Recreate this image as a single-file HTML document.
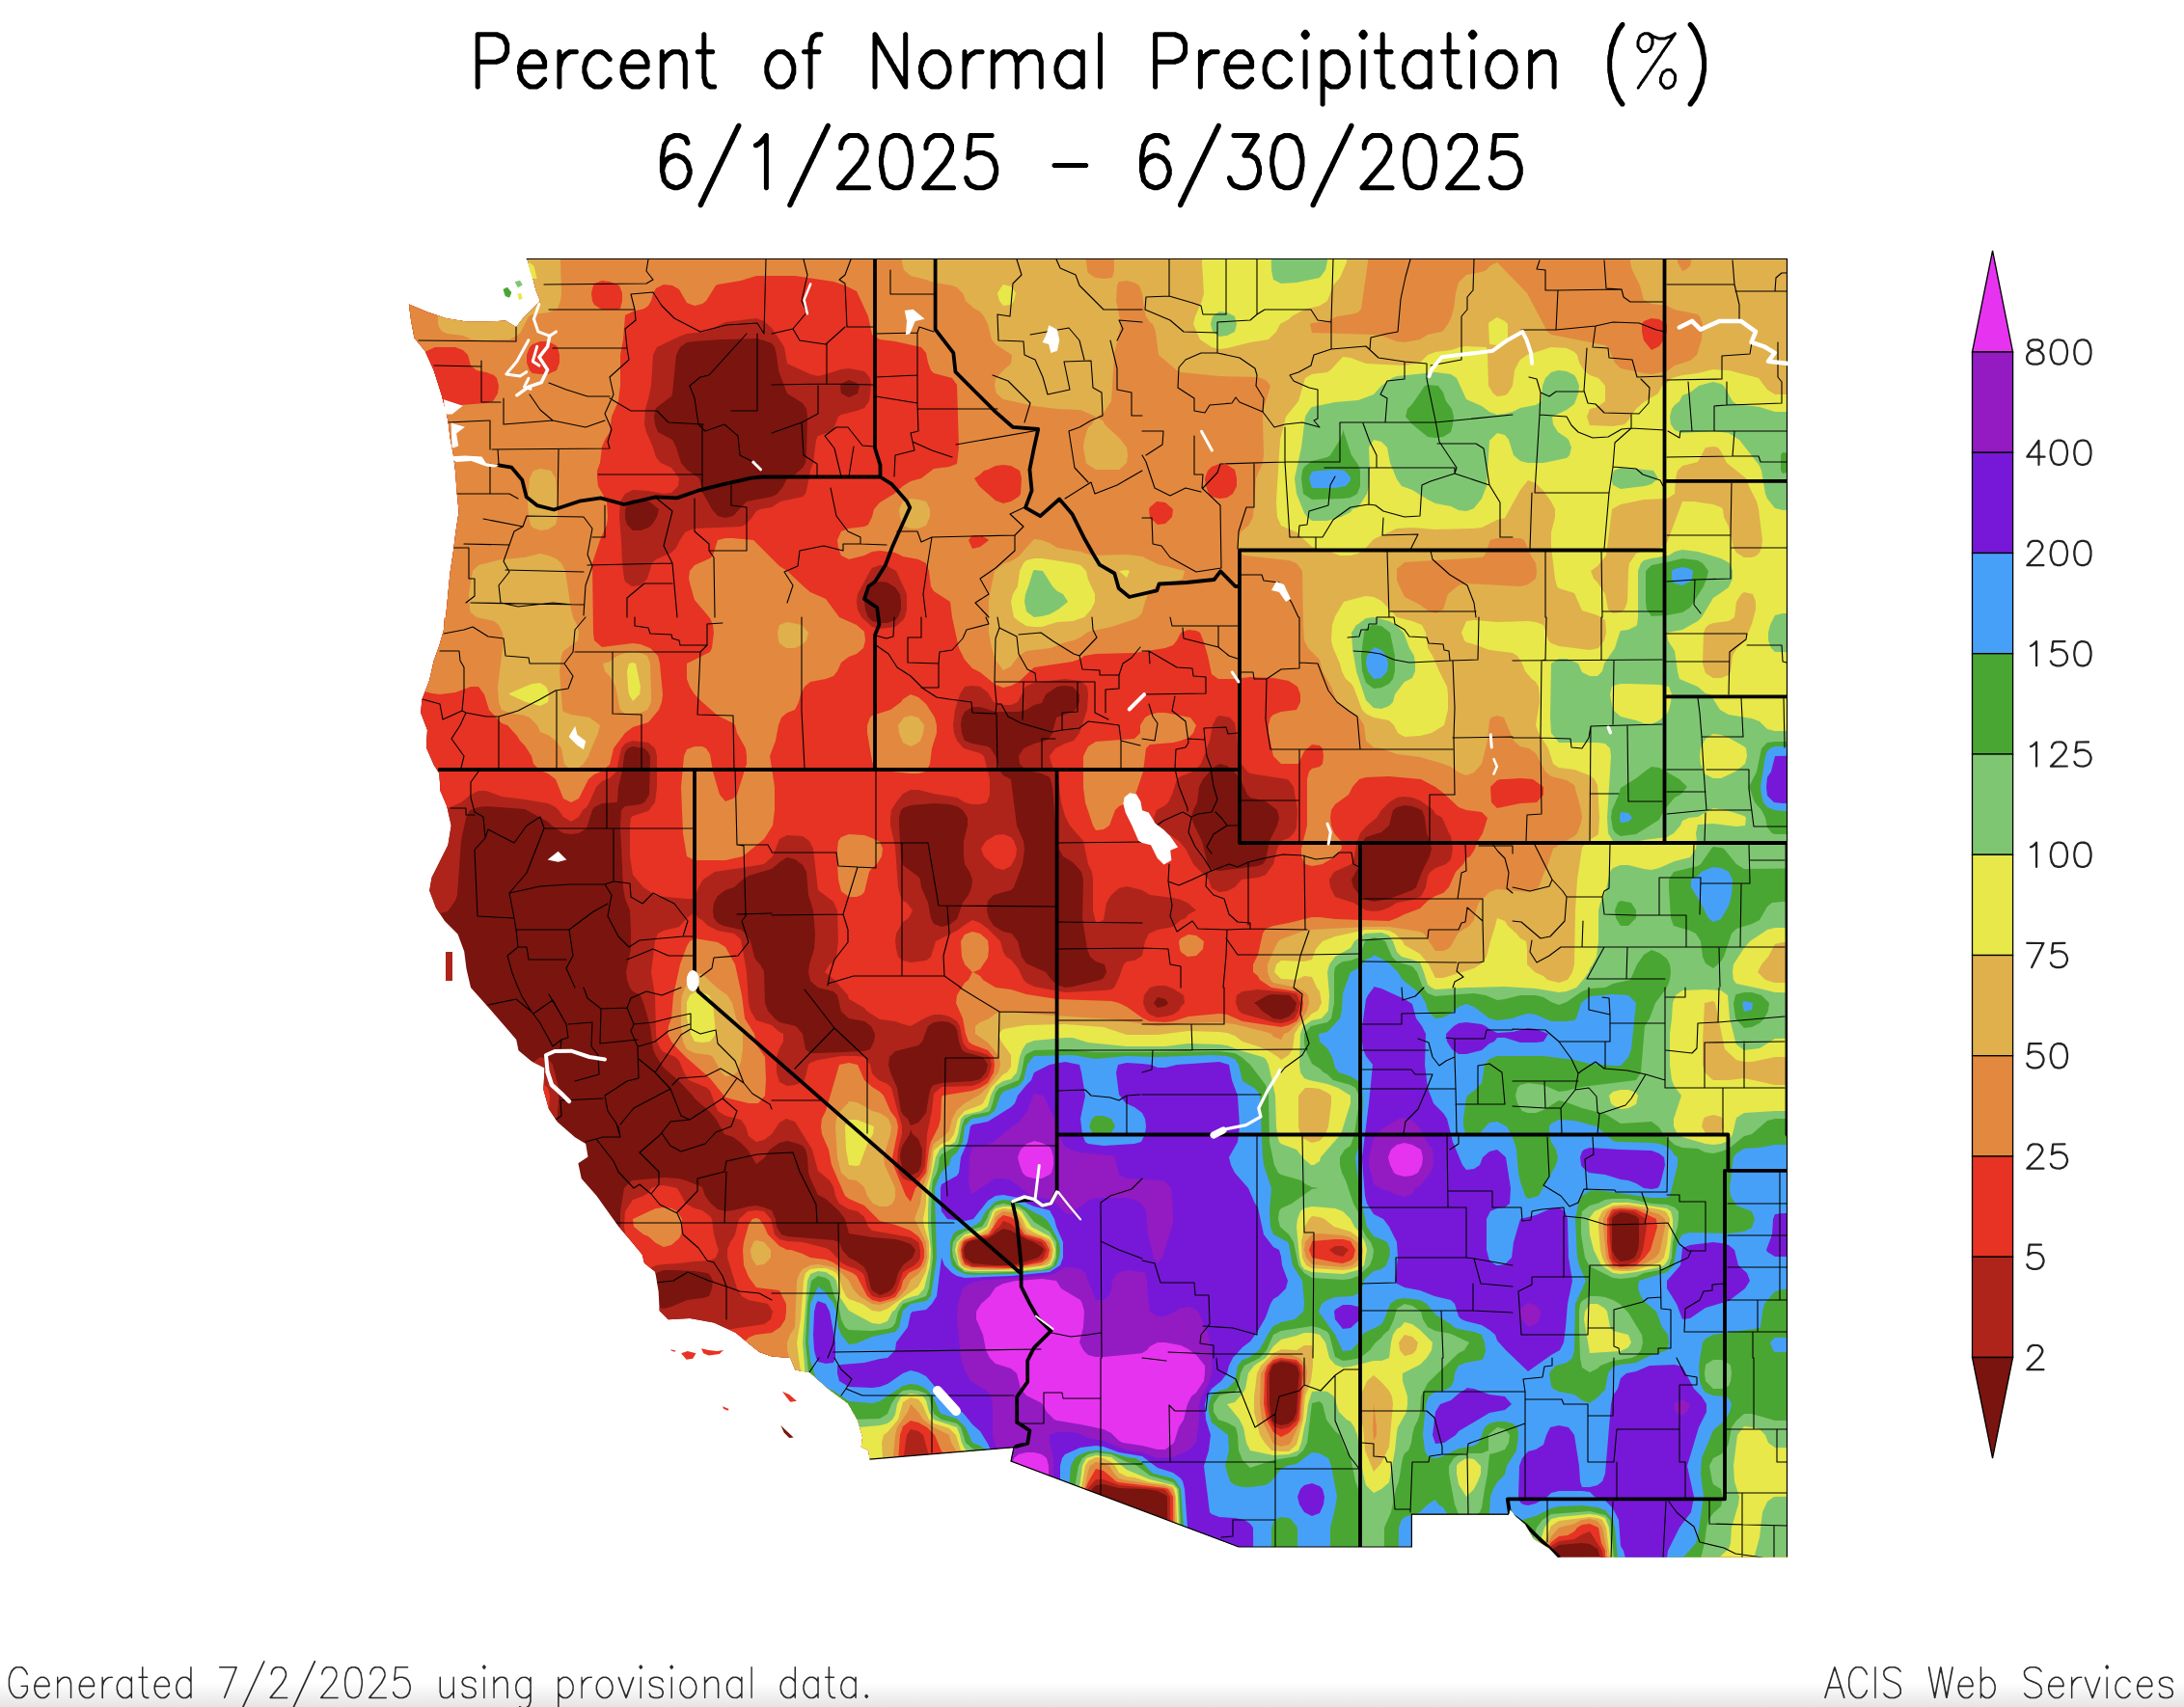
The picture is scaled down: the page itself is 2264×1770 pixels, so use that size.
<!DOCTYPE html>
<html lang="en"><head><meta charset="utf-8"><title>Percent of Normal Precipitation (%) 6/1/2025 - 6/30/2025</title>
<style>
html,body{margin:0;padding:0;background:#fff;}
body{width:2264px;height:1770px;overflow:hidden;position:relative;font-family:"Liberation Sans",sans-serif;}
svg{position:absolute;left:0;top:0;display:block}
.sr{position:absolute;color:transparent;font-size:10px;white-space:nowrap;overflow:hidden;width:1px;height:1px;left:0;top:0}
.shade{position:absolute;left:0;right:0;bottom:0;height:26px;background:linear-gradient(to bottom,rgba(0,0,0,0),rgba(0,0,0,0.10))}
</style></head><body>
<div class="shade"></div>
<svg width="2264" height="1770" viewBox="0 0 2264 1770">

<defs><clipPath id="land"><path d="M546.5,268.5 1852.5,268.5 1852.5,1614.5 1614.8,1614.8 1605.5,1604.9 1590.2,1595.7 1580.9,1580.3 1571.7,1572.6 1565.5,1564.9 1564.0,1570.2 1463.4,1570.2 1463.4,1604.0 1284.0,1604.0 1048.0,1515.1 1051.0,1500.7 901.5,1513.1 900.3,1503.9 892.8,1500.2 894.1,1490.2 889.1,1472.8 879.1,1455.3 859.2,1440.4 839.3,1422.9 824.3,1420.5 819.3,1408.0 800.0,1406.5 787.2,1402.0 776.0,1393.0 762.5,1381.7 740.0,1371.6 715.2,1367.1 692.7,1368.2 683.7,1359.2 682.6,1339.0 679.2,1318.7 668.0,1309.7 665.7,1300.7 654.5,1287.2 641.0,1271.5 629.7,1255.7 618.5,1240.0 602.7,1222.0 599.4,1206.2 609.5,1199.5 607.2,1186.0 596.0,1179.2 578.0,1163.5 569.0,1150.0 563.4,1129.7 564.5,1107.2 551.0,1100.5 537.5,1089.2 535.2,1078.0 521.7,1062.2 506.0,1044.2 488.0,1024.0 488.0,1024.0 483.5,1004.5 481.2,986.5 474.5,968.5 461.0,955.0 452.0,941.5 445.2,923.5 447.5,910.0 455.4,894.2 464.4,876.2 467.7,856.0 463.2,835.7 456.5,820.0 455.4,802.0 449.7,793.0 441.9,775.0 443.0,757.0 436.2,739.0 437.4,725.5 445.2,705.2 449.7,685.0 455.4,669.2 459.9,653.5 461.0,640.0 462.1,640.0 464.4,616.0 466.6,593.5 470.0,571.0 472.2,553.0 475.6,530.5 473.4,508.0 472.2,490.0 470.0,472.0 466.6,454.0 464.4,436.0 462.1,427.0 457.6,409.0 449.7,384.2 440.7,364.0 429.5,350.5 426.1,332.5 423.9,315.6 443.0,323.5 463.2,330.2 483.5,333.6 506.0,333.6 524.0,332.5 535.2,339.2 542.0,330.2 551.0,321.2 560.0,312.2 555.5,301.0 551.0,283.0 546.5,269.0Z"/></clipPath></defs>
<g clip-path="url(#land)">
<rect x="380" y="240" width="1500" height="1400" fill="#7a140e"/>
<path fill="#ae241a" fill-rule="evenodd" d="M376,208 1904,208 1904,1712 1659,1712 1659,1616 1656,1606 1648,1601 1640,1600 1616,1602 1607,1608 1605,1616 1605,1624 1605,1712 1211,1712 1210,1552 1208,1550 1200,1546 1187,1544 1160,1543 1144,1539 1136,1540 1132,1544 1128,1552 1126,1568 1120,1574 1104,1577 1099,1584 1096,1600 1088,1608 1072,1611 1067,1616 1067,1712 937,1712 937,1576 938,1560 936,1556 928,1558 920,1557 917,1560 917,1576 904,1589 896,1590 888,1589 885,1592 887,1616 886,1640 872,1653 864,1654 856,1653 853,1656 854,1664 855,1712 368,1712 368,1487 432,1487 448,1486 456,1480 462,1472 464,1455 480,1454 488,1448 494,1440 496,1423 544,1422 552,1416 558,1408 559,1392 576,1388 578,1384 580,1376 580,1360 583,1352 592,1348 608,1346 610,1344 612,1328 615,1320 624,1316 632,1315 640,1312 643,1304 644,1296 643,1272 643,1256 647,1232 655,1224 688,1221 704,1222 711,1224 728,1231 731,1240 737,1248 744,1254 752,1256 760,1255 776,1251 784,1250 792,1252 800,1255 804,1264 805,1272 810,1280 816,1282 864,1286 870,1288 873,1296 880,1304 888,1308 896,1314 899,1320 903,1336 904,1338 912,1343 920,1340 925,1336 928,1331 931,1320 936,1312 946,1304 949,1296 944,1290 936,1287 928,1285 904,1283 880,1279 876,1264 870,1256 856,1243 848,1239 840,1222 838,1216 837,1200 835,1192 832,1188 824,1185 816,1183 808,1185 798,1192 792,1201 784,1207 775,1192 768,1185 760,1179 751,1176 742,1160 736,1153 720,1139 718,1136 704,1121 688,1107 680,1095 677,1088 674,1064 667,1040 664,1032 656,1028 653,1024 650,1016 649,1008 654,984 654,968 653,944 648,932 646,920 643,856 644,840 648,836 664,834 668,832 673,824 674,784 672,780 668,776 656,774 651,776 648,780 647,784 645,800 641,816 640,831 639,832 624,833 616,837 614,840 608,859 600,864 592,865 584,864 572,856 568,852 544,839 504,836 496,837 487,840 483,848 478,872 474,928 472,934 464,945 456,947 368,946 368,208ZM747,352 720,354 712,355 705,360 701,368 697,408 696,411 680,423 678,432 679,440 682,448 697,456 701,464 706,480 712,487 725,496 729,512 738,528 744,535 752,537 760,535 774,520 800,515 806,512 812,504 816,496 824,492 832,485 835,480 836,472 837,432 836,424 832,418 816,408 807,384 805,368 803,360 800,356 792,353 784,351 752,352ZM871,400 872,408 880,412 889,408 891,400 888,397 880,394 872,398ZM652,520 648,528 648,537 650,544 656,550 664,550 672,547 676,544 681,536 683,528 673,520 656,518ZM903,608 897,616 896,624 897,632 900,640 904,644 912,646 920,646 928,643 931,640 934,632 934,624 933,616 928,609 920,604 912,603 904,606ZM1096,712 1084,720 1080,729 1072,731 1064,736 1056,738 1040,738 1032,738 1016,733 1008,733 1000,738 997,744 996,752 997,760 1000,768 1008,771 1024,774 1027,776 1032,784 1037,800 1040,804 1048,808 1054,856 1061,872 1062,880 1060,896 1051,920 1048,923 1030,928 1024,934 1023,944 1025,952 1030,960 1040,966 1049,968 1055,976 1059,992 1064,999 1084,1008 1090,1016 1096,1021 1104,1024 1112,1023 1141,1016 1144,1014 1147,1008 1145,1000 1136,997 1130,992 1127,984 1122,952 1123,912 1121,904 1112,894 1102,888 1096,877 1091,816 1089,808 1088,806 1080,802 1064,799 1057,792 1056,784 1061,776 1072,771 1084,768 1088,765 1091,760 1095,744 1112,738 1115,736 1119,728 1119,720 1112,712 1104,711 1096,712ZM1254,800 1247,808 1243,816 1241,832 1237,840 1235,848 1238,856 1246,872 1252,896 1256,901 1264,903 1272,902 1304,898 1309,896 1312,892 1316,872 1324,856 1326,848 1324,840 1312,831 1296,827 1293,824 1286,808 1280,801 1272,794 1264,792 1256,797ZM934,840 932,848 932,856 934,888 936,897 952,909 954,912 955,920 962,936 965,952 968,958 976,961 980,960 984,959 992,953 998,936 1004,928 1007,920 1008,912 1005,904 1000,896 999,888 999,872 1003,856 1003,848 998,840 992,836 984,834 968,833 944,835 936,838ZM1444,840 1440,856 1432,863 1416,868 1413,872 1410,896 1401,912 1403,920 1409,928 1416,933 1424,935 1440,932 1464,923 1468,920 1474,904 1482,888 1484,880 1482,872 1479,864 1477,848 1474,840 1464,836 1456,835 1448,837ZM806,896 800,901 776,908 770,912 761,920 752,923 744,929 740,936 739,944 740,952 744,957 750,960 768,964 773,968 778,976 782,992 784,996 788,1000 792,1007 793,1040 796,1048 803,1056 808,1060 825,1064 832,1072 835,1088 840,1092 848,1092 896,1090 902,1088 906,1080 907,1072 903,1064 896,1059 880,1056 872,1049 868,1032 864,1028 848,1024 840,1017 838,1008 839,1000 844,984 845,968 843,944 838,928 836,904 832,897 824,891 816,889 808,894ZM1314,1032 1300,1040 1304,1043 1308,1048 1320,1056 1328,1057 1336,1054 1342,1048 1344,1040 1337,1032 1320,1031ZM1196,1040 1200,1045 1208,1043 1211,1040 1208,1036 1200,1034ZM962,1064 956,1080 952,1084 928,1090 922,1096 921,1104 923,1112 930,1128 934,1152 936,1156 941,1160 944,1167 952,1164 960,1154 963,1136 965,1128 968,1125 976,1123 1008,1121 1016,1119 1022,1112 1024,1104 1019,1096 1000,1091 997,1088 994,1080 992,1068 990,1064 984,1060 976,1059 968,1060ZM943,1176 936,1187 934,1192 933,1200 936,1214 944,1219 952,1215 955,1208 956,1192 952,1181 946,1176 944,1171ZM1671,1264 1671,1296 1675,1304 1680,1308 1688,1307 1694,1304 1696,1301 1698,1296 1699,1288 1699,1264 1696,1261 1688,1258 1680,1257 1672,1262ZM1031,1280 1024,1284 1008,1286 1003,1288 1000,1292 999,1296 1000,1304 1008,1310 1032,1312 1050,1312 1076,1304 1080,1300 1082,1296 1080,1293 1072,1288 1064,1285 1048,1276 1040,1274 1032,1279ZM680,1320 676,1328 676,1336 676,1344 678,1352 680,1355 688,1357 696,1355 712,1348 728,1346 735,1344 738,1336 739,1328 736,1322 733,1320 720,1318 696,1317 688,1317 680,1320ZM1319,1416 1316,1424 1316,1432 1316,1456 1318,1472 1320,1475 1328,1478 1336,1476 1341,1472 1344,1464 1346,1432 1347,1424 1344,1416 1336,1413 1328,1412 1320,1415ZM560,1096 568,1098 573,1104 579,1128 579,1144 576,1177 568,1184 528,1186 520,1188 516,1192 512,1209 504,1216 464,1218 456,1220 452,1224 448,1241 440,1248 424,1250 368,1249 368,1156 472,1155 480,1152 483,1144 484,1136 488,1127 496,1124 528,1124 544,1122 546,1120 550,1112 552,1102 560,1096Z"/>
<path fill="#e63323" fill-rule="evenodd" d="M376,208 1904,208 1904,1712 1662,1712 1662,1616 1661,1608 1648,1588 1640,1591 1632,1596 1616,1598 1608,1603 1605,1608 1603,1624 1603,1712 1214,1712 1213,1552 1208,1545 1205,1544 1160,1540 1144,1534 1136,1534 1128,1543 1123,1568 1120,1571 1104,1574 1101,1576 1096,1584 1094,1600 1088,1606 1072,1608 1064,1616 1064,1712 966,1712 966,1520 957,1488 952,1484 944,1482 940,1488 933,1536 928,1541 912,1544 904,1552 902,1568 896,1574 880,1576 873,1584 872,1616 870,1632 864,1638 848,1640 841,1648 840,1712 453,1712 454,1648 456,1642 464,1638 480,1634 482,1632 486,1616 490,1608 496,1606 512,1602 514,1600 518,1584 522,1576 528,1574 544,1570 546,1568 550,1552 554,1544 560,1542 576,1538 578,1536 582,1520 586,1512 592,1510 608,1506 610,1504 614,1488 618,1480 624,1478 640,1474 642,1472 646,1456 650,1448 656,1446 672,1442 674,1440 678,1424 682,1416 688,1414 704,1410 706,1408 712,1382 720,1375 728,1375 744,1379 752,1379 792,1373 799,1368 801,1360 796,1352 776,1348 769,1344 764,1336 754,1304 754,1296 757,1288 760,1284 762,1280 766,1264 775,1256 784,1255 792,1256 799,1264 803,1280 808,1285 816,1287 832,1288 856,1294 860,1296 872,1309 877,1312 888,1316 894,1320 896,1323 899,1336 904,1344 912,1346 923,1344 928,1340 930,1336 936,1319 948,1312 952,1308 954,1304 954,1296 952,1288 944,1283 904,1276 900,1272 896,1262 889,1256 880,1254 870,1248 866,1240 864,1231 860,1224 848,1214 842,1192 824,1163 815,1160 808,1164 800,1176 792,1182 784,1184 776,1178 773,1168 768,1161 752,1157 744,1152 736,1131 733,1128 714,1120 709,1112 704,1100 700,1096 688,1091 685,1088 681,1080 680,1072 679,1032 675,1008 679,976 682,968 688,965 704,961 712,952 720,946 724,952 728,954 734,960 744,965 761,968 768,974 774,1008 776,1040 778,1048 784,1058 800,1063 808,1070 812,1072 812,1080 808,1087 805,1096 805,1112 808,1122 816,1126 824,1125 832,1122 834,1120 838,1104 840,1102 848,1099 872,1095 888,1095 896,1096 902,1104 904,1113 911,1120 920,1124 924,1128 935,1168 935,1176 931,1192 930,1208 932,1216 936,1222 944,1225 952,1221 956,1216 959,1208 961,1176 966,1152 968,1134 976,1127 1008,1126 1016,1123 1024,1117 1026,1112 1028,1104 1026,1096 1024,1094 1016,1091 1004,1088 1000,1084 998,1080 995,1064 992,1059 984,1054 976,1052 968,1052 960,1055 944,1064 936,1062 928,1059 912,1057 898,1048 896,1045 880,1036 879,1032 864,1015 855,1008 860,1000 864,998 867,992 869,976 868,944 864,935 848,923 843,880 839,872 832,867 816,866 808,870 801,888 792,896 768,900 741,904 729,912 724,920 720,932 712,932 680,929 667,920 656,907 653,888 653,856 654,848 656,846 672,841 679,832 681,816 681,784 679,776 672,770 656,768 648,771 644,776 639,800 632,807 624,810 618,816 611,832 608,837 604,840 600,847 592,852 584,847 579,840 576,837 568,833 544,829 520,826 504,820 496,820 488,824 478,832 464,838 368,839 368,208ZM748,336 731,344 712,346 704,349 681,360 677,368 675,400 672,414 669,424 668,440 670,448 677,464 680,474 685,480 696,485 704,496 703,504 696,511 688,512 672,509 656,508 648,512 643,520 642,536 644,560 645,584 647,600 648,603 655,608 664,607 671,600 676,584 680,580 696,573 701,568 705,560 710,552 712,551 720,548 768,546 773,544 780,536 784,530 788,528 800,526 809,520 832,515 835,512 837,504 840,488 843,480 846,456 848,452 860,448 864,445 869,432 872,430 888,426 896,423 901,416 903,400 902,392 896,385 880,382 872,383 856,388 848,390 840,388 816,377 813,360 800,340 792,333 784,330 752,334ZM902,592 889,616 888,624 889,632 893,640 904,650 912,652 928,650 936,643 938,640 940,632 940,616 929,592 920,587 912,586 904,589ZM1000,712 995,720 990,736 988,752 989,760 992,768 999,776 1016,781 1020,784 1026,808 1026,824 1023,832 1016,834 1008,834 1000,832 992,827 968,823 952,819 944,819 936,823 929,832 924,840 923,848 923,856 928,878 931,920 933,928 936,934 940,936 946,944 942,952 936,956 929,968 928,976 929,984 931,992 936,996 944,998 960,996 965,992 970,976 992,965 1000,959 1008,954 1016,957 1024,963 1037,976 1040,987 1043,992 1048,995 1056,1005 1061,1016 1064,1019 1072,1023 1104,1029 1144,1027 1152,1026 1155,1024 1159,1016 1165,1000 1168,997 1176,996 1184,991 1187,976 1191,968 1200,964 1216,961 1224,954 1229,952 1232,948 1240,944 1231,936 1224,933 1216,931 1192,928 1184,923 1168,919 1160,921 1152,928 1147,936 1144,954 1136,957 1133,944 1133,912 1132,904 1128,896 1123,872 1109,856 1104,846 1100,832 1097,808 1090,792 1088,784 1094,776 1104,771 1113,768 1119,760 1127,736 1128,720 1127,712 1120,706 1104,704 1072,708 1063,712 1055,728 1048,731 1040,731 1030,728 1024,718 1016,712 1008,711 1000,712ZM1261,744 1257,752 1254,768 1245,792 1237,800 1224,805 1220,808 1215,824 1211,832 1208,835 1199,840 1196,848 1198,856 1222,872 1229,880 1237,896 1253,912 1256,921 1264,925 1272,924 1280,920 1287,912 1304,910 1312,907 1320,896 1324,880 1328,872 1336,869 1341,864 1344,858 1345,840 1341,816 1336,809 1334,808 1296,802 1293,800 1287,792 1280,750 1275,744 1264,742ZM1440,832 1432,840 1427,848 1416,857 1410,864 1407,872 1404,888 1401,896 1383,904 1378,912 1379,920 1384,930 1403,936 1416,944 1424,945 1432,944 1440,941 1448,936 1464,933 1472,930 1474,928 1478,920 1480,908 1483,904 1488,900 1499,896 1504,891 1506,880 1504,867 1502,864 1495,848 1488,844 1486,840 1472,830 1464,827 1456,826 1448,827 1440,832ZM1192,1024 1186,1032 1185,1040 1188,1048 1192,1052 1200,1055 1208,1054 1216,1052 1222,1048 1224,1044 1228,1040 1227,1032 1216,1025 1208,1022 1200,1022 1192,1024ZM1282,1032 1281,1040 1284,1048 1288,1051 1320,1060 1328,1061 1336,1059 1342,1056 1346,1048 1348,1040 1344,1031 1336,1029 1304,1026 1288,1028ZM1675,1256 1672,1258 1668,1264 1669,1288 1671,1304 1672,1307 1680,1312 1688,1311 1696,1308 1700,1304 1703,1296 1707,1272 1706,1264 1694,1256 1680,1255ZM1036,1272 1032,1275 1028,1280 1024,1282 1008,1285 1000,1288 997,1296 998,1304 1000,1308 1008,1313 1048,1313 1059,1312 1080,1306 1082,1304 1085,1296 1080,1288 1064,1283 1059,1280 1048,1269 1040,1266ZM1378,1296 1384,1301 1392,1303 1398,1296 1392,1292 1384,1292ZM1317,1416 1314,1424 1313,1432 1313,1456 1316,1472 1320,1479 1328,1482 1336,1480 1344,1473 1346,1464 1349,1432 1349,1424 1347,1416 1344,1413 1336,1411 1328,1410 1320,1413ZM1024,871 1032,866 1040,865 1048,868 1051,872 1054,880 1053,888 1048,898 1040,902 1032,900 1020,888 1017,880 1022,872ZM552,1125 560,1122 568,1128 570,1136 568,1168 561,1176 528,1177 520,1178 512,1184 506,1192 504,1202 497,1208 464,1209 456,1210 448,1216 442,1224 440,1234 433,1240 424,1241 368,1241 368,1163 472,1162 480,1160 488,1152 492,1136 496,1132 536,1130 546,1128ZM680,1230 688,1229 702,1232 711,1248 720,1253 728,1255 736,1261 738,1264 740,1280 744,1294 745,1296 742,1304 736,1307 720,1308 704,1310 688,1311 680,1312 672,1316 669,1320 664,1339 656,1344 624,1344 620,1336 620,1328 624,1324 640,1320 648,1312 650,1304 651,1296 647,1272 648,1256 656,1244 667,1240 672,1237 675,1232ZM592,1356 600,1356 608,1360 606,1368 600,1374 592,1375 588,1368 588,1360Z"/>
<path fill="#e2893f" fill-rule="evenodd" d="M376,208 1904,208 1904,1712 1665,1712 1664,1608 1660,1600 1657,1584 1648,1580 1640,1581 1635,1584 1632,1588 1625,1592 1616,1593 1608,1599 1603,1608 1601,1624 1601,1712 1217,1712 1216,1552 1211,1544 1208,1543 1160,1537 1157,1536 1144,1525 1136,1523 1128,1537 1125,1544 1123,1560 1121,1568 1112,1571 1104,1572 1098,1576 1095,1584 1092,1600 1088,1604 1072,1607 1068,1608 1064,1613 1063,1616 1062,1624 1062,1712 1011,1712 1011,1528 1010,1520 992,1513 976,1505 969,1488 961,1480 952,1475 944,1473 936,1479 933,1488 930,1528 928,1534 920,1538 912,1539 904,1542 900,1552 899,1560 896,1568 888,1571 880,1572 871,1576 868,1584 867,1624 864,1632 856,1635 848,1636 839,1640 836,1648 836,1712 664,1712 664,1656 666,1640 672,1630 680,1626 688,1624 695,1616 698,1576 702,1568 712,1562 720,1560 728,1552 731,1536 738,1520 739,1488 742,1480 744,1478 765,1472 768,1469 770,1464 771,1456 771,1392 776,1387 783,1384 800,1382 809,1376 814,1368 815,1360 815,1352 808,1338 784,1335 776,1324 771,1312 770,1296 771,1288 776,1270 780,1264 784,1263 787,1264 792,1271 796,1280 808,1292 816,1296 820,1296 832,1300 840,1304 856,1306 864,1309 872,1315 884,1320 888,1323 899,1344 904,1348 912,1350 920,1348 928,1345 934,1336 936,1328 942,1320 952,1315 955,1312 958,1304 958,1296 956,1288 952,1282 944,1276 928,1270 912,1266 896,1250 880,1243 876,1240 862,1208 859,1192 852,1176 851,1168 852,1160 856,1152 870,1104 880,1102 889,1104 896,1120 904,1127 912,1132 916,1136 923,1152 929,1160 931,1168 930,1176 925,1200 926,1208 939,1240 944,1246 949,1232 952,1229 954,1224 960,1216 963,1192 965,1184 973,1168 975,1160 976,1138 977,1136 1008,1131 1016,1128 1024,1123 1030,1112 1031,1104 1030,1096 1024,1089 1008,1083 1004,1080 1001,1072 998,1056 991,1040 992,1032 1000,1019 1004,1016 1008,1008 1000,1000 997,992 996,976 1000,969 1008,966 1016,968 1024,975 1025,984 1024,993 1016,1005 1009,1008 1016,1012 1019,1016 1032,1024 1048,1026 1064,1031 1096,1036 1152,1038 1160,1040 1168,1044 1185,1056 1192,1059 1208,1060 1216,1059 1232,1054 1264,1051 1272,1052 1288,1059 1328,1065 1336,1063 1344,1059 1346,1056 1350,1048 1351,1040 1349,1032 1344,1028 1318,1024 1306,1016 1304,1012 1299,1008 1299,1000 1304,990 1309,968 1312,963 1320,960 1336,957 1360,951 1368,951 1384,953 1440,955 1448,952 1456,948 1472,942 1480,934 1488,929 1496,926 1502,920 1509,904 1517,896 1520,890 1524,888 1528,882 1532,872 1537,864 1542,848 1536,842 1520,840 1512,837 1496,822 1488,816 1473,808 1440,805 1416,806 1409,808 1402,816 1398,824 1384,834 1380,840 1379,848 1380,856 1383,864 1390,872 1391,880 1384,888 1371,896 1360,898 1353,896 1349,888 1349,880 1355,856 1355,808 1357,800 1360,797 1368,795 1371,792 1372,784 1371,776 1368,773 1360,772 1352,779 1346,792 1328,792 1320,784 1315,760 1315,752 1317,744 1320,741 1328,738 1344,736 1348,728 1348,720 1345,712 1336,706 1320,703 1296,702 1280,704 1263,704 1256,699 1252,680 1248,666 1244,656 1240,654 1232,653 1224,656 1220,664 1216,669 1208,672 1176,677 1136,678 1124,680 1120,683 1112,686 1072,692 1056,707 1048,711 1040,713 1032,710 1016,697 1008,693 1000,684 994,672 987,640 985,624 968,613 965,608 963,592 960,584 952,580 936,577 928,573 912,571 904,572 896,576 880,580 872,576 869,568 868,560 872,551 880,548 896,546 900,544 904,536 906,528 912,521 927,512 936,504 944,499 955,496 968,486 984,484 992,481 994,464 992,399 987,392 968,387 965,384 962,376 960,366 955,360 928,354 912,352 904,347 900,328 888,302 876,296 864,292 824,286 784,286 768,291 744,295 742,296 732,312 728,315 720,317 712,314 704,300 697,296 688,295 680,299 677,304 675,312 672,317 668,320 656,323 648,327 646,352 643,368 643,400 641,416 634,432 632,448 627,456 624,463 622,480 619,488 619,496 620,504 629,520 630,536 629,544 622,560 614,584 615,656 616,664 624,671 656,667 664,668 674,672 682,680 684,688 687,720 686,728 683,736 672,749 656,754 648,760 636,776 632,793 623,800 616,803 610,808 600,828 592,832 584,828 576,808 568,802 560,799 553,792 551,784 544,773 539,768 536,763 526,752 520,750 507,736 502,720 496,712 488,712 472,718 456,720 448,719 424,713 368,713 368,704 408,704 416,705 424,707 426,696 424,694 368,695 368,393 420,392 418,384 424,381 424,392 429,400 432,401 438,408 448,416 456,420 464,421 504,418 511,416 516,408 517,400 515,392 512,389 504,386 494,384 488,379 485,368 480,363 472,360 451,360 440,365 431,368 424,375 368,375 368,208ZM615,296 613,304 614,312 616,316 624,321 640,321 643,320 645,312 645,304 642,296 632,292 624,291 616,294ZM1702,336 1702,344 1704,353 1712,363 1720,359 1725,352 1728,344 1728,336 1720,331 1712,330 1704,333ZM549,360 546,368 546,376 549,384 552,387 560,388 568,388 577,384 580,376 580,368 578,360 576,358 568,354 560,354 552,357ZM1020,488 1016,492 1010,496 1015,504 1032,519 1040,522 1048,520 1056,515 1058,512 1059,496 1057,488 1048,483 1040,482 1032,483 1024,487ZM1252,488 1249,496 1250,504 1253,512 1256,515 1264,517 1272,516 1278,512 1282,504 1282,496 1280,487 1272,482 1264,481 1256,484ZM1199,520 1192,526 1191,528 1192,537 1200,544 1208,543 1215,536 1216,528 1208,521 1200,520ZM1004,560 1008,569 1016,567 1024,561 1025,560 1024,559 1016,555 1008,555ZM1556,808 1552,809 1545,816 1546,832 1552,838 1576,833 1593,832 1600,824 1600,816 1589,808 1576,807 1560,808ZM1670,1256 1666,1264 1666,1288 1668,1304 1672,1312 1680,1314 1696,1312 1705,1304 1711,1296 1718,1272 1717,1264 1696,1254 1680,1253 1672,1254ZM1035,1264 1025,1280 1008,1283 1000,1286 998,1288 996,1296 997,1304 1000,1311 1008,1314 1048,1315 1080,1309 1086,1304 1088,1296 1084,1288 1080,1285 1062,1280 1051,1264 1048,1262 1040,1260ZM1360,1288 1357,1296 1360,1304 1384,1309 1392,1310 1400,1307 1403,1304 1405,1296 1400,1287 1392,1285 1384,1285 1360,1287ZM1327,1408 1320,1410 1314,1416 1311,1424 1310,1456 1313,1472 1320,1485 1328,1490 1336,1486 1344,1478 1347,1472 1351,1424 1350,1416 1344,1410 1328,1408ZM744,560 752,558 760,558 781,560 808,587 816,592 833,608 840,614 856,621 870,640 888,648 896,655 897,664 895,672 888,678 880,681 872,687 868,696 864,701 856,704 840,707 834,712 830,720 828,728 824,736 816,739 810,744 807,752 804,768 798,784 803,816 803,840 801,856 792,870 770,888 752,892 720,892 712,888 708,864 706,816 709,784 712,777 720,774 728,774 732,776 736,782 739,800 746,824 752,831 760,828 764,824 774,792 774,784 773,776 764,760 762,752 760,750 744,742 728,728 720,720 715,712 712,704 712,688 736,676 738,672 740,656 739,648 736,641 720,622 716,608 714,600 715,592 720,586 736,579 739,576 744,560ZM936,725 944,720 952,723 960,730 969,744 971,752 971,760 966,776 964,792 960,800 952,802 944,802 924,800 912,798 905,792 904,789 899,760 899,752 902,744 904,742 923,736 934,728ZM1192,741 1200,739 1208,739 1234,744 1240,752 1237,760 1232,765 1224,768 1216,770 1192,772 1188,776 1185,800 1177,824 1176,827 1169,832 1160,836 1156,840 1150,856 1144,860 1136,861 1133,856 1125,832 1123,816 1123,784 1128,774 1136,769 1176,766 1182,760 1182,752 1187,744ZM872,868 880,865 896,866 904,869 912,873 915,880 914,888 909,896 904,900 901,904 896,925 893,928 888,930 880,930 872,924 869,912 868,896 868,880 869,872ZM720,973 744,977 752,982 762,1000 769,1032 772,1056 782,1072 784,1083 793,1096 794,1120 793,1136 786,1144 776,1144 752,1138 736,1118 712,1097 703,1088 696,1080 692,1072 693,1064 696,1056 698,1032 705,1000 712,981 715,976ZM1224,973 1232,969 1240,970 1248,976 1247,984 1240,991 1231,992 1224,987 1223,984 1222,976ZM680,1253 688,1252 696,1253 702,1256 707,1264 706,1280 704,1284 696,1291 688,1293 680,1289 672,1282 667,1280 657,1272 656,1264 673,1256Z"/>
<path fill="#e0b04d" fill-rule="evenodd" d="M456,208 581,208 581,272 582,304 581,312 578,320 568,324 552,326 548,328 540,344 536,348 528,352 504,353 489,352 480,348 464,346 459,344 456,341 454,336 453,208ZM936,208 1125,208 1125,264 1127,280 1128,283 1135,288 1144,289 1153,288 1155,280 1155,208 1419,208 1418,272 1411,320 1408,324 1400,326 1386,328 1376,333 1360,335 1358,336 1360,345 1424,347 1432,348 1448,354 1456,355 1472,352 1480,347 1494,344 1496,343 1501,336 1504,330 1507,320 1509,304 1512,293 1520,285 1536,282 1541,280 1544,276 1552,272 1583,304 1604,344 1608,347 1664,358 1667,360 1674,376 1680,382 1704,387 1712,388 1728,385 1736,379 1752,374 1759,368 1764,352 1765,336 1762,328 1760,326 1736,321 1728,317 1712,315 1704,311 1700,296 1692,280 1690,272 1690,208 1738,208 1738,264 1739,272 1744,281 1747,280 1752,276 1753,272 1754,208 1904,208 1904,1712 1667,1712 1666,1608 1661,1584 1656,1577 1648,1575 1639,1576 1632,1580 1616,1584 1608,1593 1601,1608 1599,1624 1599,1712 1218,1712 1218,1576 1218,1552 1216,1546 1215,1544 1208,1541 1168,1535 1160,1533 1155,1528 1150,1520 1144,1517 1136,1516 1130,1520 1128,1525 1120,1564 1116,1568 1104,1570 1096,1575 1093,1584 1092,1592 1090,1600 1088,1602 1072,1605 1064,1609 1061,1616 1061,1624 1061,1712 1017,1712 1018,1520 1016,1517 1008,1512 1000,1511 991,1504 986,1496 984,1488 968,1480 957,1472 952,1464 944,1456 941,1464 930,1480 928,1488 925,1520 923,1528 920,1531 904,1537 897,1544 893,1560 888,1565 872,1570 866,1576 864,1584 863,1616 861,1624 856,1629 840,1634 834,1640 831,1656 831,1712 673,1712 673,1648 675,1640 680,1635 696,1631 703,1624 705,1584 707,1576 712,1571 728,1567 735,1560 738,1544 744,1535 756,1528 760,1524 763,1512 768,1506 776,1499 788,1496 792,1492 795,1480 800,1474 808,1467 820,1464 824,1460 825,1456 824,1435 823,1424 816,1400 816,1392 819,1384 824,1376 826,1328 829,1320 832,1316 840,1312 848,1311 864,1314 872,1320 880,1328 884,1336 891,1344 904,1352 912,1353 928,1348 933,1344 940,1336 944,1327 952,1321 959,1312 961,1304 960,1288 948,1264 954,1248 956,1232 962,1216 966,1192 968,1186 981,1176 984,1172 987,1160 992,1151 1000,1144 1016,1135 1024,1127 1035,1112 1037,1104 1036,1096 1030,1088 1024,1081 1011,1072 1011,1064 1016,1060 1024,1057 1032,1051 1040,1049 1048,1049 1064,1051 1152,1057 1200,1064 1232,1061 1264,1060 1280,1062 1312,1070 1318,1072 1320,1075 1328,1078 1331,1072 1336,1070 1350,1056 1355,1048 1357,1040 1356,1032 1352,1028 1344,1024 1320,1019 1317,1016 1314,1008 1314,1000 1320,986 1325,976 1328,974 1352,965 1360,964 1416,961 1440,961 1472,966 1476,968 1488,986 1496,986 1501,984 1504,981 1512,967 1523,960 1528,954 1530,944 1533,936 1544,925 1552,922 1584,925 1592,923 1595,920 1601,904 1605,896 1610,880 1632,867 1635,864 1638,856 1640,848 1639,840 1632,814 1624,809 1608,805 1602,800 1592,781 1585,776 1576,774 1569,768 1559,744 1552,742 1546,744 1544,747 1542,768 1536,792 1528,801 1520,804 1512,801 1504,795 1496,792 1472,785 1448,782 1432,776 1424,775 1416,768 1414,752 1409,744 1386,728 1380,712 1371,696 1368,684 1356,672 1352,664 1351,648 1350,592 1344,584 1336,581 1290,576 1288,575 1284,568 1283,560 1286,552 1295,544 1299,536 1302,496 1309,480 1310,472 1309,432 1310,424 1317,400 1312,394 1304,391 1264,390 1224,386 1220,384 1201,368 1198,344 1195,336 1192,334 1188,328 1186,320 1184,304 1181,296 1176,293 1168,291 1160,292 1158,296 1157,312 1162,336 1155,368 1152,416 1144,428 1137,432 1144,437 1145,440 1162,456 1168,464 1169,472 1168,480 1160,487 1136,487 1128,482 1126,480 1123,464 1124,456 1128,443 1132,440 1136,432 1120,425 1096,424 1072,421 1040,414 1033,408 1031,400 1032,393 1040,384 1048,377 1049,368 1032,357 1028,352 1024,336 1020,328 1016,323 1010,320 1001,312 998,304 992,298 987,296 968,293 960,290 944,286 937,280 935,272 935,264 935,208ZM1545,560 1539,576 1536,578 1456,583 1448,590 1448,602 1456,619 1472,627 1480,633 1488,636 1496,632 1501,616 1512,607 1520,605 1576,608 1584,606 1592,600 1593,592 1592,584 1587,576 1580,560 1576,558 1552,558ZM1039,1256 1032,1262 1029,1272 1024,1278 1020,1280 1000,1284 996,1288 994,1296 995,1304 998,1312 1008,1315 1040,1316 1080,1312 1088,1306 1089,1304 1090,1296 1088,1288 1080,1283 1068,1280 1064,1278 1060,1272 1056,1263 1048,1257 1040,1256ZM1666,1256 1662,1264 1662,1272 1665,1304 1669,1312 1672,1315 1680,1316 1688,1316 1702,1312 1716,1304 1720,1299 1721,1296 1726,1272 1726,1264 1720,1259 1696,1252 1680,1251 1672,1252ZM1360,1280 1353,1288 1352,1296 1354,1304 1360,1311 1392,1314 1402,1312 1408,1306 1410,1296 1408,1289 1400,1283 1392,1281 1368,1279 1360,1280ZM1320,1408 1312,1416 1307,1424 1306,1456 1308,1472 1320,1497 1328,1500 1336,1498 1338,1496 1349,1472 1351,1448 1354,1432 1355,1424 1354,1416 1347,1408 1336,1404 1328,1404 1320,1408ZM1424,1456 1423,1480 1424,1494 1427,1488 1427,1480 1424,1455ZM560,486 571,488 576,496 578,520 578,536 576,544 568,549 560,550 552,547 550,544 548,536 547,520 549,496 553,488ZM936,520 944,517 952,518 960,520 964,528 964,536 960,545 952,548 944,548 936,545 933,536 932,528 936,520ZM1072,559 1080,560 1088,563 1096,568 1120,572 1132,576 1168,575 1184,577 1200,585 1228,592 1226,600 1216,604 1200,606 1190,616 1187,624 1184,635 1180,640 1176,642 1152,650 1128,655 1120,661 1113,664 1104,666 1089,672 1064,675 1056,680 1048,691 1040,695 1032,684 1028,672 1025,656 1025,624 1026,616 1031,592 1041,584 1048,582 1056,577 1071,560ZM552,576 560,574 568,576 576,579 582,584 586,592 592,632 594,640 598,648 600,656 599,664 584,675 582,680 580,696 583,736 584,738 592,741 611,744 622,752 620,760 613,776 610,784 605,792 600,796 592,799 585,792 582,776 576,768 568,762 560,759 557,752 549,744 544,742 528,739 520,736 517,728 516,712 522,664 521,656 517,648 512,644 494,640 488,635 487,632 486,616 488,603 490,592 496,586 520,580 544,578 552,576ZM808,648 816,645 831,648 838,656 836,664 832,668 824,672 815,672 808,667 807,664 806,656 808,648ZM648,677 656,676 664,677 671,680 674,688 675,720 675,728 671,736 664,739 648,740 643,736 638,712 632,701 627,696 625,688 632,686 640,680ZM944,742 952,744 958,752 957,760 954,768 952,770 944,774 936,770 932,760 931,752 937,744ZM720,1009 728,1010 743,1024 754,1032 759,1040 763,1056 768,1064 770,1072 770,1088 768,1101 764,1112 760,1115 752,1116 748,1112 739,1096 736,1094 720,1092 712,1088 708,1080 706,1064 706,1040 707,1032 712,1020 716,1016ZM880,1142 888,1143 896,1147 904,1152 912,1154 921,1160 924,1168 923,1176 916,1200 917,1208 928,1232 928,1242 925,1248 920,1251 912,1251 905,1248 899,1240 896,1231 888,1224 880,1223 872,1216 868,1200 866,1168 867,1160 872,1151 879,1144ZM784,1286 792,1288 799,1296 799,1304 792,1311 784,1312 779,1304 778,1296 781,1288Z"/>
<path fill="#e8e84a" fill-rule="evenodd" d="M1248,208 1397,208 1396,272 1389,288 1382,296 1376,312 1368,317 1352,321 1339,328 1336,331 1327,336 1323,344 1315,352 1296,355 1272,361 1264,362 1256,360 1244,352 1237,336 1239,328 1246,312 1248,304 1246,272 1246,208ZM1040,295 1048,297 1053,304 1051,312 1048,316 1040,317 1036,312 1034,304 1039,296ZM1544,334 1552,329 1560,333 1563,336 1563,352 1560,356 1552,358 1544,357 1543,336ZM1520,359 1541,360 1542,368 1543,400 1548,408 1552,411 1560,410 1563,408 1568,400 1570,384 1574,376 1576,373 1583,368 1608,360 1624,361 1632,365 1635,368 1637,376 1642,384 1648,389 1657,392 1664,400 1664,416 1656,422 1648,424 1645,432 1648,441 1672,442 1684,440 1688,436 1690,432 1696,424 1704,417 1719,408 1723,400 1728,397 1733,392 1744,389 1760,387 1776,383 1792,384 1823,392 1832,404 1840,409 1904,409 1904,978 1848,977 1840,979 1833,992 1826,1000 1822,1008 1830,1016 1840,1019 1904,1019 1904,1096 1840,1096 1816,1101 1808,1101 1800,1099 1788,1088 1778,1040 1776,1038 1767,1040 1765,1080 1765,1104 1767,1112 1776,1120 1792,1120 1808,1118 1840,1125 1904,1125 1904,1712 1669,1712 1669,1616 1665,1584 1661,1576 1656,1574 1648,1573 1616,1577 1608,1582 1598,1608 1596,1624 1596,1712 1220,1712 1220,1576 1219,1552 1217,1544 1216,1542 1208,1539 1192,1537 1176,1532 1168,1531 1160,1527 1156,1520 1152,1516 1144,1512 1136,1511 1128,1515 1125,1520 1118,1560 1112,1566 1104,1568 1096,1572 1094,1576 1091,1592 1088,1600 1080,1603 1072,1604 1063,1608 1060,1616 1060,1624 1060,1712 1021,1712 1021,1552 1022,1520 1016,1511 1000,1507 996,1504 991,1488 984,1481 968,1476 963,1472 956,1456 952,1451 944,1449 936,1454 931,1472 920,1485 916,1488 914,1496 915,1512 913,1520 896,1531 892,1536 886,1552 880,1558 864,1565 861,1568 857,1576 855,1592 856,1608 854,1616 848,1622 832,1629 829,1632 825,1640 823,1656 824,1712 677,1712 677,1648 681,1640 688,1637 704,1635 707,1632 709,1624 709,1584 712,1577 720,1573 736,1570 738,1568 740,1560 743,1544 752,1539 765,1536 768,1533 774,1512 776,1510 797,1504 800,1501 806,1480 808,1478 824,1474 829,1472 832,1469 834,1464 835,1456 828,1408 826,1392 830,1368 833,1328 835,1320 840,1316 848,1315 856,1315 864,1318 867,1320 871,1328 873,1336 877,1344 880,1347 894,1352 904,1359 912,1360 920,1357 952,1334 960,1318 963,1304 963,1288 958,1272 957,1264 960,1248 960,1232 965,1216 968,1193 976,1186 984,1183 989,1176 993,1160 1000,1152 1016,1146 1019,1144 1027,1128 1040,1114 1044,1112 1048,1106 1048,1094 1038,1080 1035,1072 1040,1067 1064,1063 1104,1062 1144,1065 1168,1073 1200,1073 1232,1069 1264,1070 1272,1071 1280,1074 1288,1080 1304,1085 1312,1088 1325,1096 1328,1099 1336,1094 1340,1088 1342,1072 1347,1064 1360,1051 1366,1048 1370,1040 1368,1028 1365,1024 1360,1013 1352,1012 1344,1016 1328,1015 1321,1008 1323,1000 1328,996 1352,997 1360,995 1364,984 1371,976 1384,971 1416,964 1432,964 1440,965 1446,968 1454,976 1456,980 1472,989 1481,1000 1488,1014 1496,1014 1528,1004 1536,999 1541,992 1545,976 1550,960 1552,952 1560,955 1563,960 1572,968 1576,973 1582,976 1583,984 1583,1000 1591,1008 1600,1012 1604,1016 1616,1019 1625,1016 1630,1008 1632,1000 1633,944 1635,912 1640,879 1646,872 1656,866 1657,864 1658,848 1656,814 1653,808 1648,804 1632,798 1616,796 1610,792 1605,776 1595,760 1592,752 1596,728 1596,720 1595,712 1592,707 1588,704 1581,696 1578,688 1573,680 1568,677 1560,676 1544,674 1528,668 1520,666 1518,664 1515,656 1520,644 1528,643 1552,645 1584,644 1592,645 1600,648 1605,664 1608,667 1616,670 1648,674 1657,672 1663,664 1665,656 1664,643 1656,638 1640,633 1632,615 1616,610 1614,608 1612,600 1608,567 1608,552 1612,536 1612,528 1608,520 1600,509 1592,501 1584,498 1576,508 1560,537 1552,539 1536,547 1528,548 1488,549 1464,547 1448,548 1424,559 1416,568 1408,574 1400,576 1389,576 1376,571 1360,567 1344,552 1328,545 1324,536 1323,520 1327,456 1333,432 1346,416 1353,392 1360,388 1376,386 1379,384 1392,370 1400,371 1416,377 1456,379 1472,376 1480,368 1488,365 1504,363 1513,360ZM1768,464 1760,479 1744,483 1739,488 1737,496 1736,512 1728,517 1704,518 1680,523 1671,528 1665,576 1656,587 1649,592 1652,600 1656,604 1664,616 1667,632 1672,636 1680,635 1684,632 1687,624 1688,592 1689,584 1696,574 1704,571 1721,568 1728,563 1744,520 1756,520 1776,523 1784,526 1786,528 1787,536 1792,546 1797,568 1800,573 1808,578 1816,578 1821,576 1824,573 1826,568 1827,560 1823,528 1821,520 1813,504 1810,496 1790,480 1784,468 1781,464 1776,463ZM1805,616 1800,624 1798,640 1792,644 1776,646 1771,648 1768,651 1766,656 1765,688 1768,698 1776,703 1784,703 1792,700 1794,696 1796,680 1800,673 1809,664 1816,647 1820,632 1820,624 1817,616 1808,614ZM1353,1128 1346,1136 1346,1168 1348,1176 1352,1181 1360,1185 1368,1183 1374,1176 1377,1168 1380,1144 1380,1136 1376,1133 1368,1129 1360,1128ZM1766,1160 1764,1168 1768,1175 1776,1178 1784,1174 1787,1168 1786,1160 1784,1158 1776,1156 1768,1158ZM1032,1256 1024,1274 1016,1279 1000,1282 994,1288 992,1296 993,1304 996,1312 1000,1315 1008,1317 1032,1317 1056,1316 1085,1312 1088,1310 1091,1304 1092,1296 1090,1288 1088,1285 1072,1278 1064,1273 1060,1264 1054,1256 1048,1254 1040,1253ZM1661,1256 1657,1264 1657,1272 1659,1296 1661,1304 1665,1312 1672,1317 1680,1318 1688,1318 1696,1317 1720,1309 1725,1304 1728,1290 1731,1264 1728,1258 1726,1256 1720,1254 1688,1249 1672,1250 1664,1254ZM1357,1264 1352,1273 1349,1288 1350,1304 1354,1312 1360,1315 1392,1317 1400,1316 1408,1313 1412,1304 1413,1296 1411,1288 1408,1283 1400,1277 1383,1272 1373,1264 1368,1262 1360,1261ZM1456,1384 1450,1392 1451,1400 1456,1406 1464,1404 1468,1400 1470,1392 1464,1386 1456,1384ZM1327,1400 1320,1403 1307,1416 1303,1424 1300,1448 1300,1464 1306,1488 1311,1496 1318,1504 1328,1505 1336,1505 1344,1498 1351,1472 1353,1448 1359,1432 1361,1416 1361,1400 1360,1395 1352,1395 1344,1400 1328,1399ZM1417,1432 1410,1448 1409,1464 1413,1480 1415,1504 1424,1526 1432,1517 1440,1500 1444,1456 1443,1448 1440,1442 1432,1433 1424,1426ZM1064,581 1072,579 1080,579 1112,584 1120,586 1126,592 1128,601 1135,616 1135,624 1131,632 1124,640 1112,644 1096,645 1080,650 1072,650 1064,649 1056,644 1051,640 1048,624 1050,616 1055,608 1057,592 1061,584ZM1168,591 1171,592 1168,599 1160,592ZM1400,622 1416,618 1424,619 1432,623 1448,640 1464,644 1474,648 1478,656 1480,672 1485,680 1492,696 1500,712 1501,720 1501,736 1497,752 1484,760 1472,763 1456,764 1449,760 1445,752 1440,747 1424,744 1416,740 1412,736 1403,712 1400,708 1395,704 1391,696 1389,688 1382,672 1380,664 1381,648 1384,639 1393,624ZM656,687 659,688 664,712 663,720 656,727 652,720 651,712 650,696 652,688ZM552,709 560,708 566,712 568,716 569,720 568,728 560,732 545,728 528,720 528,719 544,712ZM720,1029 728,1029 735,1032 739,1040 742,1072 736,1080 728,1081 720,1080 716,1072 712,1056 712,1048 712,1039 715,1032ZM880,1161 888,1161 906,1168 905,1176 900,1184 891,1208 888,1209 880,1208 877,1192 876,1168Z"/>
<path fill="#7fc673" fill-rule="evenodd" d="M1320,208 1376,208 1376,271 1374,280 1368,288 1344,293 1328,294 1320,290 1318,280 1317,208ZM1264,323 1272,324 1280,328 1282,336 1280,344 1272,348 1264,349 1257,344 1255,336 1257,328ZM1616,384 1624,385 1632,389 1634,392 1637,400 1636,408 1632,419 1624,425 1609,432 1610,440 1615,448 1624,454 1626,456 1629,464 1627,472 1624,475 1600,480 1584,480 1576,478 1569,472 1564,456 1560,451 1552,449 1544,457 1541,504 1536,517 1528,527 1526,528 1520,530 1512,529 1504,525 1488,522 1480,518 1464,508 1453,504 1448,497 1441,480 1438,464 1432,458 1424,456 1419,464 1420,488 1419,504 1417,512 1408,526 1402,528 1400,531 1390,536 1376,540 1360,540 1355,536 1352,532 1344,512 1342,496 1349,464 1353,432 1358,424 1360,422 1384,417 1408,415 1424,409 1432,400 1443,392 1448,390 1488,386 1504,388 1510,392 1520,414 1536,421 1544,427 1552,430 1560,429 1568,427 1576,423 1592,420 1598,416 1599,400 1602,392 1608,386 1615,384ZM1768,398 1776,396 1784,398 1787,400 1796,416 1800,419 1824,422 1840,427 1904,427 1904,529 1848,529 1840,527 1832,517 1830,512 1826,488 1824,483 1803,456 1792,449 1784,448 1776,447 1744,449 1736,446 1732,440 1731,432 1733,424 1736,420 1741,416 1744,410 1752,407 1761,400ZM1680,485 1696,486 1714,488 1719,496 1712,502 1705,504 1680,507 1672,503 1670,496 1673,488ZM1736,572 1744,570 1752,571 1760,572 1784,579 1793,584 1796,592 1796,600 1792,609 1776,620 1764,640 1760,644 1744,653 1728,656 1729,664 1736,675 1739,696 1741,704 1760,712 1768,719 1773,720 1783,736 1792,741 1816,745 1824,748 1832,756 1840,758 1904,758 1904,962 1840,962 1832,964 1814,976 1808,983 1797,1000 1796,1008 1797,1016 1800,1020 1824,1025 1840,1029 1904,1030 1904,1076 1840,1077 1824,1087 1808,1089 1800,1083 1799,1080 1793,1056 1791,1032 1784,1027 1768,1026 1744,1027 1737,1032 1734,1040 1733,1056 1731,1072 1731,1104 1733,1120 1736,1127 1743,1136 1735,1160 1735,1168 1739,1176 1744,1179 1768,1186 1776,1187 1784,1186 1792,1183 1796,1176 1800,1159 1808,1154 1840,1152 1904,1152 1904,1502 1840,1501 1833,1496 1830,1488 1824,1482 1816,1480 1808,1479 1801,1488 1797,1520 1798,1536 1803,1552 1802,1560 1795,1584 1794,1600 1792,1606 1781,1616 1780,1624 1780,1712 1671,1712 1671,1616 1668,1584 1664,1574 1656,1571 1648,1570 1616,1573 1608,1575 1601,1584 1594,1608 1593,1616 1593,1712 1222,1712 1222,1584 1221,1552 1220,1544 1216,1540 1192,1534 1168,1524 1152,1511 1136,1509 1126,1512 1122,1520 1120,1536 1114,1560 1112,1562 1104,1565 1096,1570 1092,1576 1088,1595 1083,1600 1064,1605 1061,1608 1058,1616 1058,1624 1058,1712 1024,1712 1024,1552 1025,1520 1024,1515 1023,1512 1016,1508 1002,1504 1000,1502 997,1496 995,1488 992,1480 968,1472 963,1464 960,1452 957,1448 952,1446 944,1445 934,1448 930,1456 928,1467 925,1472 920,1476 912,1478 880,1481 872,1483 867,1488 864,1501 861,1504 840,1510 838,1512 832,1533 829,1536 808,1542 806,1544 800,1565 797,1568 792,1570 776,1574 774,1576 768,1597 765,1600 744,1606 742,1608 738,1624 736,1629 733,1632 728,1634 720,1634 718,1632 716,1624 716,1584 720,1580 737,1576 745,1568 748,1552 752,1547 768,1543 775,1536 779,1520 784,1515 800,1511 807,1504 811,1488 816,1483 832,1479 839,1472 842,1456 836,1440 832,1392 837,1328 840,1321 848,1318 856,1319 864,1324 867,1328 870,1344 880,1359 904,1372 912,1373 920,1370 925,1360 928,1358 932,1352 936,1348 944,1345 952,1343 958,1336 964,1312 965,1296 962,1272 962,1256 963,1232 970,1200 974,1192 976,1190 984,1188 990,1184 993,1176 996,1160 1000,1156 1017,1152 1024,1147 1027,1136 1032,1126 1040,1121 1048,1119 1054,1112 1057,1096 1060,1088 1064,1082 1072,1079 1104,1076 1112,1076 1128,1081 1168,1085 1208,1085 1232,1082 1264,1083 1272,1084 1288,1090 1309,1096 1312,1098 1315,1104 1322,1136 1323,1168 1324,1176 1326,1184 1328,1186 1344,1192 1352,1202 1359,1208 1362,1208 1368,1204 1369,1200 1390,1176 1400,1144 1400,1136 1387,1128 1376,1124 1357,1120 1352,1118 1348,1112 1347,1104 1348,1072 1351,1064 1360,1058 1370,1056 1377,1048 1378,1032 1376,1008 1378,1000 1384,992 1400,983 1404,976 1415,968 1432,967 1440,970 1444,976 1448,987 1453,992 1464,995 1472,998 1476,1008 1480,1021 1484,1024 1488,1026 1520,1024 1560,1023 1592,1025 1616,1029 1624,1028 1634,1024 1641,1016 1647,1008 1648,1004 1651,1000 1655,992 1657,976 1657,944 1659,936 1664,926 1669,904 1672,900 1680,897 1688,897 1704,901 1712,902 1720,900 1736,893 1752,889 1758,880 1759,872 1758,864 1760,855 1776,854 1800,857 1809,856 1810,848 1808,846 1789,840 1776,838 1760,847 1751,848 1744,851 1742,856 1735,864 1728,868 1704,871 1688,875 1680,876 1672,872 1667,864 1666,848 1670,784 1669,776 1664,771 1656,770 1616,770 1608,760 1607,744 1608,688 1616,683 1624,683 1636,688 1640,697 1648,701 1656,701 1661,696 1663,688 1674,672 1679,656 1680,654 1688,653 1696,649 1697,648 1698,640 1698,592 1701,584 1704,581 1712,579 1730,576ZM1671,712 1669,720 1672,736 1680,743 1696,747 1704,750 1712,751 1720,747 1728,740 1730,736 1732,728 1733,720 1730,712 1720,710 1688,709 1680,709 1672,711ZM1767,768 1763,776 1762,784 1763,792 1766,800 1768,803 1776,807 1784,807 1799,800 1809,792 1811,784 1810,776 1808,774 1792,765 1784,762 1776,761 1768,766ZM1668,1136 1670,1144 1672,1146 1680,1150 1688,1149 1696,1145 1698,1136 1696,1133 1688,1130 1680,1130 1672,1132ZM1670,1248 1653,1256 1647,1264 1648,1280 1652,1296 1660,1312 1672,1320 1680,1321 1696,1319 1720,1314 1725,1312 1728,1308 1730,1304 1734,1272 1734,1264 1732,1256 1728,1253 1688,1247 1672,1247ZM1029,1256 1023,1272 1016,1276 1000,1280 992,1288 990,1296 994,1312 1000,1317 1008,1318 1032,1318 1056,1318 1080,1315 1089,1312 1093,1304 1094,1296 1092,1288 1088,1282 1069,1272 1059,1256 1056,1254 1048,1251 1040,1251 1032,1253ZM1348,1256 1345,1264 1344,1272 1347,1304 1349,1312 1352,1316 1360,1319 1392,1321 1408,1317 1414,1312 1417,1296 1415,1288 1408,1276 1404,1272 1400,1264 1392,1256 1384,1253 1360,1251 1352,1253ZM1648,1352 1643,1360 1642,1368 1648,1403 1680,1401 1688,1397 1691,1392 1688,1384 1672,1380 1669,1376 1666,1360 1664,1357 1656,1352 1648,1352ZM1452,1376 1448,1378 1444,1384 1442,1392 1440,1408 1432,1411 1424,1411 1400,1417 1392,1418 1384,1415 1378,1408 1374,1392 1368,1384 1360,1382 1352,1382 1344,1385 1328,1389 1320,1396 1312,1408 1300,1416 1294,1424 1291,1440 1288,1445 1280,1454 1272,1456 1285,1472 1289,1480 1292,1496 1296,1504 1320,1509 1336,1508 1346,1504 1349,1496 1352,1480 1354,1472 1356,1456 1360,1443 1368,1442 1376,1443 1383,1448 1388,1464 1396,1472 1400,1474 1404,1480 1407,1488 1413,1528 1416,1540 1424,1548 1432,1544 1440,1537 1446,1504 1448,1485 1449,1480 1458,1464 1459,1456 1459,1448 1454,1432 1454,1424 1472,1415 1479,1408 1484,1400 1485,1392 1472,1379 1464,1373 1456,1371ZM1510,1520 1510,1528 1512,1539 1520,1552 1528,1544 1532,1536 1535,1528 1535,1520 1528,1513 1520,1512 1512,1517ZM1072,591 1081,592 1091,608 1096,613 1102,616 1107,624 1097,632 1088,637 1080,639 1072,640 1064,634 1062,624 1063,616 1066,608 1071,592ZM1840,638 1848,636 1904,637 1904,677 1840,676 1836,672 1833,664 1833,656 1835,648 1839,640ZM1408,647 1416,641 1424,640 1440,644 1447,648 1455,656 1461,672 1466,680 1467,688 1467,696 1464,703 1456,707 1452,712 1446,720 1444,728 1440,732 1432,735 1424,734 1416,726 1406,696 1402,672 1401,656 1406,648ZM1840,1552 1904,1551 1904,1712 1818,1712 1818,1616 1824,1594 1827,1568 1832,1557 1839,1552ZM688,1644 696,1644 704,1646 707,1648 707,1712 684,1712 684,1648Z"/>
<path fill="#4aa632" fill-rule="evenodd" d="M1480,399 1491,400 1496,407 1499,416 1505,424 1507,432 1506,440 1504,448 1496,453 1488,454 1480,453 1464,440 1457,432 1459,424 1464,419 1477,400ZM1392,445 1401,472 1408,482 1410,488 1410,504 1407,512 1400,516 1392,517 1360,518 1351,512 1349,496 1350,488 1352,484 1360,478 1376,474 1379,472 1389,456 1392,448ZM1848,469 1864,471 1904,471 1904,489 1856,489 1848,491 1846,488 1846,472ZM1728,583 1744,579 1760,581 1765,584 1771,592 1769,600 1766,608 1752,630 1744,635 1728,638 1712,639 1707,632 1706,624 1706,592 1712,586 1722,584ZM1424,648 1432,649 1441,656 1446,680 1446,696 1444,704 1440,709 1432,713 1424,714 1416,708 1412,696 1411,680 1414,656 1416,652 1422,648ZM1832,770 1840,769 1904,769 1904,865 1840,865 1837,864 1832,858 1830,848 1826,840 1819,832 1813,816 1821,800 1826,776ZM1712,795 1720,796 1741,808 1749,816 1742,824 1736,827 1725,840 1720,850 1696,865 1680,867 1675,864 1672,860 1670,848 1671,840 1678,824 1680,817 1696,807 1705,800ZM1776,878 1784,879 1787,880 1800,896 1808,901 1904,900 1904,935 1848,935 1837,936 1832,940 1824,954 1816,958 1800,963 1795,968 1787,992 1784,997 1776,1004 1768,999 1765,992 1763,976 1758,968 1752,965 1735,960 1732,952 1730,920 1730,912 1735,904 1760,898 1763,896 1774,880ZM1680,934 1691,936 1696,944 1696,952 1688,960 1680,960 1675,952 1674,944 1677,936ZM1416,975 1424,972 1432,974 1436,976 1443,992 1448,997 1464,1002 1469,1008 1475,1024 1480,1030 1488,1033 1512,1031 1528,1030 1540,1032 1552,1037 1560,1036 1576,1032 1592,1032 1600,1034 1608,1039 1616,1042 1624,1039 1640,1028 1648,1025 1664,1024 1672,1020 1690,1016 1697,1000 1704,990 1712,985 1720,988 1728,994 1731,1000 1732,1008 1731,1016 1728,1024 1716,1040 1710,1056 1705,1064 1701,1112 1696,1120 1640,1127 1624,1131 1616,1132 1600,1125 1584,1123 1576,1125 1573,1128 1571,1136 1573,1144 1578,1152 1584,1154 1592,1154 1600,1151 1616,1141 1624,1143 1640,1149 1664,1155 1680,1165 1712,1163 1720,1169 1724,1176 1736,1187 1744,1190 1760,1191 1768,1195 1776,1196 1784,1194 1792,1191 1808,1178 1816,1176 1832,1162 1840,1160 1904,1160 1904,1473 1840,1473 1816,1466 1808,1466 1800,1473 1795,1480 1792,1496 1789,1504 1784,1508 1776,1512 1772,1520 1775,1536 1776,1539 1784,1544 1786,1552 1784,1562 1776,1569 1771,1576 1769,1584 1767,1600 1763,1616 1763,1712 1673,1712 1673,1616 1670,1584 1669,1576 1664,1571 1648,1567 1608,1570 1599,1576 1593,1584 1588,1600 1586,1616 1586,1712 1434,1712 1435,1584 1442,1568 1447,1544 1450,1536 1454,1512 1456,1507 1460,1504 1463,1496 1464,1488 1466,1480 1470,1472 1472,1465 1473,1448 1480,1434 1512,1403 1518,1400 1523,1392 1504,1383 1488,1380 1480,1376 1475,1368 1473,1360 1464,1354 1456,1352 1448,1357 1445,1368 1440,1379 1434,1384 1432,1387 1426,1392 1420,1400 1410,1408 1400,1410 1392,1411 1384,1407 1378,1384 1376,1381 1368,1377 1360,1375 1328,1380 1320,1384 1313,1400 1306,1408 1290,1416 1286,1424 1283,1440 1280,1443 1264,1447 1258,1456 1258,1464 1263,1472 1272,1475 1281,1480 1283,1488 1284,1504 1288,1514 1296,1522 1320,1514 1344,1510 1351,1504 1355,1496 1356,1488 1360,1455 1368,1453 1371,1456 1375,1472 1384,1484 1389,1488 1395,1504 1400,1510 1405,1536 1408,1544 1410,1552 1411,1592 1411,1712 1224,1712 1224,1584 1222,1544 1216,1537 1192,1530 1176,1518 1168,1516 1152,1508 1136,1506 1128,1508 1122,1512 1118,1520 1112,1555 1107,1560 1096,1567 1090,1576 1087,1592 1080,1599 1064,1603 1059,1608 1057,1616 1057,1624 1057,1712 1026,1712 1026,1552 1027,1520 1026,1512 1024,1509 1008,1502 1001,1496 996,1480 992,1476 976,1472 968,1466 963,1448 960,1445 952,1442 944,1441 936,1442 929,1448 924,1456 920,1466 912,1471 880,1472 872,1471 866,1464 864,1456 856,1450 848,1447 841,1440 839,1432 835,1392 837,1352 841,1328 848,1323 856,1325 860,1328 865,1344 869,1352 872,1368 876,1376 880,1379 904,1380 920,1378 925,1376 928,1372 931,1360 936,1352 960,1344 963,1336 967,1304 965,1264 966,1232 967,1224 971,1216 973,1208 974,1200 976,1197 992,1188 994,1184 997,1168 1000,1160 1008,1156 1024,1153 1026,1152 1029,1144 1032,1133 1036,1128 1056,1120 1059,1112 1062,1096 1064,1093 1072,1089 1104,1088 1136,1091 1200,1091 1264,1090 1280,1092 1287,1096 1296,1104 1312,1125 1313,1128 1315,1136 1316,1184 1321,1208 1325,1216 1328,1218 1349,1224 1352,1227 1360,1231 1367,1232 1360,1233 1339,1248 1328,1253 1326,1256 1325,1264 1327,1272 1336,1280 1341,1288 1346,1312 1352,1320 1360,1325 1392,1327 1400,1326 1408,1323 1420,1312 1423,1304 1424,1296 1421,1288 1416,1282 1411,1272 1408,1257 1403,1248 1395,1224 1391,1216 1389,1208 1389,1200 1394,1192 1400,1188 1404,1176 1408,1149 1408,1134 1405,1128 1400,1125 1382,1120 1376,1114 1372,1112 1368,1108 1360,1103 1353,1088 1352,1080 1352,1072 1359,1064 1376,1060 1380,1056 1383,1040 1383,1008 1384,1003 1387,1000 1392,997 1400,996 1408,993 1412,984 1415,976ZM1655,1248 1648,1250 1640,1256 1639,1264 1639,1280 1643,1304 1648,1313 1672,1325 1680,1326 1696,1324 1704,1320 1720,1317 1728,1315 1730,1312 1733,1304 1734,1288 1739,1272 1740,1264 1740,1256 1736,1252 1728,1249 1712,1248 1688,1243 1672,1243 1664,1244 1656,1248ZM1026,1256 1023,1264 1018,1272 1000,1277 992,1282 988,1288 987,1296 988,1304 992,1312 1000,1319 1016,1320 1048,1319 1080,1317 1088,1315 1092,1312 1095,1304 1095,1288 1088,1277 1072,1267 1063,1256 1056,1251 1040,1248 1032,1250ZM1638,1352 1637,1360 1637,1376 1638,1408 1640,1418 1648,1423 1656,1419 1659,1416 1672,1411 1691,1408 1696,1406 1701,1400 1703,1392 1702,1384 1688,1361 1679,1352 1672,1348 1664,1345 1656,1344 1648,1344 1640,1349ZM1768,1416 1767,1424 1768,1432 1776,1440 1785,1440 1792,1437 1794,1432 1795,1424 1794,1416 1792,1414 1784,1410 1776,1410 1768,1415ZM1543,1488 1543,1504 1536,1507 1520,1507 1512,1509 1507,1512 1502,1520 1502,1528 1508,1560 1512,1570 1520,1574 1528,1572 1534,1568 1536,1563 1539,1544 1542,1528 1544,1508 1552,1506 1560,1503 1564,1496 1565,1488 1560,1482 1552,1480 1544,1487ZM1800,1031 1808,1029 1816,1029 1826,1032 1834,1040 1833,1048 1829,1056 1824,1061 1816,1065 1808,1066 1799,1056 1797,1040 1799,1032ZM1848,1616 1850,1616 1856,1621 1864,1622 1904,1623 1904,1664 1888,1664 1888,1712 1847,1712 1846,1624 1848,1616Z"/>
<path fill="#47a0f8" fill-rule="evenodd" d="M1368,488 1384,487 1394,488 1400,495 1400,498 1395,504 1384,506 1360,506 1357,496 1360,489 1367,488ZM1736,590 1744,588 1752,590 1755,592 1754,600 1752,603 1744,607 1736,605 1733,600 1733,592ZM1424,671 1432,674 1437,680 1439,688 1438,696 1432,703 1424,704 1418,696 1416,688 1417,680 1424,672ZM1840,774 1904,774 1904,841 1848,841 1840,840 1832,837 1828,832 1826,824 1825,816 1830,784 1832,779 1835,776ZM1680,842 1688,843 1692,848 1688,852 1680,853 1679,848ZM1768,902 1776,899 1784,900 1792,904 1796,912 1795,928 1792,939 1784,953 1776,956 1771,952 1763,936 1753,920 1753,912 1760,908 1764,904ZM1424,990 1432,994 1440,999 1449,1008 1454,1016 1472,1030 1478,1040 1480,1048 1488,1056 1496,1055 1504,1051 1512,1044 1520,1041 1528,1044 1544,1056 1552,1058 1568,1056 1576,1053 1584,1051 1592,1052 1608,1059 1624,1059 1632,1058 1634,1056 1639,1040 1648,1033 1672,1031 1688,1032 1696,1040 1691,1088 1688,1096 1680,1105 1672,1105 1648,1103 1632,1099 1600,1095 1552,1095 1544,1098 1539,1104 1536,1123 1528,1131 1521,1136 1520,1139 1517,1160 1517,1168 1520,1178 1528,1178 1533,1176 1544,1164 1552,1163 1562,1168 1568,1179 1572,1192 1574,1216 1576,1225 1581,1240 1584,1243 1592,1241 1595,1240 1613,1208 1615,1200 1613,1192 1608,1184 1606,1176 1606,1168 1608,1165 1616,1161 1632,1162 1655,1168 1672,1183 1677,1184 1712,1185 1720,1186 1728,1189 1732,1192 1736,1198 1739,1200 1739,1208 1733,1232 1731,1240 1728,1242 1712,1242 1656,1234 1648,1235 1640,1240 1636,1248 1633,1264 1635,1304 1637,1312 1644,1328 1633,1352 1632,1400 1630,1408 1624,1413 1613,1416 1608,1421 1606,1424 1608,1437 1610,1440 1616,1443 1632,1446 1640,1452 1648,1455 1656,1449 1664,1441 1667,1424 1672,1417 1680,1415 1696,1413 1712,1405 1720,1403 1728,1400 1730,1392 1729,1384 1723,1376 1717,1360 1704,1349 1701,1344 1698,1336 1699,1328 1728,1319 1735,1312 1739,1288 1744,1280 1752,1278 1792,1279 1808,1277 1816,1273 1819,1264 1816,1256 1800,1250 1794,1240 1793,1232 1794,1224 1797,1200 1800,1196 1808,1191 1824,1190 1840,1187 1904,1187 1904,1338 1848,1337 1840,1339 1829,1352 1827,1360 1825,1376 1824,1377 1776,1384 1768,1388 1765,1392 1761,1416 1762,1432 1765,1440 1768,1444 1776,1447 1789,1448 1792,1450 1795,1456 1793,1464 1789,1472 1776,1483 1764,1512 1763,1528 1766,1552 1760,1594 1758,1600 1744,1616 1744,1712 1677,1712 1677,1616 1674,1584 1672,1576 1664,1566 1656,1563 1640,1561 1616,1562 1608,1564 1592,1572 1578,1576 1571,1584 1571,1712 1539,1712 1539,1584 1544,1568 1545,1552 1548,1544 1552,1537 1560,1529 1562,1520 1572,1504 1574,1488 1573,1480 1568,1476 1560,1474 1552,1474 1544,1476 1539,1480 1533,1496 1528,1499 1512,1502 1496,1510 1488,1512 1480,1510 1477,1504 1475,1488 1478,1456 1481,1448 1488,1443 1496,1442 1504,1438 1507,1432 1508,1424 1512,1416 1520,1413 1536,1410 1538,1408 1540,1400 1539,1392 1536,1384 1528,1381 1512,1378 1507,1376 1504,1373 1488,1363 1479,1352 1472,1348 1456,1346 1448,1347 1441,1352 1435,1368 1432,1373 1427,1376 1416,1381 1412,1384 1408,1392 1401,1400 1392,1401 1384,1384 1367,1360 1370,1352 1376,1348 1384,1345 1402,1344 1408,1341 1412,1336 1414,1328 1416,1325 1424,1318 1432,1316 1437,1312 1440,1304 1441,1296 1438,1288 1432,1285 1424,1282 1417,1272 1410,1240 1405,1200 1410,1184 1411,1176 1413,1144 1412,1128 1408,1121 1400,1116 1388,1112 1384,1107 1381,1096 1376,1087 1368,1080 1367,1072 1376,1070 1389,1056 1391,1048 1392,1030 1400,1008 1408,1004 1416,995 1423,992ZM1808,1038 1817,1040 1816,1047 1808,1049 1806,1040ZM1072,1095 1112,1094 1136,1098 1168,1095 1200,1096 1256,1094 1272,1095 1280,1098 1284,1104 1288,1121 1300,1128 1304,1132 1306,1136 1309,1200 1310,1208 1318,1232 1316,1256 1317,1272 1320,1280 1335,1288 1336,1290 1340,1312 1350,1328 1352,1352 1351,1360 1342,1368 1328,1371 1320,1375 1314,1384 1310,1392 1305,1400 1296,1407 1288,1410 1283,1416 1280,1432 1272,1440 1264,1442 1256,1447 1253,1456 1253,1464 1256,1475 1273,1488 1274,1504 1270,1520 1275,1536 1280,1540 1288,1542 1296,1542 1312,1540 1318,1536 1328,1523 1334,1520 1344,1518 1360,1506 1368,1507 1377,1512 1380,1520 1386,1552 1383,1568 1379,1584 1379,1712 1345,1712 1345,1584 1339,1576 1336,1574 1328,1573 1321,1576 1318,1584 1318,1712 1227,1712 1227,1584 1224,1544 1219,1536 1216,1533 1196,1528 1192,1525 1184,1516 1177,1512 1168,1511 1152,1506 1136,1504 1128,1505 1120,1508 1114,1512 1110,1520 1108,1544 1106,1552 1099,1560 1096,1562 1092,1568 1089,1576 1084,1592 1080,1596 1064,1601 1057,1608 1055,1624 1055,1712 1028,1712 1028,1552 1030,1520 1029,1512 1024,1505 1016,1499 1008,1496 1001,1480 992,1471 976,1466 974,1464 967,1448 960,1440 952,1436 944,1435 936,1437 912,1453 904,1455 880,1453 864,1442 848,1436 840,1411 838,1392 840,1352 848,1334 856,1340 858,1344 864,1351 867,1360 869,1376 872,1384 880,1394 888,1393 904,1386 928,1381 932,1376 936,1359 944,1352 960,1349 965,1344 971,1304 969,1240 969,1232 972,1224 976,1215 984,1208 986,1200 992,1195 998,1184 1000,1168 1007,1160 1024,1157 1031,1152 1037,1136 1040,1132 1056,1126 1061,1120 1065,1104 1071,1096ZM1132,1160 1129,1168 1133,1176 1136,1178 1144,1178 1151,1176 1156,1168 1152,1160 1144,1157 1136,1157ZM1030,1248 1022,1256 1016,1267 1008,1272 992,1276 988,1280 985,1288 985,1304 987,1312 992,1317 1000,1321 1008,1322 1048,1321 1088,1317 1095,1312 1098,1304 1099,1296 1098,1288 1088,1269 1084,1264 1080,1261 1072,1257 1056,1248 1048,1245 1040,1244 1032,1246ZM1840,1387 1904,1386 1904,1402 1840,1402 1838,1400 1835,1392ZM1480,1560 1488,1555 1491,1560 1496,1563 1499,1568 1504,1573 1510,1584 1510,1712 1449,1712 1450,1584 1453,1576 1456,1573 1472,1568 1480,1560Z"/>
<path fill="#7718d8" fill-rule="evenodd" d="M1840,784 1904,783 1904,833 1848,833 1839,832 1832,825 1831,816 1832,806 1836,800 1840,784ZM1424,1023 1432,1025 1456,1036 1464,1041 1468,1056 1474,1064 1478,1072 1477,1104 1480,1128 1486,1144 1496,1154 1500,1160 1506,1184 1516,1208 1520,1213 1528,1212 1534,1208 1537,1200 1544,1194 1552,1192 1561,1200 1566,1232 1565,1248 1560,1252 1552,1253 1545,1256 1541,1264 1541,1296 1544,1307 1551,1312 1554,1312 1560,1311 1567,1304 1569,1288 1576,1264 1592,1260 1608,1253 1616,1252 1622,1256 1625,1264 1626,1304 1630,1328 1625,1352 1623,1376 1621,1392 1617,1400 1608,1405 1584,1422 1561,1400 1552,1390 1550,1384 1544,1379 1536,1374 1520,1370 1515,1368 1512,1365 1508,1352 1504,1348 1487,1344 1472,1338 1456,1335 1448,1331 1446,1328 1449,1304 1448,1288 1440,1272 1434,1264 1424,1259 1417,1248 1415,1240 1413,1216 1412,1200 1419,1144 1423,1104 1416,1095 1413,1088 1411,1072 1416,1036 1418,1032 1424,1024ZM1512,1061 1520,1060 1536,1062 1540,1064 1544,1067 1552,1071 1568,1070 1584,1066 1592,1067 1605,1072 1600,1080 1592,1081 1576,1081 1560,1076 1552,1076 1549,1080 1544,1082 1536,1089 1520,1093 1512,1093 1505,1088 1500,1080 1499,1072 1507,1064ZM1088,1104 1104,1101 1119,1104 1121,1112 1125,1136 1120,1160 1122,1176 1125,1184 1128,1186 1144,1188 1176,1186 1183,1184 1187,1176 1188,1168 1187,1160 1184,1154 1176,1148 1167,1144 1160,1135 1157,1112 1159,1104 1168,1102 1184,1103 1193,1104 1200,1107 1208,1107 1220,1104 1264,1101 1274,1104 1277,1120 1283,1136 1285,1168 1283,1184 1274,1200 1276,1208 1280,1216 1294,1232 1301,1248 1304,1252 1310,1280 1320,1293 1326,1296 1328,1303 1329,1312 1335,1328 1333,1336 1325,1344 1320,1347 1317,1352 1312,1366 1304,1380 1296,1391 1288,1397 1278,1408 1274,1416 1272,1424 1266,1432 1256,1440 1251,1448 1249,1456 1250,1472 1255,1488 1253,1504 1248,1520 1254,1568 1256,1570 1264,1573 1280,1574 1290,1576 1296,1580 1299,1584 1300,1712 1231,1712 1231,1584 1228,1544 1226,1536 1224,1533 1216,1527 1200,1522 1184,1510 1160,1506 1144,1500 1136,1499 1120,1501 1104,1508 1101,1512 1099,1520 1099,1544 1097,1552 1086,1576 1081,1592 1062,1600 1055,1608 1053,1616 1052,1712 1030,1712 1030,1552 1032,1520 1031,1512 1024,1497 1016,1484 1008,1477 1000,1467 992,1459 985,1456 976,1450 971,1440 960,1427 952,1423 944,1421 936,1424 920,1435 912,1438 904,1439 880,1438 870,1432 868,1424 868,1416 872,1415 896,1413 912,1409 920,1408 928,1400 929,1392 941,1376 944,1362 946,1360 960,1358 966,1352 971,1344 976,1304 979,1312 987,1320 992,1323 1000,1325 1048,1323 1088,1319 1099,1312 1102,1304 1102,1288 1095,1272 1093,1264 1088,1255 1072,1251 1065,1248 1056,1242 1040,1239 1032,1240 1024,1245 1009,1264 1000,1266 982,1264 976,1256 975,1248 975,1232 976,1228 992,1219 994,1216 996,1200 1003,1184 1006,1168 1008,1166 1024,1163 1048,1148 1052,1144 1055,1136 1064,1125 1069,1120 1072,1112 1088,1104ZM1648,1190 1680,1192 1712,1193 1720,1196 1725,1200 1726,1208 1722,1224 1720,1230 1718,1232 1712,1233 1704,1232 1696,1227 1688,1224 1680,1223 1664,1218 1647,1216 1640,1210 1639,1208 1638,1200 1640,1194 1642,1192ZM1840,1259 1848,1258 1904,1258 1904,1303 1840,1303 1832,1298 1831,1296 1837,1280 1838,1264ZM1776,1288 1784,1289 1792,1291 1798,1296 1802,1312 1811,1320 1814,1328 1809,1336 1792,1349 1768,1356 1752,1367 1744,1368 1738,1352 1728,1336 1728,1328 1742,1312 1744,1294 1752,1291 1776,1288ZM848,1349 856,1352 860,1360 866,1392 866,1408 864,1413 856,1414 848,1412 846,1408 844,1400 843,1384 844,1360 846,1352ZM1384,1358 1392,1353 1400,1353 1408,1355 1412,1360 1410,1368 1400,1377 1392,1378 1384,1368 1383,1360ZM1712,1416 1736,1415 1744,1417 1756,1440 1764,1448 1769,1456 1769,1464 1761,1480 1749,1520 1756,1552 1753,1568 1741,1584 1729,1608 1727,1624 1728,1712 1685,1712 1685,1616 1683,1608 1680,1603 1678,1576 1672,1564 1664,1556 1653,1552 1648,1547 1640,1546 1616,1546 1608,1548 1604,1552 1592,1559 1584,1561 1579,1560 1576,1558 1574,1552 1575,1520 1578,1512 1584,1505 1592,1503 1600,1498 1603,1488 1607,1480 1616,1478 1626,1480 1632,1488 1637,1520 1638,1536 1640,1542 1648,1542 1656,1540 1661,1536 1664,1528 1670,1456 1672,1447 1677,1440 1680,1429 1686,1424 1696,1422 1710,1416ZM1520,1439 1528,1440 1544,1446 1560,1448 1567,1456 1560,1462 1544,1465 1512,1484 1509,1488 1497,1496 1488,1497 1485,1488 1488,1464 1493,1456 1504,1452 1512,1445 1520,1440ZM1352,1540 1360,1538 1368,1541 1371,1544 1373,1552 1372,1560 1368,1569 1360,1572 1352,1568 1347,1560 1345,1552 1348,1544Z"/>
<path fill="#931bc1" fill-rule="evenodd" d="M1072,1134 1082,1136 1093,1160 1097,1176 1104,1189 1112,1193 1120,1195 1152,1198 1156,1200 1160,1218 1168,1222 1205,1224 1208,1225 1214,1232 1216,1256 1216,1268 1205,1304 1200,1310 1196,1304 1190,1280 1188,1256 1184,1249 1176,1244 1168,1242 1136,1242 1128,1245 1114,1256 1112,1259 1104,1258 1103,1256 1095,1248 1088,1244 1069,1240 1048,1224 1040,1222 1032,1222 1028,1224 1008,1238 1005,1232 1004,1224 1005,1200 1008,1190 1024,1187 1030,1184 1049,1168 1056,1164 1065,1152 1071,1136ZM1456,1159 1464,1162 1472,1170 1479,1184 1485,1192 1486,1200 1486,1208 1483,1216 1472,1230 1467,1232 1464,1238 1456,1241 1448,1239 1440,1235 1432,1233 1424,1228 1419,1208 1419,1200 1424,1180 1432,1171 1450,1160ZM1096,1319 1104,1314 1112,1314 1120,1316 1125,1320 1136,1348 1144,1348 1149,1344 1152,1337 1153,1328 1158,1320 1168,1317 1184,1319 1187,1320 1189,1328 1190,1344 1192,1360 1200,1365 1208,1365 1216,1361 1224,1356 1232,1355 1240,1358 1242,1360 1253,1384 1257,1416 1256,1424 1254,1432 1246,1448 1243,1456 1243,1472 1240,1496 1232,1504 1216,1511 1200,1512 1184,1506 1168,1504 1144,1494 1128,1491 1120,1487 1112,1485 1096,1485 1088,1488 1088,1496 1092,1512 1092,1552 1083,1576 1080,1588 1076,1592 1064,1595 1058,1600 1052,1608 1050,1616 1050,1712 1032,1712 1032,1552 1037,1520 1036,1512 1031,1496 1029,1488 1029,1456 1027,1448 1024,1443 1006,1432 1000,1420 996,1408 995,1400 992,1368 993,1352 998,1336 1000,1334 1008,1330 1016,1328 1088,1322 1094,1320ZM1584,1351 1592,1353 1597,1360 1596,1368 1592,1373 1585,1376 1577,1368 1575,1360 1576,1358 1582,1352ZM1736,1455 1744,1451 1752,1456 1749,1464 1744,1468 1737,1464 1735,1456Z"/>
<path fill="#e633f0" fill-rule="evenodd" d="M1072,1183 1080,1185 1088,1189 1090,1192 1092,1200 1092,1208 1090,1216 1088,1218 1080,1222 1072,1222 1064,1220 1060,1216 1057,1208 1055,1200 1058,1192 1064,1186 1070,1184ZM1448,1187 1456,1185 1464,1187 1473,1192 1475,1200 1474,1208 1470,1216 1464,1219 1456,1220 1448,1218 1445,1216 1441,1208 1439,1200 1442,1192ZM1056,1328 1080,1326 1095,1328 1100,1336 1120,1348 1122,1352 1124,1360 1123,1376 1119,1392 1123,1400 1128,1405 1136,1407 1144,1407 1176,1404 1184,1403 1189,1400 1192,1396 1200,1392 1208,1392 1224,1395 1232,1399 1240,1405 1249,1416 1249,1424 1248,1432 1240,1444 1235,1448 1231,1456 1227,1472 1222,1480 1217,1496 1208,1503 1200,1503 1184,1499 1164,1496 1160,1494 1152,1486 1144,1482 1120,1477 1096,1473 1093,1472 1085,1464 1080,1455 1064,1447 1058,1440 1054,1424 1048,1419 1032,1414 1026,1408 1022,1400 1019,1384 1012,1368 1012,1360 1017,1352 1026,1344 1032,1335 1040,1331 1053,1328ZM1056,1508 1064,1506 1072,1506 1080,1508 1085,1512 1087,1520 1087,1544 1086,1552 1077,1584 1072,1589 1056,1595 1051,1600 1046,1616 1046,1712 1036,1712 1036,1552 1040,1532 1045,1528 1051,1512Z"/>
</g>
<path fill="#ae241a" d="M462.0,987.0 469.0,987.0 469.0,1017.0 462.0,1017.0Z"/>
<path fill="#e63323" d="M706.1,1403.2 712.7,1401.0 721.5,1403.2 718.2,1408.7 711.6,1409.8Z"/>
<path fill="#e63323" d="M727.0,1398.2 734.7,1399.9 743.5,1401.0 750.1,1399.9 745.7,1403.9 734.7,1405.4 729.2,1403.2Z"/>
<path fill="#e63323" d="M695.1,1399.3 700.6,1400.4 699.5,1401.7 696.2,1400.8Z"/>
<path fill="#e63323" d="M810.9,1442.8 818.2,1446.1 825.9,1452.7 819.3,1453.8 814.9,1448.3Z"/>
<path fill="#e63323" d="M749.0,1458.2 755.6,1461.0 754.5,1462.8 750.1,1460.8Z"/>
<path fill="#7a140e" d="M809.4,1477.9 813.8,1482.3 822.6,1490.5 818.2,1491.1 812.7,1485.6Z"/>
<path fill="#4aa632" d="M521.5,300.0 525.9,297.8 530.3,303.3 528.1,308.7 523.7,307.0Z"/>
<path fill="#7fc673" d="M533.6,292.3 539.1,290.7 541.7,295.6 536.9,298.2Z"/>
<path fill="#e8e84a" d="M536.4,304.8 540.2,303.9 541.7,309.8 538.0,310.9Z"/>
<path fill="#e8e84a" d="M547.9,271.4 553.4,275.8 556.7,289.0 552.3,289.0 549.0,280.2Z"/>
<g clip-path="url(#land)" fill="none" stroke="#000" stroke-linejoin="round" stroke-linecap="round">
<path stroke-width="1.1" d="M564,295 670,294 677,290 670,281 672,269M569,321 658,321M658,321 654,305 677,303 686,317 699,330 726,344 753,337 785,335 792,346M573,361 650,361M650,361 648,341 659,332 658,321M650,361 652,373 632,391 636,409 627,429 634,445 630,458 632,465M569,397 587,404 609,411 632,411M549,409 560,425 573,436 607,443 627,436M510,466 632,465M508,436 508,466M464,438 507,436M522,413 522,440 573,436M499,374 499,417 519,417M434,353 535,354 535,339M450,379 499,380M792,346 794,269M715,400 726,391 735,389 774,346M715,400 720,413 724,440 731,447 751,440 765,452 767,472 785,481M632,413 654,426 681,426 693,438 729,440M620,492 728,492 728,440M758,426 785,426 785,346M728,492 728,510M579,466 578,528M516,466 517,481M472,512 528,512 537,517M508,481 508,512M501,538 542,546 546,535 605,536M481,564 528,565 533,551 542,546M605,536 614,548 609,575 614,587 607,607 605,638M627,524 627,557 614,557M609,586 697,584 688,566 697,530 681,517M697,584 702,640M720,517 720,551 735,564 735,571 774,571 774,526 758,524 758,503M735,571 740,578 741,640M524,591 605,593M488,625 605,627M469,568 486,568 486,600 492,600 492,618 483,625M528,565 522,582 528,593 517,607 519,625 537,629 573,625 594,627M650,640 650,620 668,605 697,605M833,269 837,285 831,312 836,323M882,269 876,285 870,290 876,294 878,339 906,339M800,346 822,341 829,353 856,357 876,339M822,341 837,323M857,357 857,398 800,399M857,398 906,399M848,400 848,429 831,438 800,449M831,438 833,472 847,481 847,494M855,452 867,443 879,443 894,462 906,463M855,452 865,465 872,494M885,463 880,494M908,346 951,345 953,339 968,344M923,280 923,305 968,305M908,391 951,389 951,345M908,411 951,418 951,389M951,418 952,447 944,449 946,458 966,467 987,474M952,424 1034,424M991,461 1077,446M927,494 928,472 948,467 946,458M1034,326 1047,328 1050,294 1059,285 1054,269M1034,326 1035,353 1061,354 1062,368 1073,373 1081,391 1086,409 1109,404 1103,375 1131,374 1133,402 1142,407 1143,431 1131,436 1119,443 1108,447 1114,485 1128,500M1068,347 1108,340 1119,353 1124,373M1095,269 1099,278 1115,285 1119,296 1137,314 1144,321 1184,321M1151,353 1158,382 1158,404 1173,407 1173,431 1184,431M1158,353 1164,341 1160,332 1184,334M1029,389 1045,395 1068,418 1062,438M861,506 867,535 879,551 892,557 892,564 874,564 874,571 854,566 829,571 827,587 813,593 822,607 816,625M892,564 919,565M930,551 951,551 955,562 966,557 1052,555M966,557 962,582 957,616 960,640M1052,555 1061,546 1047,533 1062,526M1052,555 1052,571 1032,589 1016,600 1025,616 1011,625 1025,640M1104,517 1131,500 1135,512 1158,503 1184,488M1212,269 1212,307 1188,308 1187,321 1213,332 1227,344 1262,345M1271,269 1271,326 1247,326 1245,317 1236,314 1212,307M1262,334 1262,366 1245,366 1229,373 1222,381 1221,402 1238,413 1238,426 1249,428M1303,269 1303,326 1296,332 1262,334M1303,326 1311,321 1359,321 1366,332 1380,334 1382,269M1380,334 1380,362 1362,368 1359,379 1346,386 1337,389 1341,395 1357,402 1366,404 1366,434 1362,436 1368,443M1262,366 1285,371 1301,382 1303,389M1303,389 1302,400 1310,413 1309,427 1321,443 1332,440 1350,438 1368,443M1249,428 1254,420 1277,418 1281,412 1285,417 1309,427M1380,362 1416,359 1429,371 1456,375 1479,377M1462,269 1457,287 1452,310 1449,344 1438,346 1421,350 1420,362M1528,269 1527,301 1521,308 1521,321 1515,328 1515,373 1483,379M1479,377 1479,393 1488,436 1492,458 1510,485 1508,491M1456,375 1456,393 1438,395 1431,409 1438,413 1436,438M1332,443 1332,479 1265,481 1262,490 1247,506M1389,438 1488,438 1568,430M1389,438 1389,479 1332,479M1413,439 1420,458 1427,472 1427,485M1373,485 1508,485 1508,491 1483,499 1474,503 1472,535 1456,536 1434,530 1426,524 1419,523 1419,485M1490,460 1530,460 1538,465 1544,503 1517,494 1508,491M1544,503 1555,521 1555,557 1568,557M1332,479 1337,557 1346,557 1347,545 1355,544 1357,530 1377,524 1379,503 1384,494M1419,523 1400,526 1382,539 1371,557 1346,557M1364,557 1364,570M1434,537 1433,555 1470,554 1462,570M1238,452 1238,492 1247,492 1246,506 1265,524 1266,589 1240,593 1213,578 1204,566 1195,564 1194,537 1184,537M1300,481 1300,526 1292,526 1284,551 1283,569M1184,472 1188,479 1193,494 1197,506 1213,514 1229,506 1245,510M1184,447 1206,447 1205,461 1188,472M1285,596 1308,596 1310,602 1326,604 1339,625 1346,640M1438,571 1440,640M1483,571 1485,580 1503,596 1521,607 1528,625 1530,640M1440,634 1530,634M1596,270 1593,279 1602,280 1602,301 1615,301 1613,342M1663,270 1665,299 1681,300 1683,308 1690,313 1726,313M1615,301 1681,300M1577,342 1613,342 1654,338 1672,334 1699,335 1717,342 1726,344M1654,338 1651,360 1667,361 1668,371 1692,373 1697,391 1726,390M1645,361 1642,405 1646,418 1654,419 1663,428 1699,429 1709,418 1710,402 1701,393M1585,391 1593,393 1597,407 1606,411 1613,406 1642,406M1597,407 1596,430 1624,432 1629,441 1636,448 1651,454 1667,453 1681,445 1691,444 1691,430M1596,430 1591,511 1668,511 1672,484 1674,459 1691,444M1691,444 1726,446M1672,484 1696,486 1703,492 1721,498 1724,504M1668,511 1663,569M1588,511 1586,569M1602,571 1602,640M1660,571 1661,640M1661,634 1726,634M1728,295 1798,295 1796,270M1799,302 1852,302M1798,295 1803,316 1803,333M1840,302 1841,288 1847,283 1852,283M1785,369 1785,393 1728,394M1785,369 1814,367 1816,355M1750,396 1754,447M1790,396 1790,420 1777,421 1777,447M1843,355 1843,391 1847,396 1847,418 1822,419 1790,420M1729,447 1741,454 1742,447 1852,447M1798,447 1796,473 1728,474M1796,473 1823,473 1825,479 1852,479M1795,501 1794,555 1728,555M1794,555 1794,600 1757,601 1756,627 1763,636M1795,568 1852,568M1728,603 1757,601M460,657 481,653 490,650 506,660 522,662 524,680 548,682 549,688 585,688 594,676 596,653 607,640M585,688 594,701 589,714 576,716 560,725 537,737 517,743 504,743 483,739 479,737 459,746 456,730 438,725M456,675 476,675 477,685 481,692 481,716 479,737M596,676 635,676 726,676 733,669 733,647 749,646M635,676 635,740 665,741 665,796M577,716 577,796M726,676 723,741 760,742 761,797M517,743 517,796M483,739 477,752 468,766 481,784 478,796M658,640 658,649 672,651 674,657 696,658 697,662 704,664 705,669 733,669M496,800 488,811 488,827 492,842 501,847 503,869 492,881 495,950 533,952M467,838 483,838 483,845 492,845M629,799 629,859 564,859 560,847 546,856 533,874 506,860 503,869M564,859 546,905 528,926 533,952 535,964 590,964M629,859 719,859M636,860 636,914 653,916 654,930 666,937 677,926 699,937 713,955 708,971M528,926 560,919 591,917 627,917 636,914M627,917 634,928 630,950 641,971 652,982 663,975M590,964 594,991 587,1004 596,1024M590,964 614,946 630,937M535,964 537,982 526,991 531,1009 537,1024M537,982 546,982 548,995 587,995M663,975 708,971 719,971M650,995 677,984 693,991 719,991M762,797 764,876 771,877 773,950 769,955 776,977 765,991 740,993 738,1004 726,1013M764,876 796,876 800,883M764,948 800,947M831,640 831,737 834,796M908,659 919,662 926,660 927,640M941,661 955,661 955,640M941,661 941,687 973,688 974,676 987,674 998,662 1002,653 1025,647 1022,640M908,669 921,678 930,692 944,701 957,714 971,723 984,725 1007,728 1008,739 1032,740 1033,730 1038,730 1045,743 1059,750 1090,759 1101,757 1119,755 1128,748 1146,750 1160,752 1162,768 1182,773M955,713 973,713 973,688M1033,730 1031,707 1032,662 1036,651 1034,640M1031,707 1061,707 1117,707 1117,738 1101,739 1101,757M1061,707 1060,746M1036,651 1054,660 1056,678 1065,694 1073,698 1074,706M1056,658 1079,656 1092,665 1113,678 1119,680 1137,661 1133,653 1132,640M1119,680 1122,694 1140,695 1140,700 1160,700 1164,688 1173,682 1182,671M1117,707 1135,707 1135,739 1149,746M1160,700 1160,714 1146,715 1146,739M1033,740 1034,796M1080,796 1080,766 1094,766M1162,768 1162,796M908,799 908,900M867,884 869,898 889,899 908,900M800,884 867,884M889,899 874,948 800,949M874,948 879,964 879,977 865,995 860,1011 858,1022M908,874 962,874 973,939 1095,940M935,874 935,1012M982,940 984,968 978,991 979,1012M858,1020 885,1012 979,1012 996,1024M1097,874 1184,873M1097,956 1184,957M1097,984 1184,983M1213,640 1215,649 1283,649M1226,651 1227,662 1263,671 1274,680 1283,683M1263,649 1263,671M1191,675 1220,692 1236,693 1237,701 1250,702 1250,719 1184,720M1184,675 1191,675 1192,688M1218,722 1215,737 1229,748 1232,770 1229,775 1219,777 1218,797M1184,766 1197,768 1200,750 1195,743 1191,730M1232,766 1249,767 1251,784 1256,797M1249,767 1248,755 1271,754 1273,761 1283,760M1285,697 1299,697 1300,704 1313,704 1328,694 1347,693 1347,640M1347,687 1366,688 1371,701 1377,716 1386,728 1398,737 1407,743 1410,777M1313,704 1312,746 1317,777 1410,777 1506,777M1347,777 1347,873M1506,685 1508,734 1507,765 1508,824 1482,824 1482,873M1397,661 1409,660 1411,653 1418,653 1419,647 1427,647 1427,640 1445,640 1446,647 1456,653 1461,660 1479,661 1481,667 1496,668 1497,674 1502,675 1503,685 1532,684 1533,640M1403,675 1418,676 1431,678 1445,684 1461,687 1503,685M1506,765 1568,764M1286,830 1347,830M1218,797 1222,815 1231,838 1231,841M1255,797 1258,815 1262,829 1256,842 1242,844 1235,847 1226,842 1206,851 1184,867M1235,847 1232,863 1239,878 1248,890 1256,903 1274,896 1283,899 1294,894 1310,890 1330,886 1350,887 1364,891 1382,889 1388,884 1401,884 1403,896 1409,899M1260,842 1267,849 1272,856 1258,865 1251,878 1256,885M1272,856 1283,856M1212,896 1211,914 1222,918 1236,912 1251,905 1256,903M1251,905 1250,919 1258,928 1269,932 1274,948 1283,956 1296,957 1296,963M1211,914 1215,939 1213,950 1220,966 1236,955 1242,963 1272,964 1296,963 1355,964M1294,894 1294,959M1352,887 1353,964M1353,990 1409,989M1357,965 1348,991 1341,1024M1272,964 1271,991 1268,1024M1184,983 1211,984 1213,1000 1224,1002 1224,1024M1271,973 1283,990 1353,990M1411,932 1537,932 1537,955 1521,941 1519,956 1515,957 1512,964 1481,964 1480,973 1443,973 1411,975M1519,875 1520,903 1515,905 1511,932M1547,875 1553,883 1560,890 1564,905 1562,921 1568,926M1537,955 1538,997 1533,998 1512,998 1510,1007 1517,1013 1508,1018 1506,1024M1412,997 1510,998M1533,877 1568,877 1568,885M1603,640 1602,684 1598,685 1597,765 1568,765M1568,685 1723,684M1660,640 1660,684M1673,685 1672,751M1597,765 1628,766 1629,775 1640,776 1647,765 1649,753 1723,751M1649,753 1648,872M1687,753 1688,831 1723,831M1648,823 1678,823M1597,765 1598,844 1583,845 1582,872M1727,657 1811,657 1810,663 1798,672 1793,676 1792,720M1727,686 1792,686M1811,669 1847,669 1848,686 1852,687M1760,724 1762,739 1764,764 1807,764 1805,724M1764,764 1766,798 1728,798M1766,798 1769,840 1728,844M1769,798 1813,798 1813,818 1818,857 1852,857M1728,821 1768,821M1768,840 1816,840M1768,843 1767,872M1849,724 1850,775M1669,875 1668,921 1663,924 1661,930M1568,920 1586,924 1606,919 1609,912 1591,876M1609,912 1620,924 1624,930 1661,930 1663,948 1694,949 1748,949M1624,930 1622,955 1607,971 1597,973 1577,956 1568,955M1720,910 1763,910 1762,948M1720,910 1720,948M1756,875 1755,909M1813,875 1814,916 1763,916M1814,892 1850,892M1805,917 1804,982 1748,982 1748,949M1641,955 1640,982 1618,982 1606,991 1593,998 1586,987 1588,975M1640,982 1687,982 1686,1015 1645,1015 1663,982M1687,982 1748,982M1782,983 1783,1023M1804,982 1850,982M1726,1015 1686,1015M506,1042 535,1036 551,1049 560,1061 573,1085 582,1078 581,1087M537,1024 541,1033 551,1049M569,1031 587,1062 589,1076 582,1078M553,1051 573,1037 587,1062M589,1062 614,1060 613,1085 620,1094M605,1024 609,1035 623,1046 650,1045 657,1062 654,1069 661,1085 662,1118 650,1121 627,1136 630,1152 639,1165 643,1179M623,1046 622,1082 661,1078M650,1045 654,1035 670,1028 686,1032 706,1024M657,1062 677,1060 697,1055 716,1051 716,1067 726,1072 742,1068M662,1085 679,1080 693,1069 715,1062M662,1098 679,1112 695,1129 706,1157 715,1161 749,1139 764,1118M679,1112 706,1073 716,1067M695,1129 657,1149 643,1166M697,1125 704,1118 731,1116 747,1108 764,1118 771,1123 780,1134 798,1145 800,1150M742,1068 744,1082 751,1089 762,1100 771,1123M573,1163 582,1157 581,1141 625,1139M596,1121 621,1114 620,1094M607,1184 618,1181 625,1179 643,1179 641,1168M618,1181 636,1204 641,1215 657,1232 663,1228 675,1238 683,1228 683,1215 663,1195 684,1177 695,1163 715,1161M686,1175 695,1188 706,1194 731,1186 742,1174 758,1168 764,1152 749,1139M675,1238 684,1249 702,1258 706,1267 708,1280 724,1294 733,1307 740,1309 749,1323 753,1334 753,1368M702,1257 723,1235 723,1222 751,1215 753,1204 785,1197 800,1196M638,1268 800,1268M680,1330 698,1328 713,1319 735,1328 753,1334 767,1339 787,1341 800,1348M753,1215 751,1268M834,1026 865,1066 824,1108M865,1066 899,1098 899,1175M995,1024 1036,1049 1095,1050M1036,1049 1035,1097 980,1097 979,1188M979,1188 1095,1188M979,1188 982,1240M800,1141 854,1141M800,1196 822,1195 829,1215 838,1233 846,1249 847,1268M800,1268 989,1268M869,1268 870,1341 800,1341M870,1341 864,1393 858,1408M864,1402 1079,1399M1097,1058 1184,1058M1097,1089 1184,1089M1097,1131 1125,1130 1131,1136 1151,1138 1160,1141 1168,1136 1182,1135M1168,1136 1168,1175M1141,1247 1142,1408M1141,1287 1160,1296 1184,1305M1184,1222 1173,1233 1151,1240 1141,1247M1090,1382 1110,1386 1128,1384 1141,1382M1269,1024 1269,1062 1184,1062M1235,1062 1236,1089 1195,1089 1194,1109 1184,1112M1184,1089 1355,1088M1184,1135 1307,1135M1341,1024 1350,1031 1348,1051 1357,1082 1350,1094 1332,1107 1328,1112M1303,1178 1303,1384M1350,1178 1352,1278 1362,1278 1361,1408M1184,1307 1197,1310 1203,1330 1238,1330 1239,1343 1253,1343 1254,1373 1245,1384 1244,1393 1258,1395 1258,1408M1247,1375 1278,1377 1303,1384M1211,1402 1258,1404 1350,1404M1453,1024 1454,1037 1467,1033 1476,1024M1453,1051 1508,1050 1508,1024M1453,1051 1453,1062 1411,1062M1470,1077 1481,1081 1485,1096 1492,1105 1499,1100 1508,1096 1508,1077 1499,1076M1411,1089 1481,1089M1412,1109 1463,1109 1467,1114 1485,1114 1479,1129 1470,1150 1457,1163 1455,1175M1412,1129 1509,1129 1508,1096M1509,1129 1510,1175M1508,1077 1539,1077 1541,1068 1568,1068M1532,1145 1532,1105 1544,1103 1557,1112 1560,1145 1509,1145M1411,1252 1520,1252 1520,1304 1528,1305 1535,1331 1568,1334M1500,1177 1501,1252M1501,1235 1547,1235 1547,1252 1568,1252M1447,1304 1520,1304M1447,1304 1447,1330 1411,1331M1528,1305 1568,1312M1527,1331 1527,1359 1411,1359M1494,1359 1496,1408M1527,1359 1568,1361M1512,1175 1512,1186 1503,1192M1647,1024 1647,1047 1669,1052 1669,1061 1726,1061M1661,1034 1668,1035 1669,1052M1568,1067 1602,1068 1616,1080 1629,1098 1636,1113 1640,1110 1654,1101 1663,1108 1687,1110 1706,1114 1726,1120M1664,1080 1664,1108M1616,1080 1669,1080 1669,1061M1636,1113 1633,1130 1618,1149 1619,1175M1568,1121 1636,1121M1601,1121 1602,1149 1568,1147M1602,1149 1618,1149M1633,1130 1647,1128 1655,1137 1656,1153 1658,1155 1656,1175M1658,1155 1685,1146 1691,1139 1706,1114M1726,1024 1726,1128 1850,1128M1747,1024 1747,1034 1727,1034M1782,1024 1781,1060 1850,1054M1760,1061 1759,1087 1754,1092 1727,1089M1760,1061 1781,1060M1767,1081 1767,1128M1767,1081 1850,1080M1808,1080 1808,1128M1786,1128 1786,1175M1604,1179 1606,1220 1600,1229 1618,1240 1627,1251 1636,1247 1642,1233 1674,1234 1675,1236 1728,1236 1729,1179M1651,1179 1652,1197 1643,1202 1645,1233M1568,1252 1577,1252 1578,1266 1587,1265 1588,1256 1598,1254 1621,1252 1622,1261 1642,1263 1665,1270 1705,1269 1729,1268 1741,1290 1750,1297 1768,1297 1768,1246 1741,1246 1741,1239 1728,1239M1702,1237 1708,1254 1705,1269M1621,1261 1621,1324 1647,1324M1588,1324 1621,1324M1588,1324 1588,1332 1574,1339 1577,1384 1646,1384 1648,1312M1648,1312 1721,1312 1722,1357 1732,1358 1732,1398 1719,1398 1719,1404 1679,1404 1678,1398 1673,1396 1673,1358 1703,1350 1708,1346 1722,1345M1722,1317 1750,1304 1753,1297M1747,1357 1762,1348 1766,1339 1775,1338 1775,1332 1787,1331M1747,1357 1746,1381 1787,1381M1646,1377 1673,1377M1791,1248 1852,1248M1791,1281 1852,1281M1791,1314 1852,1314M1791,1348 1852,1348M1791,1381 1852,1381M1845,1215 1845,1348M1822,1348 1822,1381M1817,1381 1817,1408M849,1408 839,1423M865,1408 872,1420 883,1430 877,1440 894,1447 1051,1447M872,1447 877,1440M966,1447 966,1506M1141,1408 1141,1550M1082,1444 1082,1476 1053,1476M1082,1444 1101,1444 1102,1450 1141,1450M1141,1518 1184,1518M1184,1408 1209,1411M1212,1457 1213,1516 1184,1516M1212,1457 1218,1463 1250,1463 1252,1445 1286,1443 1281,1430 1262,1420 1261,1408M1281,1430 1301,1480 1322,1466 1326,1448 1347,1442 1352,1436 1352,1408M1322,1466 1322,1605M1213,1516 1322,1516M1322,1523 1409,1523M1352,1436 1369,1442 1384,1426 1393,1420 1410,1420M1384,1426 1384,1473 1399,1510 1409,1523M1278,1576 1322,1576M1278,1576 1278,1593 1266,1594M1412,1463 1479,1463 1487,1470 1495,1500 1495,1508 1482,1510 1481,1516 1464,1516 1462,1568M1412,1496 1424,1497 1424,1510 1436,1511 1438,1516 1442,1516 1446,1565 1462,1565M1495,1408 1495,1443 1476,1443 1475,1463M1495,1443 1581,1443 1579,1430 1599,1428 1601,1417 1609,1416 1609,1408M1581,1443 1581,1554M1581,1451 1619,1451 1621,1456 1646,1456 1646,1468 1672,1468 1673,1408M1495,1508 1521,1508 1522,1497 1581,1476M1521,1508 1522,1570M1646,1468 1646,1516 1673,1516 1676,1482 1741,1482 1741,1436 1759,1436 1759,1428 1747,1426 1738,1408M1676,1516 1676,1554M1741,1482 1741,1516 1747,1516 1747,1554M1604,1556 1604,1599M1672,1557 1670,1615M1727,1557 1724,1615M1730,1557 1738,1568 1747,1576 1756,1583 1762,1599 1787,1605 1799,1611 1827,1615M1787,1439 1789,1408M1789,1482 1853,1482M1818,1408 1818,1482M1842,1482 1842,1516 1853,1516M1789,1548 1853,1548M1806,1548 1806,1615M1772,1556 1772,1580 1853,1582M1839,1582 1839,1615"/>
<path stroke-width="3.8" d="M517.0,482.4 530.3,484.6 541.3,497.8 545.7,515.3 556.7,524.1 574.2,528.5 600.6,519.7 622.6,516.4 646.8,523.0 679.7,515.3 701.7,516.4 723.7,508.7 750.0,502.2 778.6,495.6 790.0,494.5 912.5,494.5M907.0,268.5 907.0,464.8 912.5,482.4 912.5,494.5 924.6,502.2 940.0,519.7 943.3,526.3 933.4,548.3 924.6,568.1 918.0,585.7 907.0,603.3 900.4,608.0 896.0,621.2 909.2,630.0 911.4,647.6 907.0,658.5 907.0,798.0M969.6,268.5 969.6,341.7 988.3,365.9 990.5,385.7 1010.3,405.5 1032.3,427.4 1049.8,442.8 1076.2,445.0 1071.8,464.8 1067.4,486.8 1069.6,508.7 1063.0,526.3 1078.4,535.1 1098.2,517.5 1111.4,532.9 1124.6,559.3 1133.4,574.7 1140.0,585.7 1155.3,594.5 1159.7,610.0 1170.7,619.0 1199.3,612.4 1201.5,605.5 1230.0,604.0 1258.6,601.0 1265.2,592.3 1280.6,608.0 1285.0,608.0M455.6,798.0 1285.0,798.0M720.0,798.0 720.0,1015.0 723.7,1028.0 1058.6,1320.8M1095.6,798.0 1095.6,1234.7 1089.4,1247.9 1080.6,1250.0 1071.8,1243.5 1049.8,1245.7 1049.8,1247.9 1054.2,1267.7 1056.4,1289.7 1058.6,1312.0 1058.6,1334.0 1067.4,1351.6 1076.2,1366.9 1089.4,1380.1 1071.8,1397.7 1065.2,1410.9 1065.2,1432.9 1054.2,1448.3 1054.2,1474.6 1067.4,1483.4 1065.2,1496.6 1053.1,1499.9M1285.0,570.5 1285.0,874.0M1285.0,570.5 1725.5,570.5M1725.5,268.5 1725.5,874.0M1725.5,498.9 1852.5,498.9M1725.5,722.3 1852.5,722.3M1285.0,874.0 1852.5,874.0M1410.0,874.0 1410.0,1604.3M1095.6,1176.5 1791.4,1176.5 1791.4,1213.8 1852.5,1213.8M1788.0,1213.8 1788.0,1554.4 1562.8,1554.4 1565.0,1569.1 1582.6,1582.3 1595.8,1595.5 1615.6,1614.2M1852.5,874.0 1852.5,1176.5"/>
</g>
<path fill="none" stroke="#000" stroke-width="1.2" d="M545.7,268.5 1852.5,268.5 1852.5,1614.5M901.5,1513.1 1051.0,1500.7 1048.0,1515.1 1284.0,1604.0 1463.4,1604.0 1463.4,1570.2 1564.0,1570.2"/>
<path fill="#fff" d="M1165.6,826.7 1171.2,822.2 1178.0,823.4 1182.5,831.2 1184.0,840.2 1190.7,842.5 1197.5,853.7 1206.5,860.5 1213.2,867.2 1221.1,878.5 1213.2,881.8 1214.4,892.0 1206.5,896.5 1199.7,889.7 1193.0,876.2 1184.0,874.0 1180.2,871.7 1173.4,856.0 1166.7,842.5 1164.4,833.5ZM1087.2,337.3 1096.0,341.7 1098.2,352.7 1096.0,363.7 1089.4,365.9 1087.2,357.1 1080.6,354.9 1085.0,346.1ZM937.8,321.9 946.5,320.8 958.6,330.7 948.7,332.9 943.3,346.1 938.9,347.2 940.0,332.9ZM596.2,753.1 598.4,761.8 607.2,768.4 605.0,777.2 598.4,772.8 589.6,764.0ZM567.6,891.5 578.6,882.7 587.4,891.5 578.6,893.7ZM1318.0,612.0 1323.0,603.0 1331.0,606.0 1338.0,621.0 1333.0,624.0 1326.0,614.0ZM464.4,473.6 481.9,472.5 499.5,473.6 503.9,480.2 517.1,482.4 512.7,484.6 503.9,483.5 488.5,478.0 473.1,479.1ZM460.0,414.2 479.7,420.8 468.7,429.6 461.0,429.6ZM467.6,438.4 481.9,442.8 473.1,449.4 475.3,462.6 468.7,464.8Z"/>
<ellipse cx="718.2" cy="1017" rx="6.5" ry="11" fill="#fff"/>
<path fill="none" stroke="#fff" stroke-width="4" stroke-linecap="round" stroke-linejoin="round" d="M1481.5,390.1 1483.7,383.5 1494.7,370.3 1512.3,368.1 1529.8,365.9 1547.4,363.7 1562.8,352.7 1578.2,343.9 1582.6,352.7 1587.0,365.9 1588.1,376.9"/>
<path fill="none" stroke="#fff" stroke-width="4.5" stroke-linecap="round" stroke-linejoin="round" d="M1740.8,339.5 1754.0,332.9 1762.8,341.7 1782.6,332.9 1804.6,332.9 1820.0,343.9 1815.6,354.9 1828.7,359.3 1839.7,365.9 1833.1,374.7 1854.0,376.9"/>
<path fill="none" stroke="#fff" stroke-width="10" stroke-linecap="round" stroke-linejoin="round" d="M972.0,1442.0 991.0,1463.0"/>
<path fill="none" stroke="#fff" stroke-width="3.2" stroke-linecap="round" stroke-linejoin="round" d="M1256.4,1177.6 1269.6,1171.0 1291.6,1166.6 1307.0,1157.8 1304.8,1149.0 1313.6,1131.4 1324.6,1113.8 1326.8,1109.5"/>
<path fill="none" stroke="#fff" stroke-width="7" stroke-linecap="round" stroke-linejoin="round" d="M1258.0,1177.0 1268.0,1172.0"/>
<path fill="none" stroke="#fff" stroke-width="3.5" stroke-linecap="round" stroke-linejoin="round" d="M1095.6,1236.0 1089.4,1247.9 1080.6,1250.0 1071.8,1243.5 1062.0,1241.0 1049.8,1245.7"/>
<path fill="none" stroke="#fff" stroke-width="3" stroke-linecap="round" stroke-linejoin="round" d="M1077.3,1208.4 1073.0,1243.5"/>
<path fill="none" stroke="#fff" stroke-width="2.2" stroke-linecap="round" stroke-linejoin="round" d="M1097.0,1236.0 1108.0,1250.0 1120.0,1264.4"/>
<path fill="none" stroke="#fff" stroke-width="4" stroke-linecap="round" stroke-linejoin="round" d="M567.6,1111.6 566.0,1094.0 575.0,1090.0 592.0,1089.7 611.0,1096.0 627.0,1098.5"/>
<path fill="none" stroke="#fff" stroke-width="4.5" stroke-linecap="round" stroke-linejoin="round" d="M567.6,1111.6 572.0,1125.0 583.0,1135.0 590.0,1142.0"/>
<path fill="none" stroke="#fff" stroke-width="3" stroke-linecap="round" stroke-linejoin="round" d="M1245.5,447.2 1256.4,467.0"/>
<path fill="none" stroke="#fff" stroke-width="4" stroke-linecap="round" stroke-linejoin="round" d="M1170.7,735.5 1186.1,720.1"/>
<path fill="none" stroke="#fff" stroke-width="3" stroke-linecap="round" stroke-linejoin="round" d="M1277.3,697.0 1283.9,706.9"/>
<path fill="none" stroke="#fff" stroke-width="2" stroke-linecap="round" stroke-linejoin="round" d="M1074.0,1364.7 1091.6,1378.0"/>
<path fill="none" stroke="#fff" stroke-width="3" stroke-linecap="round" stroke-linejoin="round" d="M558.9,315.3 553.4,330.7 557.8,343.9 569.8,348.3 576.4,343.9"/>
<path fill="none" stroke="#fff" stroke-width="3.5" stroke-linecap="round" stroke-linejoin="round" d="M569.8,348.3 567.6,359.3 558.9,370.3 567.6,383.5 561.1,396.7 547.9,401.1 535.8,409.8"/>
<path fill="none" stroke="#fff" stroke-width="3" stroke-linecap="round" stroke-linejoin="round" d="M547.9,352.7 535.8,374.7 524.8,387.9 539.1,390.1 545.7,385.7"/>
<path fill="none" stroke="#fff" stroke-width="3" stroke-linecap="round" stroke-linejoin="round" d="M556.7,359.3 552.3,374.7 558.9,379.1"/>
<path fill="none" stroke="#fff" stroke-width="3" stroke-linecap="round" stroke-linejoin="round" d="M547.9,392.3 543.5,401.1 550.1,403.3"/>
<path fill="none" stroke="#fff" stroke-width="2.5" stroke-linecap="round" stroke-linejoin="round" d="M840.2,294.5 833.6,310.9 836.9,325.2"/>
<path fill="none" stroke="#fff" stroke-width="3" stroke-linecap="round" stroke-linejoin="round" d="M780.8,479.1 788.5,486.8"/>
<path fill="none" stroke="#fff" stroke-width="3" stroke-linecap="round" stroke-linejoin="round" d="M1545.2,761.8 1546.3,775.0"/>
<path fill="none" stroke="#fff" stroke-width="2.5" stroke-linecap="round" stroke-linejoin="round" d="M1548.5,787.1 1551.8,794.8 1548.5,802.5"/>
<path fill="none" stroke="#fff" stroke-width="3.5" stroke-linecap="round" stroke-linejoin="round" d="M1667.2,754.2 1669.4,759.6"/>
<path fill="none" stroke="#fff" stroke-width="3" stroke-linecap="round" stroke-linejoin="round" d="M1376.0,854.2 1379.3,862.9 1377.1,875.0"/>
<g stroke="#000" stroke-width="1.3" stroke-linejoin="miter">
<polygon points="2044.5,365.0 2065.55,260 2086.6,365.0" fill="#e633f0"/>
<rect x="2044.5" y="365.00" width="42.1" height="104.25" fill="#931bc1"/>
<rect x="2044.5" y="469.25" width="42.1" height="104.25" fill="#7718d8"/>
<rect x="2044.5" y="573.50" width="42.1" height="104.25" fill="#47a0f8"/>
<rect x="2044.5" y="677.75" width="42.1" height="104.25" fill="#4aa632"/>
<rect x="2044.5" y="782.00" width="42.1" height="104.25" fill="#7fc673"/>
<rect x="2044.5" y="886.25" width="42.1" height="104.25" fill="#e8e84a"/>
<rect x="2044.5" y="990.50" width="42.1" height="104.25" fill="#e0b04d"/>
<rect x="2044.5" y="1094.75" width="42.1" height="104.25" fill="#e2893f"/>
<rect x="2044.5" y="1199.00" width="42.1" height="104.25" fill="#e63323"/>
<rect x="2044.5" y="1303.25" width="42.1" height="104.25" fill="#ae241a"/>
<polygon points="2044.5,1407.5 2065.55,1512 2086.6,1407.5" fill="#7a140e"/>
</g>
<g id="labels" stroke="none">
<path fill="#000" d="M685.3,51.2l-1.5,1.6 0,38.2 1.5,1.5 2,0 1.5,-1.5 0,-25.5 4.5,-5.5 1.8,-1.8 1.5,-1 0.5,0 1.2,-1 4.5,0 2.3,1.6 1,1 0.7,3.7 0.5,0.7 0,0.8 0.5,1 0,26 1.5,1.5 2,0 1.5,-1.5 0,-28 -0.2,-0.2 -0.3,-1.8 -0.7,-1.5 -0.8,-3.7 -1.2,-1.6 -4.8,-3 -8.5,0 -5,3 -1.7,2 -0.5,0 -0.3,-0.2 0,-3.2 -0.5,-0.8 -1,-0.8zM654.8,51.2l-2,1.6 -3.2,1.7 -1,1.5 -2.8,3 -1.5,2.5 -1.2,5.5 -0.5,0.8 0,8.4 0.7,1.6 1,4.7 0.5,1 5,6 5,3 8.8,0 5,-3 5,-6 0,-2.3 -0.5,-0.7 -1,-0.7 -2,0 -1.8,1.4 -1,1.6 -2.5,2.7 -3.2,2 -4.5,0 -3.5,-2 -3.8,-4.3 -0.7,-1.7 -1,-4.7 -0.5,-0.8 0,-1.8 0.5,-0.4 24,0 1.5,-1.6 0,-7.4 -0.8,-1 -0.2,-1.3 -1.5,-3.3 -2.8,-3 -2.2,-1.4 -1.3,-0.6 -1.2,-1zM648.8,65.5l0.3,-0.3 0.2,-1.7 0.8,-1.3 3.7,-4 3.3,-2 4.5,0 3,2 1.7,1.8 0.5,0.8 1,3 0.5,0.4 0.3,2 -0.5,0.6 -18.8,0 -0.5,-0.6zM615.8,51.2l-1.2,1 -0.5,0 -2,1.6 -1.5,0.7 -5,6 0,0.7 -0.8,1.6 -0.7,3.7 -0.7,1.7 0,7.6 1,2.4 0,0.8 1.2,4.2 5,6.3 0.8,0.5 0.4,0 1.3,1 2.7,1.5 8.5,0 4.5,-2.5 2,-2 3.8,-4.8 0,-2 -1.5,-1.4 -2,0 -2.5,2.2 -1.3,1.8 -2.2,2.2 -2.8,1.5 -4.5,0 -1.7,-1.3 -1.7,-0.7 -3.8,-4.5 0,-0.5 -0.5,-0.5 -1,-4.8 -0.7,-1.7 0,-3.3 1.2,-3.4 0.5,-2.8 0.5,-0.8 0,-0.4 4,-4.6 1.2,-0.4 2,-1.6 4.5,0 1.3,1 0.5,0 1.5,1 2.7,3 0.8,1.3 1.7,1.5 2.3,0 0.7,-0.5 0.8,-1 0,-2 -5.3,-6.3 -5,-3zM598.4,51.2l-8.6,0 -5,3 -1.7,2 -0.7,-0.2 0,-3.2 -1.6,-1.6 -2,0 -1.4,1.6 0,38.2 1.4,1.5 2,0 1.6,-1.5 0,-20.8 1,-3 0.2,-1.7 0.5,-0.7 0.3,-1.8 4.2,-4.8 1.5,-1 0.5,0 1.2,-1 6.6,0 0.7,-0.4 0.7,-1 0,-2zM548.4,51.2l-2,1.6 -3.3,1.7 -1,1.5 -2.7,3 -1.6,2.5 -1.2,5.5 -0.5,0.8 0,8.4 0.7,1.6 1,4.7 0.6,1 5,6 5,3 8.7,0 5,-3 5,-6 0,-2.3 -0.5,-0.7 -1,-0.7 -2,0 -1.8,1.4 -1,1.6 -2.4,2.7 -3.3,2 -4.5,0 -3.5,-2 -3.7,-4.3 -0.8,-1.7 -1,-4.7 -0.5,-0.8 0,-1.8 0.5,-0.4 24,0 1.5,-1.6 0,-7.4 -0.7,-1 -0.3,-1.3 -1.5,-3.3 -2.8,-3 -2.2,-1.4 -1.2,-0.6 -1.3,-1zM542.4,65.5l0.2,-0.3 0.2,-1.7 0.8,-1.3 3.8,-4 3.2,-2 4.5,0 3,2 1.7,1.8 0.6,0.8 1,3 0.4,0.4 0.3,2 -0.5,0.6 -18.8,0 -0.4,-0.6zM728.8,33.2l-1.5,1.6 0,16 -0.5,0.4 -4.5,0 -1.5,1.6 0,2 1.5,1.4 4.5,0 0.5,0.6 0,24.4 0.5,0.8 1,4.8 0.8,1.7 0.7,1 5,3 6.3,0 1.5,-1.5 0,-2 -0.5,-0.8 -1,-0.7 -4.3,0 -2.5,-1.5 -1,-1.5 -1,-4.5 -0.5,-0.8 0,-22.4 0.5,-0.6 6.8,0 1.5,-1.4 0,-2 -1.5,-1.6 -6.8,0 -0.5,-0.4 0,-16 -1.5,-1.6zM515.9,33.2l-21.7,0 -1.5,1.6 0,56.2 1.5,1.5 2,0 1.5,-1.5 0,-23.8 0.5,-0.4 17.7,0 0.6,-0.6 1.4,-0.2 0.8,-0.5 0.5,0 0.5,-0.5 0.8,0 0.4,-0.5 0.8,0 2.5,-2 2,-2.7 0.7,-2.3 1.3,-2.5 0,-10 -0.5,-0.8 0,-0.4 -0.5,-0.6 -1,-3 -3,-3.7 -1.5,-1 -0.8,0 -0.4,-0.5 -0.8,0 -0.5,-0.5 -0.5,0zM497.6,38.8l0.5,-0.6 15.5,0 5.2,2.3 0.6,0 1.7,2 0.7,2.3 1.3,2.4 0,5.8 -0.5,0.8 0,0.4 -0.5,0.6 -0.7,2.4 -2,2.3 -5,1.7 -0.8,0.6 -15.5,0 -0.5,-0.6z"><title>Percent</title></path>
<path fill="#000" d="M804.6,51.2l-2,1.6 -0.5,0 -2.8,1.7 -4.7,6 -0.3,1.3 -0.7,1.4 0,0.8 -1.3,4.2 0,7.6 2.3,7.7 5,6 5,3 8.7,0 3,-2 0.5,0 0.8,-0.5 2,-2 0.7,-1.2 3,-3.6 1,-4.4 0.5,-0.8 0.5,-1.8 0,-8.4 -0.3,-0.3 -0.2,-1.7 -0.5,-0.8 -1,-4.5 -5.2,-6.3 -1.5,-1 -0.5,0 -2.8,-2zM806.8,56.2l4.3,0 1.2,1 0.5,0 1.5,1 4,4.8 1,4.2 0.5,0.6 0,0.7 0.5,1.3 0,4.2 -0.3,0.2 -0.2,1.8 -0.5,0.8 -1,4.2 -4.5,5 -2.7,1.5 -4.3,0 -0.7,-0.3 -2.8,-1.7 -1.7,-1.7 -2.3,-3 -2,-7.3 0,-3.3 1,-3 0.5,-2.7 0.5,-0.7 0,-0.8 1.8,-2.2 2.5,-2.6zM851.8,33.2l-6.2,0 -4.6,2.8 -1.4,1.8 -0.3,1.7 -0.5,1 0,0.7 -0.5,0.8 0,0.8 -0.7,2.2 0,5.8 -0.6,0.4 -4.4,0 -1.6,1.6 0,2 1.6,1.4 4.4,0 0.6,0.6 0,34.2 1.4,1.5 2,0 1.6,-1.5 0,-34.2 0.4,-0.6 6.8,0 1.5,-1.4 0,-2 -1.5,-1.6 -6.8,0 -0.4,-0.4 0,-3.8 0.7,-2.8 0.5,-0.7 0.5,-2.7 1.3,-1.3 2.2,-1.3 4,0 1,-0.7 0.5,-0.7 0,-2z"><title>of</title></path>
<path fill="#000" d="M1105.5,51.2l-5.5,3.3 -5.2,6 -0.3,1.7 -0.7,1.6 -0.6,2.7 -0.7,1.7 0,7.6 1,2.4 0,0.8 0.7,1.8 0.6,2.4 1.4,2 4,4.3 2.3,1.5 0.5,0 2.5,1.5 8.7,0 0.8,-0.3 1.2,-1 1,-0.2 1.8,-1.2 0.8,0.2 0,1 1.4,1.5 2,0 1.6,-1.5 0,-38.2 -1.6,-1.6 -2,0 -1.4,1.6 0,1 -0.3,0.2 -0.7,0 -4.6,-2.8zM1107.5,56.2l4.7,0 1.3,1 0.5,0 1.2,1 0.6,0 4,4.6 0,18.2 -4,4.5 -3.6,2 -4.7,0 -3.3,-2 -0.4,0 -4,-4.5 -0.6,-2.2 -0.4,-0.8 -0.6,-2.8 -0.7,-1.7 0,-3.3 0.7,-1.7 0,-0.7 0.6,-1 0,-0.8 0.4,-0.8 0.6,-2.2 4.2,-4.8 0.5,0zM1027.2,52.0l-0.4,0.8 0,38.2 0.7,1 0.7,0.5 2,0 1.6,-1.5 0,-25.5 6.2,-7 0.8,-0.3 1.2,-1 0.5,0 1.3,-1 4.7,0 2.5,1.6 1,1 1.2,5.2 0.6,0.8 0,26.2 1.4,1.5 2,0 1.6,-1.5 0,-25.5 6.4,-7.3 0.6,0 3,-2 4.7,0 1.3,1 0.4,0 1.8,1.6 0.8,3.7 0.4,0.7 0,0.8 0.6,1 0,26 1.4,1.5 2,0 1,-0.7 0.6,-0.8 0,-28 -0.3,-0.2 -0.3,-1.8 -0.7,-1.5 -0.5,-2.7 -0.5,-0.8 0,-0.5 -1,-1.3 -5,-3 -9,0 -2,1.6 -0.5,0 -1.2,1 -0.6,0 -0.7,0.4 -4,4 -0.5,-0.7 -0.2,-1.7 -0.8,-1.3 -2.8,-1.7 -0.4,0 -2,-1.6 -9,0 -5.6,3.3 -1.7,2 -0.7,-0.3 0,-3.4 -0.8,-1 -0.8,-0.6 -2,0zM1019.0,51.2l-8.8,0 -3,2 -0.4,0 -2,1.3 -1.6,1.7 -0.7,-0.2 0,-3.2 -1.5,-1.6 -2,0 -1.5,1.6 0,38.2 1.5,1.5 2,0 1.5,-1.5 0,-21.2 0.3,-0.3 0.2,-1.7 0.5,-0.6 1,-4.2 3.7,-4.2 2.8,-1.6 1.2,-1 6.8,0 0.8,-0.4 0.7,-1 0,-2zM965.0,51.2l-5.5,3.3 -5.3,6 -0.2,1.7 -0.8,1.6 -0.4,2.7 -0.8,1.7 0,7.6 1,2.4 0,0.8 0.8,1.8 0.4,2.4 1.6,2 4,4.3 2.2,1.5 0.5,0 2.5,1.5 8.8,0 0.7,-0.3 1.3,-1 1,-0.2 2.2,-1.5 5.2,-6 0.6,-2.3 0.4,-0.7 0.6,-2.7 0.7,-1.6 0,-8.4 -0.5,-0.8 -0.8,-3.8 -0.4,-0.7 -0.6,-2 -5,-6 -5.4,-3.3zM967.0,56.2l4.8,0 3,2 0.4,0 4,4.6 0.6,1.2 0,0.8 0.4,0.7 0.8,3.5 0.5,0.8 0,4.2 -0.5,0.8 0,0.7 -1.5,5.3 -4.3,4.7 -3.4,2 -4.8,0 -3.2,-2 -0.6,0 -4,-4.5 -0.4,-2.2 -0.6,-0.8 -0.4,-2.8 -0.8,-1.7 0,-3.3 0.8,-1.7 0,-0.7 0.4,-1 0,-0.8 0.6,-0.8 0.4,-2.2 4,-4.5 0.8,-0.3 1.2,-1 0.6,0zM1139.5,33.2l-1.5,1.6 0,56.2 1.5,1.5 2,0 1.5,-1.5 0,-56.2 -1.5,-1.6zM906.0,33.2l-1.5,1.6 0,56.2 1.5,1.5 2,0 1.5,-1.5 0,-44.2 0.5,-0.3 1.2,1.7 1.6,3 1.4,2 2.8,5.3 1.5,2 2.7,5.3 1.6,2 2.7,5.2 1.5,2 0.8,1.8 3.7,6 4.5,8 1.8,1.7 2,0 1.4,-1.5 0,-56.2 -1.4,-1.6 -2,0 -1.6,1.6 0,44.2 -0.4,0.2 -1.6,-2 -0.7,-1.7 -3.5,-5.5 -1,-2.2 -1.8,-2.6 -2.4,-4.7 -1.8,-2.5 -2.5,-4.8 -1.7,-2.4 -0.6,-1.3 -3.7,-6 -4.7,-8.5 -1.8,-1.8z"><title>Normal</title></path>
<path fill="#000" d="M1585.6,51.2l-1.5,1.6 0,38.2 1.5,1.5 2,0 1.5,-1.5 0,-25.5 6,-7 0.7,-0.3 1.3,-1 0.5,0 1.2,-1 4.6,0 2.4,1.6 1,1 0.3,1.7 0.5,0.7 0.5,2.8 0.5,1 0,26 1.5,1.5 2,0 1.5,-1.5 0,-28 -1,-3 0,-0.8 -0.5,-0.7 -0.7,-3.3 -0.8,-1 -2,-1 -1.2,-1 -0.6,0 -1.2,-1 -8.8,0 -3,2 -0.4,0 -2,1.3 -2,2 -0.3,-0.3 0,-3.4 -0.5,-0.8 -1,-0.8zM1552.3,51.2l-3,2 -0.6,0 -2,1.3 -5,6 -0.2,1.7 -0.5,0.6 -0.7,3.7 -0.8,1.7 0,7.6 1,2.4 0,0.8 0.2,0.2 0.3,1.8 0.5,0.8 0.2,1.4 1,1.6 4.3,4.7 5.3,3 8.7,0 4.7,-2.7 1.8,-1.8 4,-5 0.8,-3.8 0.4,-0.7 0,-0.7 0.8,-2 0,-7.6 -2.2,-7.7 -5.6,-6.5 -1.7,-0.8 -1.3,-1 -0.4,0 -1.3,-1zM1554.3,56.2l4.7,0 2,1.6 0.5,0 0.8,0.4 4,4.6 0.4,1.2 0.6,2.8 0.4,0.7 0.8,2.7 0,3.3 -0.2,0.3 -0.6,2.7 -0.4,0.7 -0.8,3.6 -4.8,5.2 -1,0.2 -1.7,1.3 -4.7,0 -1.8,-1.3 -0.5,0 -1.3,-0.7 -4,-4.5 -0.2,-1.2 -0.5,-0.8 -0.7,-3.8 -0.8,-1.7 0,-3.3 0.8,-1.7 0,-0.7 1.4,-4.8 3.8,-4.5 2.5,-1.3zM1525.6,51.2l-1.5,1.6 0,38.2 1.5,1.5 2,0 1.5,-1.5 0,-38.2 -1.5,-1.6zM1465.6,51.2l-1.2,1 -0.6,0 -1.2,1 -1.8,0.8 -5.7,6.5 -0.3,1.7 -0.4,1 0,0.8 -0.6,0.8 0,0.7 -0.7,2.3 0,8.4 0.7,2 0,0.8 0.6,0.8 0.7,3.4 5.3,6.3 5.2,3 8.8,0 4.2,-2.5 0.8,0 0.7,1.8 1,0.7 2,0 1.5,-1.5 0,-38.2 -1.5,-1.6 -2,0 -1,0.8 -0.5,0.8 0,0.7 -0.8,0.5 -4.4,-2.8zM1467.6,56.2l4.8,0 1.2,1 2,1 4,4.6 0,18.2 -3.8,4.5 -1.2,0.7 -0.5,0 -1.7,1.3 -4.8,0 -1.8,-1.3 -1.7,-0.7 -4,-4.5 -2,-7 0,-4.2 0.7,-2.8 0.6,-0.8 0.7,-3.2 4.3,-4.8 0.7,-0.4 0.5,0zM1412.3,51.2l-1.6,1.6 0,38.2 1.6,1.5 2,0 1.4,-1.5 0,-38.2 -1.4,-1.6zM1387.6,51.2l-8.8,0 -4.2,2.8 -0.8,0 -0.2,-0.2 0,-1 -1.5,-1.6 -2,0 -1.5,1.6 0,56.2 1.5,1.5 2,0 1.5,-1.5 0,-18.8 0.5,-0.4 0.7,0.2 1.3,1 1,0.2 1.7,1.3 8.8,0 0.8,-0.3 1.2,-1 1,-0.2 2.2,-1.5 3.8,-4.3 1.8,-2.7 0.7,-3.7 0.5,-0.8 0.5,-1.8 0,-8.4 -0.3,-0.3 -0.2,-1.7 -0.5,-0.8 -0.7,-3.5 -1.6,-2.5 -4.4,-5zM1381.1,56.2l4.5,0 1.2,1 0.6,0 1.4,1 4.3,4.8 1,4.2 0.5,0.6 0,0.7 0.5,1.3 0,4.2 -0.3,0.2 -0.2,1.8 -0.5,0.8 -0.5,2.7 -0.8,1.7 -3.7,4.3 -3.5,2 -4.5,0 -0.7,-0.3 -1.3,-1 -1.7,-0.7 -3.8,-4.3 0,-18.4 4,-4.6 0.5,0zM1352.1,51.2l-1.5,1.6 0,38.2 1.5,1.5 2,0 1.5,-1.5 0,-38.2 -1.5,-1.6zM1321.1,51.2l-1.3,1 -0.4,0 -1.3,1 -1.7,0.8 -5.8,6.5 -0.2,1.7 -0.5,1 0,0.8 -0.5,0.8 0,0.7 -0.8,2.3 0,8.4 0.8,2 0,0.8 0.5,0.8 0.7,3.4 5.3,6.3 5.2,3 8.7,0 4.6,-2.5 2.4,-2.5 3.3,-4 0,-2.3 -1.5,-1.4 -2,0 -1.8,1.4 -3.4,4.3 -1.3,0.7 -0.5,0 -1.8,1.3 -4.7,0 -1.7,-1.3 -1.8,-0.7 -4,-4.5 -2,-7 0,-4.2 0.8,-2.8 0.5,-0.8 0.5,-2.7 0.7,-1.3 3.7,-4 0.8,-0.4 0.5,0 2,-1.6 4.7,0 1.3,1 2,1 3.3,3.8 2.2,2 2,0 0.8,-0.5 0.7,-1 0,-2 -5.5,-6.5 -1.2,-0.8 -0.6,0 -3,-2zM1281.1,51.2l-3,2 -1.7,0.8 -5.8,6.5 0,0.7 -0.5,1.8 -0.5,0.8 -0.7,3.7 -0.5,0.7 0,7.6 0.5,0.7 0,0.7 0.5,1 0.2,1.8 0.5,0.8 0.5,2.4 5.3,6.3 5.2,3 8.8,0 4.5,-2.5 5.7,-6.5 0,-2.3 -0.5,-0.7 -1,-0.7 -2,0 -1.7,1.4 -1.5,2 -2.8,2.8 -1,0.2 -1.7,1.3 -4.8,0 -1.7,-1.3 -0.5,0 -1.3,-0.7 -4,-4.5 -0.5,-2.2 -0.5,-0.8 -0.7,-3.8 -0.5,-0.7 0,-1.3 0.5,-0.4 24.7,0 1.5,-1.6 0,-7.4 -0.7,-1 -0.3,-1.3 -0.7,-1 -0.3,-1.3 -0.7,-1.2 -3.5,-3.5 -1,-0.3 -3,-2zM1274.6,66.0l0.5,-0.8 0.5,-2.2 3.3,-4 4.2,-2.8 4.8,0 2,1.6 0.5,0 0.7,0.4 2,2.3 0.3,1 0.5,0.5 0,0.5 0.5,0.7 0.2,1.3 0.5,0.5 0,1.2 -0.5,0.6 -19.5,0zM1263.1,51.2l-8.7,0 -1.3,1 -4,2.3 -1.5,1.7 -0.7,-0.2 0,-3.2 -1.5,-1.6 -2,0 -1.5,1.6 0,38.2 1.5,1.5 2,0 1.5,-1.5 0,-21.2 1,-2.6 1,-4.2 4.2,-4.8 0.5,0 3,-2 6.5,0 0.8,-0.4 0.7,-1 0,-2zM1501.1,33.2l-1.5,1.6 0,16 -0.5,0.4 -4.5,0 -1.5,1.6 0,2 1.5,1.4 4.5,0 0.5,0.6 0,24 0.2,0.2 0.3,1.8 0.5,0.7 0.8,3.7 0.4,0.6 0,0.7 0.8,1 5.2,3 6.6,0 1.4,-1.5 0,-2 -0.4,-0.8 -1,-0.7 -4.6,0 -1.7,-1.3 -1,-0.2 -0.7,-1 -0.3,-1.8 -1.5,-4.4 0,-22 0.5,-0.6 7,0 1.5,-1.4 0,-2 -1.5,-1.6 -7,0 -0.5,-0.4 0,-16 -1.5,-1.6zM1432.3,33.2l-1.6,1.6 0,16 -0.4,0.4 -4.8,0 -1.5,1.6 0,2 1.5,1.4 4.8,0 0.4,0.6 0,24.4 0.3,0.3 0.5,2.7 0.5,0.8 0.7,3.5 0.8,1 0.8,0.5 0.4,0 1.3,1 1,0.2 1.7,1.3 6.6,0 1.4,-1.5 0,-2 -0.4,-0.8 -1,-0.7 -4.3,0 -2.7,-1.5 -0.8,-0.8 -0.5,-2.4 -0.5,-0.6 0,-0.7 -0.8,-2.3 0,-22.4 0.6,-0.6 6.7,0 1.5,-1.4 0,-2 -1.5,-1.6 -6.7,0 -0.6,-0.4 0,-16 -1.4,-1.6zM1224.6,35.5l-0.5,0 -5.2,-2.3 -22.3,0 -1.5,1.6 0,56.2 1.5,1.5 2,0 1.5,-1.5 0,-23.8 0.5,-0.4 18.3,0 0.5,-0.6 1.5,-0.2 5,-2.2 2.7,-3 1,-1.8 0.3,-1.2 0.5,-0.6 0.7,-2 0,-10.4 -2.5,-5.6 -2.7,-3zM1200.1,38.8l0.5,-0.6 16,0 5.3,2.3 0.5,0 1.7,1.7 0.8,2.3 0.5,0.5 0.7,2 0,6.2 -2,4.6 -1.7,1.7 -5,1.7 -0.8,0.6 -16,0 -0.5,-0.6zM1525.6,30.8l-2,1.7 -1.8,2.3 0,2 3,3.7 0.8,0.5 2,0 1.5,-1.2 2.3,-3 0,-2 -1.3,-1.8 -1.7,-1.8 -0.8,-0.4zM1412.3,30.8l-1.3,0.7 -2.5,3.3 0,2.2 3,3.5 0.8,0.5 2,0 1,-0.8 2.4,-3.2 0,-2.2 -0.7,-1.3 -2,-2.3 -0.7,-0.4zM1352.1,30.8l-1.5,1.2 -2,2.8 0,2.2 2.8,3.5 0.7,0.5 2,0 2,-1.8 1.7,-2.2 0,-2.2 -2.4,-3.3 -1.3,-0.7z"><title>Precipitation</title></path>
<path fill="#000" d="M1681.0,23.0l-2,1.8 -1,1.7 -1,1 -1.6,2.3 -1,2 0,0.4 -2.4,4.8 -0.8,2.5 -1,2 -0.2,1.5 -1.8,4 -0.5,4.2 -0.5,1.8 0,1.5 -0.2,0.3 0,1.2 -0.6,1.8 0,1.4 -0.2,0.3 0,14.5 0.2,0.2 0,1.6 0.6,1.7 0,1.5 0.4,1.8 0,1.4 0.3,0.3 0.5,4.3 1.5,3.2 0.5,2.2 0.5,0.8 1,3 2.7,5.2 0,0.6 1,2 4.3,6 1,0.7 2.3,0 1.4,-1.5 0,-2 -4.2,-5.8 -0.8,-2 -2.7,-5.2 -0.3,-1.2 -1,-2 -0.2,-1.6 -2,-4.7 -0.5,-4.3 -0.5,-1.7 0,-1.5 -0.5,-1.8 0,-1.4 -0.5,-1.8 0,-10.5 0.5,-1.7 0,-1.6 0.3,-0.2 1.2,-8.8 2,-4.7 0,-0.7 1.5,-4 2.3,-4.8 0.4,-0.5 0,-0.7 0.8,-1.6 4.2,-5.7 0,-2 -0.4,-0.7 -1,-0.8z"><title>(</title></path>
<path fill="#000" d="M1727.8,71.0l-0.8,0.2 -2,1.5 -0.5,0 -2,1.5 -2.5,6.2 0,5.3 0.5,1.3 4.3,5.2 1.2,0.5 4.2,0 1.3,-0.5 0.5,-0.5 0.5,0 2.3,-1.5 1,-1 2.2,-5.5 0,-6.3 -1,-1.7 -3.8,-4.5 -0.7,-0.2zM1728.2,74.0l3.3,0 3.5,4 0,5.4 -0.8,1.6 -0.2,1.2 -0.5,0.5 0,0.5 -1,1 -0.5,0 -2,1.5 -3.2,0 -3.8,-4.5 0,-4.5 1,-2 0.2,-1.3 1.3,-1.7zM1737.2,33.5l-0.7,-0.2 -1,0.2 -2.7,2 -0.6,0 -1.4,1 -4.3,1.6 -0.5,0.4 -6.5,0 -0.7,-0.4 -4.3,-1.6 -3.7,-2.4 -1.8,-0.8 -4.8,0 -1.2,0.8 -0.5,0 -3.5,2.4 -1,2 -0.5,2 -1,2.3 0,5.5 0.3,0.8 3.4,4.4 1.3,1.3 0.7,0.3 4.6,0 0.7,-0.3 2.5,-1.7 0.5,0 1.7,-1.6 1.6,-4.2 0.7,-1.2 0,-5.8 0.5,-0.5 4.2,1.7 6.8,0 4.2,-1.7 0.6,0 0.2,0.7 -1,1 -0.8,1.6 -1.4,1.7 -0.3,0.7 -5,7 -2.7,4.6 -1,1 -0.8,1.4 -3,4 -0.2,0.8 -1.6,1.8 -0.2,0.7 -1.8,2.3 -2.7,4.4 -1,1 -0.7,1.6 -3,4 -0.3,0.7 -1.5,1.7 -0.8,1.6 -1,1 -1,2 -2.4,3.4 0,1.6 0.4,0.4 1.6,0 1,-1 0.7,-1.4 1.5,-1.8 0,-0.5 3.2,-4.3 0.8,-1.4 1,-1 3,-5 1,-1 2.2,-3.8 1,-1 0.8,-1.5 1.5,-1.7 0.3,-0.8 2.2,-3 0.2,-0.8 2.6,-3.2 2.7,-4.5 1,-1 0.7,-1.5 3,-4 0.3,-0.8 1.5,-1.7 0.2,-0.7 1.8,-2.3 2.8,-4.5 1.4,-1.8 0.6,-1 0,-1.4zM1704.8,36.2l3.2,0 3.5,4.2 0,5 -0.5,0.8 -1,3.2 -3.5,2.6 -3.5,0 -3.5,-4.3 0,-4.7 1.3,-3.6 1,-1.4 0.7,-0.6 0.5,0z"><title>%</title></path>
<path fill="#000" d="M1751.1,23.0l-1.5,1.5 0,2 4.5,5.7 4,7.8 0.3,1.2 0.7,1 0.3,1.3 0.4,0.7 2.3,6 0.7,6.3 0.6,1 0,1.5 0.2,0.2 0.2,3 0.3,0.3 0,8.7 -0.5,1.8 -0.2,3 -0.6,1 0,1.5 -0.2,0.3 -0.8,5.4 -1.7,4 -1.3,3.8 -0.4,0.5 0,0.5 -3.6,7 -5.2,7 0,2 0.8,1 0.7,0.5 2.3,0 1,-0.7 5,-6.8 2.4,-5.2 1.3,-2 0,-0.6 1,-1.7 0.7,-2.5 2,-4.8 1,-7 0.6,-1.2 0.2,-3 0.5,-1.8 0,-13 -0.5,-1.7 -0.2,-3 -0.6,-1 -0.7,-6.3 -3,-8 -1,-1.7 0,-0.5 -3.7,-7.5 -4.3,-5.7 -2,-1.8z"><title>)</title></path>
<path fill="#000" d="M1005.2,138.0l-1,0.7 -0.8,1.5 0,2.8 -0.2,0.2 0,2.8 -0.3,0.2 0,2.5 -0.3,0.3 0,2.7 -0.4,1.8 -0.8,11.2 1.5,1.5 2,0 3.7,-3.2 0.8,0 0.5,-0.5 0.7,0 0.6,-0.5 0.7,0 0.5,-0.5 0.8,0 0.4,-0.5 4.8,0 0.8,0.5 4.2,1.5 1.8,1.2 3,3.8 0.7,3.5 0.7,1.5 0,0.7 0.6,1.3 0,3.2 -0.3,0.3 -0.3,1.7 -0.4,0.8 -1,4.5 -1.3,1.2 -0.7,1.3 -2,2 -5.8,2.2 -4.8,0 -5.7,-2.2 -2,-2.3 -1.5,-4 -1.8,-1.7 -2,0 -0.7,0.5 -0.7,1 0,2 0.7,1.2 0.7,2.5 1,1.8 2,2.5 1.6,1.2 6.4,2.5 8.8,0 0.2,-0.2 0.8,0 0.5,-0.5 0.7,0 0.6,-0.5 1.4,-0.3 3,-1.5 5.6,-6.5 1,-4.7 0.4,-0.8 0.6,-1.7 0,-7.5 -0.3,-0.3 -0.3,-1.7 -0.4,-0.8 0,-0.7 -1.3,-4.3 -4.3,-5.2 -1.4,-1.3 -6,-2.2 -0.8,-0.5 -8.8,0 -3.2,1.5 -1,0 -0.2,-0.3 0,-1.7 0.4,-1.8 0,-2.5 0.3,-0.2 0,-2.8 0.3,-0.2 0.2,-4.5 0.5,-0.5 20.3,0 1.4,-1.5 0,-2 -1.4,-1.5zM967.7,138.0l-5,3 -1.7,1.7 -1.7,2.5 -0.8,2.5 -0.5,0.5 0,0.5 -0.5,0.8 0,5 0.5,0.7 1,0.8 2,0 1,-0.8 0.5,-0.7 0,-2.8 0.5,-1.5 0.7,-1 0.8,-2.2 2.2,-2.3 0.6,0 2.4,-1.7 6.8,0 0.8,0.2 2,1.5 0.4,0 2,2.3 1.6,3.2 0.2,1.3 0.5,0.5 0,3 -0.7,1.2 -1.3,3.5 -2.5,4 -1.8,3.5 -4.4,5 -0.8,1.3 -2,2 -10,12 -2,2 -0.8,1.2 -2,2 -0.4,0.8 0,2.2 1.4,1.5 32.8,0 1.5,-1.5 0,-2 -1.5,-1.5 -25.2,0 -0.3,-0.2 0,-0.5 1.5,-1.5 0.8,-1.3 2,-2 13.7,-16.2 4.3,-7.3 0.7,-2 0.5,-0.5 1,-3 0.5,-0.5 0,-7.5 -0.7,-1 -0.3,-1.2 -0.5,-0.8 0,-0.5 -0.5,-0.5 -0.3,-1 -2.4,-3.2 -5.6,-3.5zM925.7,138.0l-5.2,2.2 -0.5,0 -1.7,1 -5,8.5 -0.6,4.5 -0.4,1 -0.3,3 -0.5,1.8 0,1.5 -0.5,1 0,10.2 0.5,1.3 0.2,3 0.3,0.2 0.3,2.8 0.4,1.2 0.6,4.3 4.7,8.2 2.3,1.5 0.7,0 0.5,0.5 1.5,0.3 2.7,1.2 6.8,0 7.2,-3 3,-5 0.8,-1.7 1.2,-1.8 0.6,-3.7 0.2,-0.3 0,-1.5 0.5,-1 0,-1.2 0.3,-0.3 0.4,-4.7 0.3,-0.3 0,-10.2 -0.3,-0.3 -0.7,-6.2 -0.5,-1 -0.5,-4.8 -4.7,-8.5 -2,-1.5 -0.8,0 -0.5,-0.5 -0.7,0 -0.6,-0.5 -3.2,-1.2zM927.7,143.0l2.6,0 4,1.7 0.4,0 1.6,1 3.7,6.8 0.3,3 0.2,0.2 0,1.3 0.5,1 0,1.5 0.3,0.2 0.2,3 0.5,1.8 0,6.2 -0.3,0.3 -0.7,6.2 -0.5,1 0,1.5 -0.2,0.3 -0.6,3.5 -3.7,6.5 -5.7,2.2 -2.6,0 -2.7,-1.2 -1.3,-0.3 -0.7,-0.5 -0.5,0 -1.2,-1.5 -3,-5.5 -0.6,-4.2 -0.4,-1 -0.3,-3 -0.5,-1.8 0,-1.5 -0.5,-1 0,-6.2 0.5,-1 0.2,-3 0.6,-1.8 0,-1.5 0.4,-1 0.6,-4.2 2.7,-5 1.3,-1.8zM879.4,138.0l-5.2,3.2 -2.8,3.3 -1.8,4 0,0.5 -0.4,0.5 0,5 0.4,0.7 1,0.8 2,0 1,-0.8 0.6,-0.7 0,-2.8 0.7,-1.2 0.5,-1.8 0.5,-0.5 0.3,-1.2 2,-2 3.4,-2 6.8,0 1.8,1.2 1.2,0.5 1.8,1.8 2.4,5.5 0,3 -0.4,1.5 -0.8,1 -0.2,1.2 -3.6,6 -1,2.3 -21.7,25.2 -1,1.5 0,2 1.5,1.5 33,0 1.5,-1.5 0,-2 -1.5,-1.5 -25.2,0 -0.6,-0.5 5.8,-7 2,-2 0.8,-1.2 2,-2 7,-8.3 5.7,-9.7 0.7,-2.5 0.6,-0.5 0,-0.5 0.4,-0.8 0,-7.5 -0.4,-0.7 0,-0.5 -0.6,-0.5 -1.2,-3.3 -3,-3.7 -5,-3zM793.4,138.0l-1.7,1.5 -1.3,1.7 -4.7,5.3 -4.3,2.5 -0.5,0.7 0,2 1.5,1.5 2.5,0 4.5,-2.7 1.8,-2 0.7,0.2 0,47 1.5,1.5 2,0 1.5,-1.5 0,-56.2 -1.5,-1.5zM698.4,138.0l-4,1.7 -0.5,0 -0.5,0.5 -0.7,0 -1.5,1 -1,1.3 -2,4 -2,3 -0.5,3.7 -0.3,0.3 0,1.5 -0.5,1 0,1.2 -0.2,0.3 -0.5,4.7 -0.3,0.3 0,15.5 0.8,2.7 0.2,2.5 0.5,0.8 0.5,3.7 0.8,1.3 4.2,5 1,0.7 6.5,2.5 4.5,0 0.3,-0.2 0.7,0 0.5,-0.5 0.8,0 0.5,-0.5 1.5,-0.3 0.5,-0.5 0.7,0 0.5,-0.5 0.5,0 0.8,-0.5 4.2,-4.7 1,-1.5 0.3,-1.5 0.5,-0.8 0.5,-2.7 1,-2.5 0,-5 -0.8,-1.8 -0.7,-3.5 -0.5,-0.7 0,-0.8 -0.5,-1.2 -3.5,-4.3 -2.5,-2.2 -1.5,-0.3 -0.5,-0.5 -0.5,0 -3.3,-1.5 -5.2,0 -4.5,2 -1.3,0.3 -1.2,0.7 -1.3,1.5 -0.5,-0.2 0,-1.8 0.5,-1.7 0,-1.5 0.5,-1 0.5,-4.5 2.8,-5.3 1.5,-2 5.5,-2.2 2.5,0 5,2 0.7,0.7 0,0.5 1,1.8 0.3,1.2 1.5,1.5 2.2,0 1.5,-1.5 0,-2 -0.5,-0.7 -0.2,-1.3 -0.8,-1 -0.2,-1.2 -0.8,-1.3 -1.5,-1.2 -6.2,-2.5zM700.2,163.7l1,0 0.7,0.5 4.3,1.5 2,1.8 2.5,3.2 1.2,5.3 0.8,1.5 -0.3,1.7 -0.5,0.8 -0.7,3.7 -0.5,0.8 -0.3,1.2 -3.7,4.3 -5.8,2.2 -3,-1.2 -1.5,-0.3 -0.5,-0.5 -0.7,0 -3.8,-4 -0.5,-0.7 -0.5,-3.5 -0.5,-1 0,-1 -0.7,-2.8 0.7,-3.5 0.5,-0.7 0.3,-1.8 0.7,-1.5 3.3,-3.7 1.2,-0.3 0.5,-0.5 0.8,0 0.5,-0.5 0.7,0 0.5,-0.5 0.8,0zM859.4,127.7l-2,0 -1.8,1.8 -0.2,1 -1.2,2 -0.6,1.7 -0.4,0.5 -0.8,2 -0.8,1 -0.7,2 -0.5,0.5 -0.5,1.8 -1.3,2 0,0.5 -1.7,3.2 0,0.5 -0.7,1 -0.6,1.5 -0.7,1 0,0.5 -1.7,3.3 0,0.5 -1.3,2 -0.5,1.7 -0.5,0.5 -0.7,2 -0.6,0.5 -0.2,1 -1.2,2 0,0.5 -3.6,7 0,0.5 -0.4,0.5 -0.8,2 -0.8,1 -0.7,2.3 -0.5,0.5 -0.5,1.5 -0.7,1 -0.8,2 -0.5,0.5 -0.7,2.2 -2.3,4 -0.7,2.3 -0.6,0.5 -0.2,1 -1,1.5 -0.8,2 -0.4,0.5 -0.8,2.2 -0.8,1 0,0.5 -1.7,3.3 0,0.4 -0.7,1 -0.5,1.6 -1.5,2.7 0,2 1.5,1.5 2.2,0 1.5,-1.5 0,-0.5 0.8,-1 1,-2.8 0.4,-0.4 0.3,-1 1,-1.6 0.3,-1 1.7,-3.2 0,-0.5 0.7,-1 0.8,-2 0.5,-0.5 0.7,-2.2 0.6,-0.5 0.4,-1.5 1.3,-2 0.3,-1.3 0.7,-1 2.3,-5 0.4,-0.5 0.3,-1.2 1,-1.5 0.3,-1 1.7,-3.3 0,-0.5 0.7,-1 0.8,-2 0.5,-0.5 1,-2.7 0.5,-0.5 0.2,-1 1.3,-2 0.5,-1.8 0.8,-1 2,-4.5 0.4,-0.5 0.6,-1.7 1,-1.5 0.2,-1 1.8,-3.3 0,-0.5 0.4,-0.5 0.3,-1 0.5,-0.5 0,-0.5 0.8,-1 0,-0.5 1.7,-3.2 0,-0.5 1.3,-2 0.4,-1.8 0.6,-0.5 0.7,-2 0.5,-0.5 0.2,-1 1.3,-2 0,-0.5 1,-2 0,-2zM766.9,127.7l-2,0 -2,2 -0.5,1.5 -0.7,1 0,0.5 -1,1.8 0,0.5 -0.5,0.5 -0.3,1 -1,1.5 -0.2,1 -1.8,3.2 0,0.5 -0.7,1 -0.8,2 -0.5,0.5 -0.7,2.3 -0.5,0.5 -0.5,1.5 -1.3,2 -0.2,1.2 -0.8,1 -0.5,1.5 -1,1.5 -0.7,2 -0.5,0.5 -0.3,1.3 -1,1.5 -0.2,1 -1.8,3.2 0,0.5 -0.7,1 -0.8,2 -0.5,0.5 -1,2.8 -0.5,0.5 -0.2,1 -1.3,2 -0.5,1.7 -0.7,1 -2,4.5 -0.5,0.5 -0.5,1.8 -0.5,0.5 0,0.5 -0.8,1 0,0.5 -1.7,3.2 0,0.5 -0.5,0.5 -0.3,1 -0.5,0.5 0,0.5 -0.7,1 0,0.5 -1.8,3.3 0,0.5 -1.2,2 -0.5,1.7 -0.5,0.5 -0.8,2 -0.5,0.5 -0.2,1 -1.3,2 -0.2,0.7 0,2.3 1.5,1.5 2,0 1,-0.8 1.2,-2 0.8,-2.2 0.7,-1 2,-4.5 0.5,-0.5 0.5,-1.7 0.5,-0.5 0,-0.5 0.8,-1 0,-0.5 1.7,-3.3 0,-0.5 0.8,-1 0,-0.5 1.2,-2 0,-0.5 1.8,-3.2 0,-0.5 1.2,-2 0.5,-1.8 0.5,-0.5 0.8,-2 0.5,-0.5 0.2,-1 1.3,-2 0,-0.5 1.7,-3.2 0,-0.5 1.8,-3.3 0,-0.5 0.5,-0.5 0.7,-2 0.8,-1 0.7,-2.2 0.5,-0.5 0.5,-1.5 0.8,-1 0.7,-2 0.5,-0.5 0.8,-2.3 2.2,-4 0.3,-1.2 0.5,-0.5 0,-0.5 0.5,-0.5 0.2,-1 1,-1.5 0.8,-2 0.5,-0.5 0.7,-2.3 0.8,-1 0,-0.5 1.7,-3.2 0,-0.5 1.3,-2 0,-0.5 1.7,-3.3 0,-0.5 0.5,-0.5 0,-2z"><title>6/1/2025</title></path>
<path fill="#000" d="M1090.6,170.5l0,2 1.5,1.5 34.5,0 1.5,-1.5 0,-2 -1.5,-1.5 -34.5,0z"><title>-</title></path>
<path fill="#000" d="M1548.5,138.0l-1.5,1.5 -0.5,7.7 -0.5,1.8 0,2.7 -0.2,0.3 0,2.5 -0.3,0.2 -0.3,5.8 -0.4,1.7 0,2.5 1.4,1.5 2,0 1.3,-0.7 1.7,-2 6,-2.5 4.8,0 0.5,0.5 0.7,0 0.6,0.5 0.7,0 0.5,0.5 0.8,0 0.4,0.5 0.8,0 0.5,0.5 0.5,0 3.5,4 0,0.5 0.5,0.7 0.5,2.8 0.7,1.5 0,0.7 0.6,1.3 0,3.2 -0.3,0.3 -0.3,1.7 -0.4,0.8 -0.8,3.7 -0.5,0.5 0,0.5 -2.3,2.8 -1.4,1.5 -5.8,2.2 -4.8,0 -0.2,-0.2 -0.8,0 -0.4,-0.5 -0.8,0 -0.5,-0.5 -1.5,-0.3 -0.5,-0.5 -0.7,0 -2.3,-2.2 0,-0.5 -0.5,-0.8 0,-0.5 -0.5,-0.5 -0.7,-2.2 -1.6,-1.5 -2,0 -1,0.7 -0.4,0.8 0,2.5 2,4.5 2.7,3.5 1,0.7 6.5,2.5 9,0 2.8,-1.2 1.4,-0.3 0.6,-0.5 0.7,0 0.5,-0.5 0.5,0 0.7,-0.5 4.3,-4.7 1,-1.5 0,-0.5 0.5,-0.8 0.8,-3.7 0.4,-0.8 0.6,-1.7 0,-7.5 -0.3,-0.3 -0.3,-1.7 -0.4,-0.8 -0.6,-2.7 -0.7,-1.5 0,-0.8 -4.7,-5.7 -1,-0.8 -6,-2.2 -0.8,-0.5 -9,0 -0.5,0.5 -0.7,0 -0.6,0.5 -0.7,0 -0.5,0.5 -1.2,0 -0.3,-0.3 0.3,-0.5 0.2,-5.5 0.5,-1.7 0.3,-5.5 0.7,-1 20.3,0 1.4,-1.5 0,-2 -1.4,-1.5zM1510.8,138.0l-5.3,3.2 -2.7,3.3 -1.8,4 0,0.5 -0.5,0.5 0,5 0.5,0.7 1,0.8 2,0 1,-0.8 0.5,-0.7 0,-2.8 2,-4.5 1.7,-2 2.3,-1.5 0.5,0 1,-0.7 6.8,0 3,1.7 2.2,2.3 0.8,2.2 0.4,0.5 0.8,2 0,3.8 -1.5,3 -0.3,1.2 -2,3 -0.7,1.8 -2,3.2 -21.3,24.5 -1,1.5 0,2 1.6,1.5 33,0 1.4,-1.5 0,-2 -1.4,-1.5 -25.3,0 -0.5,-0.5 18,-21 5,-8.5 0.8,-2.2 0.4,-0.5 0.8,-2 0,-8 -0.5,-0.8 -0.3,-1.2 -0.7,-1 -0.5,-1.8 -1.5,-2 -2,-2 -4.7,-2.7zM1468.5,138.0l-5.3,2.2 -0.4,0 -1.3,0.8 -1.7,2.2 -0.8,1.8 -3,4.7 -0.5,4.5 -0.3,0.3 0,1.2 -0.4,1 0,1.5 -0.3,0.3 -0.3,3 -0.2,0.2 0,12 0.5,1.8 0.3,3 0.4,1 0,1.5 0.3,0.2 0.5,4.3 5,8.5 1,0.7 6.5,2.5 6.7,0 2.8,-1.2 1.5,-0.3 0.5,-0.5 0.8,0 0.4,-0.5 0.6,0 0.7,-0.5 1,-1.2 4.3,-7.5 0,-1 0.7,-2.8 0.3,-3 0.2,-0.2 0,-1.3 0.5,-1.2 0.3,-3 0.2,-0.3 0,-10.2 -0.2,-0.3 -0.3,-3 -0.5,-1 0,-1.5 -0.5,-1.7 -0.3,-3 -0.4,-1 0,-1.3 -0.6,-0.5 -0.7,-1.7 -3.5,-6 -2,-1.3 -0.5,0 -5.3,-2.2zM1470.8,143.0l2.4,0 4,1.7 0.6,0 1.4,1 3.6,6.3 0,1 0.4,1 0.3,3 0.3,0.2 0.2,3 0.5,1 0,1.5 0.5,1.8 0,6.2 -0.5,1.8 0,1.5 -0.5,1 0,1.5 -0.2,0.2 -0.3,3 -0.3,0.3 0,1.2 -0.4,1 0,1 -3.3,6 -1,1 -2.5,0.8 -2.8,1.2 -3.4,-0.2 -0.6,-0.5 -0.7,0 -0.5,-0.5 -1.5,-0.3 -0.7,-0.5 -0.6,0 -0.4,-0.5 -3.8,-6.5 -0.8,-5.7 -0.4,-1 0,-1.5 -0.3,-0.3 -0.3,-3 -0.2,-0.2 0,-7.8 0.5,-1.7 0.3,-3 0.4,-1.3 0.8,-5.7 0.5,-0.5 2.7,-5.3 1,-1zM1422.0,138.0l-5.2,3.2 -2.8,3.3 -0.8,2.2 -0.4,0.5 0,0.5 -1,2 0,4.8 0.4,0.7 1,0.8 2,0 1,-0.8 0.6,-0.7 0,-2.5 2,-4.8 1.7,-2 2.3,-1.5 0.4,0 1,-0.7 6.8,0 3,1.7 2.2,2.3 0.8,2.2 0.5,0.5 0.7,2 0,3.8 -1.4,3 -0.3,1.2 -2,3 -0.7,1.8 -2,3.2 -6,6.8 -2.8,3.5 -2,2 -4.2,5.2 -2,2 -0.8,1.3 -3.5,3.7 -1,1.5 0,2 1.5,1.5 33,0 1.5,-1.5 0,-2 -1.5,-1.5 -25.2,0 -0.6,-0.5 18,-21 5,-8.5 0.8,-2.2 0.5,-0.5 0.7,-2 0,-8 -0.4,-0.8 -0.3,-1.2 -0.7,-1 -0.6,-1.8 -1.4,-2 -2,-2 -1.6,-1 -0.4,0 -2.6,-1.7zM1331.0,138.0l-5.2,2.2 -0.6,0 -1.7,1 -5,8.5 -0.3,2.8 -0.4,1 0,1.5 -0.6,1.7 -0.2,3 -0.5,1 0,1.5 -0.3,0.3 0,10.2 0.3,0.3 0,1.5 0.5,1 0,1.5 0.2,0.2 0,1.3 0.6,1.7 0,1.5 0.4,1 0.3,2.8 4.7,8.2 2.3,1.5 0.7,0 0.6,0.5 1.4,0.3 2.8,1.2 6.8,0 2.7,-1.2 1.5,-0.3 0.5,-0.5 0.7,0 0.6,-0.5 0.4,0 0.8,-0.5 1,-1.2 0.8,-1.8 1.7,-2.5 1.7,-3.2 0.6,-4.3 0.4,-1.2 0,-1.3 0.6,-1.7 0.2,-3 0.5,-1.3 0,-10.2 -0.5,-1 0,-1.5 -0.5,-1.8 -0.3,-3 -0.4,-1 -0.6,-4.5 -2.2,-3.5 -2.5,-4.7 -2,-1.3 -0.5,0 -5.2,-2.2zM1333.0,143.0l3.5,0.2 0.5,0.5 0.8,0 0.4,0.5 0.8,0 0.5,0.5 0.7,0 1.6,1 3.4,6.3 0.6,4.2 0.4,1 0,1.5 0.6,1.8 0.2,3 0.5,1 0,6.2 -0.5,1 0,1.5 -0.5,1.8 -0.3,3 -0.4,1 -0.6,4.2 -3,5.5 -1.2,1.5 -2,0.8 -0.8,0 -0.4,0.5 -0.8,0 -0.5,0.5 -0.7,0 -0.3,0.2 -2.5,0 -2,-0.7 -0.5,-0.5 -1.5,-0.3 -0.8,-0.5 -0.4,0 -1.3,-1.5 -3,-5.5 -0.3,-2.5 -0.4,-1 -0.8,-6.2 -0.8,-2.8 0,-6.2 0.3,-0.3 0,-1.2 0.5,-1 0,-1.5 0.2,-0.3 0.3,-3 0.7,-2.7 0.3,-2.5 2.7,-5 1.3,-1.8 0.5,0 0.5,-0.5 0.7,0 0.6,-0.5 0.7,0 0.5,-0.5zM1278.0,138.0l-1.5,1.5 0,2 1.5,1.5 19.8,0 0.2,0.2 0,0.5 -10.2,16 -0.3,0.5 0,2 1.5,1.5 7,0 1.2,1 2,1 1.8,2 0,0.8 0.8,1.7 0.7,3.5 0.5,0.8 0,4.2 -0.5,0.8 0,0.7 -1.5,5.3 -2,2.5 -2.2,2.2 -0.8,0 -0.5,0.5 -1.5,0.3 -2.8,1.2 -4.7,0 -2.7,-1.2 -1.6,-0.3 -0.4,-0.5 -0.8,0 -2,-2 -2,-4.7 -1.5,-1.5 -2,0 -1,0.7 -0.5,0.8 0,2.5 0.5,0.5 0.5,1.7 1.5,3 2.7,3 1.8,1 2,0.8 0.8,0 0.4,0.5 0.8,0 0.5,0.5 0.7,0 0.3,0.2 8.7,0 0.3,-0.2 0.7,0 0.6,-0.5 0.7,0 0.5,-0.5 0.8,0 3,-1.3 2.7,-2.5 3.5,-4.5 1.2,-5.2 0.8,-1.5 0,-8.5 -0.5,-0.8 -0.7,-3.7 -0.6,-0.8 -0.4,-2 -3,-3.7 -1.3,-0.8 -0.5,0 -3,-2 -2.2,0 -0.6,-0.5 3.3,-5.5 7.3,-11 0,-2.2 -1.6,-1.5zM1195.8,138.0l-0.3,0.2 -0.7,0 -0.6,0.5 -0.7,0 -0.5,0.5 -0.8,0 -0.4,0.5 -0.8,0 -0.5,0.5 -0.7,0 -1.6,1 -1.2,1.8 -2.8,5.2 -1,1.3 -0.4,3.7 -0.3,0.3 0,1.5 -0.5,1 0,1.2 -0.2,0.3 -0.6,4.7 -0.2,0.3 0,15.5 0.8,2.7 0.2,2.5 0.5,0.8 0.5,3.7 0.8,1.3 2,2 1.2,1.7 2.2,2 2.3,1 1.5,0.3 0.5,0.5 0.7,0 0.6,0.5 0.7,0 0.3,0.2 4.4,0 7.3,-3 5,-6 0.5,-1 0.8,-3.7 0.4,-0.8 0.6,-1.7 0,-6 -0.3,-0.3 -0.3,-1.7 -0.7,-1.5 -0.5,-2.8 -0.5,-1 -4,-5 -2,-1.7 -1.5,-0.3 -4.5,-2 -5.3,0 -4.4,2 -1.3,0.3 -2.7,2.5 -0.3,-0.3 0,-2 0.5,-1.7 0,-1.5 0.5,-1 0.5,-4.5 2.5,-4.8 1.7,-2.5 5.6,-2.2 2.4,0 5,2 1.3,1.5 1,2.7 1.5,1.5 2,0 1.5,-1.5 0,-2.2 -2,-4.8 -1,-1.2 -1.3,-0.8 -0.4,0 -5.3,-2.2zM1197.2,163.7l1.3,0 0.7,0.5 4.3,1.5 1.5,1.3 3,3.7 0.8,3.8 0.4,0.7 0,0.8 0.6,1.2 0,1.5 -0.3,0.3 -0.3,1.7 -0.4,0.8 -0.6,2.7 -0.7,1.8 -3.5,4 -2.5,1 -0.7,0 -0.6,0.5 -0.7,0 -0.5,0.5 -0.8,0 -0.2,0.2 -6,-2.2 -4,-4.5 -0.5,-3.5 -0.5,-1 0,-1 -0.8,-2.8 0.8,-3.5 0.5,-0.7 0.3,-1.8 0.7,-1.5 3.3,-3.7 1.2,-0.3 0.5,-0.5 0.7,0 0.6,-0.5 0.7,0 0.5,-0.5 0.8,0zM1402.0,127.7l-2,0 -1.2,1 -1,1.5 -0.3,1 -1.7,3.3 0,0.5 -0.8,1 -0.8,2 -0.4,0.5 -0.8,2.2 -0.5,0.5 -0.5,1.5 -0.8,1 -0.7,2 -0.5,0.5 -0.8,2.3 -0.4,0.5 -0.6,1.5 -0.7,1 -0.7,2 -0.6,0.5 -0.7,2.2 -0.5,0.5 -0.5,1.5 -0.7,1 -0.8,2 -0.5,0.5 -0.7,2.3 -0.6,0.5 -0.4,1.5 -1.3,2 -0.3,1.2 -0.7,1 -0.5,1.5 -2.2,4 -0.3,1.3 -0.5,0.5 -0.8,2 -2.2,4 -0.2,1.2 -0.6,0.5 -0.7,2 -2.3,4 0,0.5 -1.4,2.8 0,0.5 -2.3,4 0,0.5 -1.5,2.7 0,0.5 -0.8,1 -1,2.5 -0.4,0.5 -0.8,2.3 -0.5,0.4 -1,2.3 0,2 1.5,1.5 2.2,0 1.6,-1.5 0.7,-2.3 1.7,-3 0.8,-2.2 2.2,-4 0,-0.5 1.6,-2.7 0.2,-1 1,-1.5 0.2,-1 0.8,-1 0.8,-2 0.4,-0.5 0.3,-1.3 0.7,-1 2.3,-5 0.5,-0.5 0.2,-1.2 0.8,-1 0.5,-1.5 2.3,-4 0.2,-1.3 0.8,-1 2.2,-5 0.5,-0.5 0.3,-1.2 0.4,-0.5 0,-0.5 0.6,-0.5 0.2,-1 1,-1.5 0.8,-2 0.4,-0.5 0.3,-1.3 0.5,-0.5 0,-0.5 0.5,-0.5 0.3,-1 1,-1.5 0.7,-2 0.5,-0.5 0.2,-1.2 0.6,-0.5 0,-0.5 0.4,-0.5 0.3,-1 1,-1.5 0.7,-2 0.6,-0.5 0.7,-2.3 0.5,-0.5 0.2,-1 1,-1.5 0.8,-2 0.5,-0.5 0.7,-2.2 0.8,-1 0,-0.5 1.5,-2.8 0,-2zM1264.2,127.7l-2,0 -1.4,1.5 -0.8,2 -0.5,0.5 -0.3,1 -1.2,2 -0.5,1.8 -0.7,1 -2,4.5 -0.6,0.5 -0.4,1.7 -0.6,0.5 -0.7,2 -0.7,1 -0.8,2 -0.5,0.5 -0.5,1.8 -0.5,0.5 -0.7,2 -0.8,1 -0.8,2 -0.4,0.5 -0.6,1.7 -0.4,0.5 -0.8,2 -0.8,1 -0.7,2 -0.5,0.5 0,0.5 -1.8,3.3 0,0.5 -1.7,3.2 0,0.5 -0.5,0.5 -0.8,2 -0.7,1 0,0.5 -1.7,3.3 0,0.5 -0.6,0.5 -0.7,2 -0.5,0.5 -0.2,1 -1.3,2 -0.5,1.7 -0.5,0.5 -0.7,2 -0.6,0.5 -0.2,1 -1.2,2 -0.6,1.8 -0.4,0.5 -0.8,2 -0.5,0.5 -0.3,1 -1.2,2 -0.5,1.7 -0.5,0.5 -0.8,2 -0.7,1 -0.7,2 -0.6,0.5 -0.2,0.7 0,2.3 1.5,1.5 2,0 1,-0.8 1.3,-2 0.2,-1 1.8,-3.2 0,-0.5 0.7,-1 0.7,-2 0.6,-0.5 0.4,-1.7 0.6,-0.5 0.7,-2 0.7,-1 0.8,-2 0.5,-0.5 0.5,-1.8 0.5,-0.5 0.7,-2 0.8,-1 0.8,-2 0.4,-0.5 0,-0.5 1.8,-3.2 0,-0.5 0.8,-1 0.7,-2 0.5,-0.5 0,-0.5 1.8,-3.3 0.2,-1 0.5,-0.5 0.7,-2 0.6,-0.5 1,-2.7 0.4,-0.5 0.3,-1 1.3,-2 0.4,-1.8 0.6,-0.5 0.7,-2 0.5,-0.5 0.2,-1 1.3,-2 0.5,-1.7 0.5,-0.5 0.7,-2 0.6,-0.5 0.2,-1 1.2,-2 0.6,-1.8 0.4,-0.5 0.8,-2 0.5,-0.5 0.3,-1 1.2,-2 0.5,-1.7 0.5,-0.5 0.8,-2 0.4,-0.5 0.3,-1 1.3,-2 0,-0.5 2,-4 0,-2.3z"><title>6/30/2025</title></path>
<path fill="#2a2a2a" d="M166.3,1738.5l-2.7,1.7 -2.8,3.2 -1.3,4.7 0,3.7 1.3,4.7 2.9,3.3 2.6,1.5 4.3,0 2.1,-1.1 1.1,-1 2.2,-2.7 0,-0.8 -0.5,-0.4 -0.9,0.2 -2.4,2.9 -2.4,1.4 -2.7,0 -2.3,-1.3 -2.5,-2.8 -1.3,-4.6 0,-1.4 0.5,-0.5 14,0 0.6,-0.7 0,-3.3 -1.4,-3.4 -1.9,-2 -2.2,-1.3zM161.6,1746.5l0.7,-2.3 1.9,-2.3 0.9,-0.7 2.1,-1.1 2.5,0 2.1,1.1 1.5,1.6 1.3,3.1 0,1.3 -0.5,0.5 -12.1,0 -0.4,-0.4zM127.1,1738.6l-2.7,1.6 -2.4,3 -1.4,4.5 0,4.3 1.1,4 0.4,0.7 2.6,3 2.6,1.5 4.4,0 2.3,-1.2 1.1,-1 0.5,0.3 0.1,1.5 0.8,0.4 0.6,-0.6 0,-21.5 -0.6,-0.7 -0.5,0.2 -0.4,0.5 0,1.3 -0.5,0.4 -0.9,-0.8 -2.6,-1.6zM128.2,1740.0l2.6,0 1.9,1 1,0.8 1.9,2.5 0,11 -0.4,0.8 -2.2,2.5 -2.2,1.1 -2.6,0 -2.5,-1.4 -2.3,-2.6 -1.3,-4.5 0,-2.8 1.3,-4.4 2.6,-2.8zM116.4,1738.5l-4.4,0.2 -2.4,1.5 -2.3,2.3 -0.3,-0.3 -0.2,-3.3 -0.7,-0.4 -0.7,0.7 0,21.5 0.7,0.6 0.5,-0.1 0.4,-0.5 0,-11.9 1.2,-4.4 1.6,-2.1 0.9,-0.9 2.4,-1.3 3.6,-0.2 0.4,-0.7zM88.4,1738.5l-2.7,1.7 -2.6,3 -1.5,4.7 0,4 1.3,4.6 2.7,3.2 2.8,1.6 4.3,0 2.2,-1.2 1,-0.9 2.3,-3 -0.1,-0.5 -0.5,-0.4 -0.9,0.2 -2.8,3.2 -2,1.1 -3.1,-0.1 -2.2,-1.4 -2,-2.4 -1.5,-4.7 0,-1.5 0.5,-0.5 14,0 0.6,-0.7 0,-3.3 -1.5,-3.5 -1.6,-1.8 -2.5,-1.4zM83.6,1746.7l1.1,-3 2.1,-2.4 2.4,-1.3 2.6,0 2.3,1.2 1.2,1.4 1.4,3.2 0,1.3 -0.5,0.5 -12.1,0 -0.5,-0.4zM59.3,1738.6l-0.3,0.5 0.1,21.7 0.7,0.4 0.6,-0.6 0,-14.6 1,-1.6 2.8,-3.1 2.5,-1.3 2.5,0 1.9,1 0.5,0.4 1.2,4.3 0,14.9 0.6,0.6 0.5,-0.1 0.4,-0.5 0,-15.6 -1.4,-4.7 -0.8,-0.7 -2.2,-1.2 -4.1,0 -2.7,1.7 -2.3,2.3 -0.4,-0.3 0,-3 -0.6,-0.7zM42.0,1738.5l-2.8,1.7 -2.6,3 -1.5,4.7 0,4 1.3,4.6 2.7,3.2 2.9,1.6 4.2,0 2.2,-1.2 1,-0.9 2.3,-3 -0.1,-0.5 -0.5,-0.4 -0.9,0.2 -2.8,3.2 -2,1.1 -2.7,0 -2.3,-1.3 -2.3,-2.6 -1.5,-4.7 0,-1.5 0.5,-0.5 14,0 0.6,-0.7 0,-3.3 -1.5,-3.5 -1.6,-1.8 -2.5,-1.4zM37.1,1747.0l1.1,-3.3 2.1,-2.4 2.5,-1.3 2.5,0 2.3,1.2 1.2,1.4 1.4,3.2 0,1.3 -0.5,0.5 -12.1,0zM198.1,1728.0l-0.5,0.1 -0.4,0.5 -0.1,12.1 -0.4,0.1 -0.7,-0.7 -2.8,-1.7 -4.2,0 -2.8,1.7 -2.7,3.2 -1.4,4.7 0,3.7 1.2,4.5 3,3.5 2.7,1.5 4.2,0 2.6,-1.5 0.9,-0.9 0.5,0.4 0,1.4 0.4,0.5 0.5,0.1 0.6,-0.6 0,-32zM189.8,1740.0l2.5,0 2.2,1.1 2.3,2.6 0.4,0.7 0,10.9 -2.4,3 -2.3,1.4 -2.8,0 -2.2,-1.3 -2.5,-2.8 -1.4,-4.6 0,-2.2 1.4,-4.7 2.3,-2.8zM147.6,1728.0l-0.6,0.6 0,9.4 -0.5,0.4 -2.7,0 -0.5,0.4 -0.1,0.5 0.6,0.7 2.7,0 0.5,0.4 0,14.7 1.1,3.9 0.5,0.7 2.6,1.5 2.9,0 0.6,-0.6 -0.4,-0.8 -2.6,-0.2 -1.5,-0.9 -0.6,-0.6 -1.1,-3.9 0,-13.8 0.5,-0.4 3.8,0 0.5,-0.4 0.2,-0.5 -0.7,-0.7 -3.8,0 -0.5,-0.4 0,-9.4 -0.4,-0.5zM16.7,1728.0l-2.5,1.3 -2.9,3.3 -1.3,3.2 -1.3,4.5 0,8.5 1.1,4.2 1.2,2.8 3.1,3.9 2.7,1.5 5.5,0 2.7,-1.5 2.7,-3.3 1.4,-3.2 -0.1,-5.2 -0.6,-0.4 -6.7,0.1 -0.4,0.7 0.7,0.7 5.1,0 0.5,0.5 0,2.8 -1.5,3.4 -2.9,3 -1.6,0.9 -4.4,-0.1 -2.2,-1.4 -2.6,-3.1 -1,-2.5 -1.2,-4.5 0,-7 1.2,-4.5 1.4,-3.2 2.4,-2.7 2.2,-1.3 4.2,0 2.2,1.3 2.4,2.7 1.5,3.3 0.5,0.3 0.5,-0.2 0.4,-0.8 -1.7,-3.7 -1.7,-2.1 -1.6,-1.4 -1.7,-0.8z"><title>Generated</title></path>
<path fill="#2a2a2a" d="M410.1,1728.0l-0.7,0.4 -0.2,1.2 -0.1,3.2 -0.9,7.9 0.1,2 0.8,0.4 0.4,-0.3 1.4,-1.5 3.5,-1.3 2.8,0 3.3,1.3 1,0.9 1.7,2.1 1.2,4.4 0,2.4 -1.1,4 -2,2.7 -1.1,0.8 -3,1.1 -2.8,0 -3.7,-1.5 -1,-1.1 -1.3,-2.9 -0.6,-0.5 -0.7,0.4 -0.2,0.9 1.2,2.7 1.7,2 3.7,1.5 4.4,0 3.9,-1.5 2.7,-3.3 1.4,-4.6 0,-4 -1.5,-4.7 -1.7,-2.1 -1.3,-1.2 -3.5,-1.4 -4.4,0 -3.1,1.3 -0.3,-0.3 -0.2,-0.4 0.6,-5.3 0.2,-3.4 0.2,-0.6 0.4,-0.3 11.5,0 0.5,-0.3 0.1,-0.5 -0.6,-0.6zM388.3,1728.1l-2.3,1.3 -1.6,2 -1.1,2.9 0,2 0.3,0.5 0.6,0.2 0.4,-0.4 0.2,-1.5 0.8,-2.3 0.7,-1.1 1.1,-1.1 2.1,-1.2 4,0 2.3,1.3 1.1,1.3 1.4,3.2 0,2.1 -1.7,3.8 -2.3,4.1 -11.9,14.2 -0.4,1.2 0.6,0.6 17.8,0 0.6,-0.6 -0.1,-0.5 -0.5,-0.4 -15,0 -0.4,-0.3 0.2,-0.6 10.8,-13.1 2.9,-5.4 0.9,-2.2 -0.2,-4 -1.2,-2.9 -1.8,-2 -2.2,-1.2zM364.6,1728.0l-3.7,1.6 -2.6,4.6 -1.3,7 0,6.6 1.2,6.6 2.4,4.8 1.3,0.9 3,1.1 3.1,0 4,-1.6 2.6,-4.6 1.4,-7.7 0,-5.6 -0.5,-2 -0.7,-5.3 -2.6,-4.7 -1,-0.6 -2.9,-1.1zM365.5,1729.5l2,0 3.4,1.6 2.4,4.2 1.2,7.4 0,4 -1.3,7.6 -2,3.6 -0.6,0.5 -3.3,1.4 -1.7,0 -2.6,-1 -1.1,-0.7 -2.3,-4.3 -1.1,-6.6 0,-5 1.4,-7.4 1.9,-3.4 0.6,-0.6zM338.3,1728.1l-2.3,1.3 -1.5,1.8 -1.3,3.2 0,1.9 0.3,0.5 0.5,0.2 0.5,-0.4 0.1,-1.4 1.2,-2.8 1.2,-1.6 2.4,-1.4 4.1,0 2.3,1.3 1,1.1 1.4,3.3 0,2.3 -1,2.7 -2.9,5.1 -11.9,14.2 -0.5,1.2 0.6,0.6 17.8,0 0.6,-0.6 -0.1,-0.5 -0.5,-0.4 -15,0 -0.4,-0.3 0.4,-0.8 10.6,-12.8 2.4,-4.2 1.3,-3.3 -0.1,-4.5 -1,-2.4 -1.7,-2.1 -2.4,-1.3zM285.8,1728.1l-2.2,1.2 -1.7,2 -1.3,3.1 0,1.9 0.4,0.5 0.5,0.2 0.5,-0.4 0.2,-1.4 1.3,-3.2 1.1,-1.3 2.3,-1.3 4.1,0 2.3,1.3 1.1,1.4 1.2,3 0,2.3 -1.2,3.2 -2.8,4.7 -12,14.4 -0.2,0.9 0.6,0.6 17.8,0 0.6,-0.6 -0.1,-0.5 -0.5,-0.4 -15,0 -0.4,-0.3 0.1,-0.4 10.9,-13.2 2.5,-4.5 1.3,-3 0,-4 -1.2,-2.9 -1.7,-2.1 -2.5,-1.3zM245.3,1728.0l-17.8,0 -0.6,0.6 0.1,0.5 0.5,0.3 15.8,0 0.3,0.4 -0.1,0.9 -11.3,28.6 -0.3,1.3 0.6,0.6 0.5,-0.1 0.6,-0.8 12,-30.5 0.3,-1.2zM326.5,1721.8l-0.9,0.5 -22.2,47.8 -0.2,1.1 0.6,0.6 0.7,-0.2 0.5,-0.8 22.2,-47.7 0,-0.7zM274.0,1721.8l-0.5,0.2 -0.7,1 -21.6,46.4 -0.6,1.8 0.7,0.6 0.9,-0.4 21.4,-46.1 1,-2.2 0,-0.7z"><title>7/2/2025</title></path>
<path fill="#2a2a2a" d="M550.1,1738.5l-0.5,0.2 -0.4,0.5 0,1.3 -0.2,0.4 -1.9,-1.4 -1.9,-1 -4.6,0.2 -2.2,1.4 -2.5,2.7 -0.7,1 -1.1,4 0.1,4.7 1.4,4.3 2.6,3 2.8,1.5 4.2,0 2.2,-1.1 1.2,-1.1 0.4,0 0.2,0.3 0,4 -1.1,4.1 -1.2,1.6 -2.4,1.3 -2.7,0 -2.8,-1.5 -0.5,0 -0.5,0.4 -0.1,0.5 0.6,0.7 2.5,1.4 4.2,0 0.9,-0.4 1.8,-1.1 1.3,-1.5 1,-2.7 0.6,-2 0,-25zM541.9,1740.0l2.5,0 1.7,0.8 1.3,1 1.8,2.5 0,11 -0.3,0.8 -2.1,2.3 -2.3,1.3 -2.7,0 -2.7,-1.5 -2.1,-2.5 -1.4,-4.5 0,-2.8 1.4,-4.4 2.4,-2.7zM511.6,1738.6l-0.4,0.5 0.2,21.7 0.7,0.4 0.7,-0.6 0,-14.6 1.6,-2.3 2.4,-2.5 2.2,-1.2 2.6,0 2.4,1.4 1.2,4.3 0,14.9 0.7,0.6 0.5,-0.1 0.4,-0.5 0,-15.6 -1.4,-4.7 -0.9,-0.7 -2.1,-1.2 -4.2,0 -2.8,1.7 -2.3,2.3 -0.3,-0.3 0,-3 -0.7,-0.7zM501.8,1738.5l-0.7,0.7 0,21.5 0.4,0.5 0.5,0.1 0.6,-0.6 0,-21.5 -0.4,-0.5zM483.9,1738.5l-3,1.2 -1.3,0.8 -1.2,2.9 0.1,1.5 0.7,1.8 0.8,1 2.8,1.6 5.6,1.2 2.1,1.2 0.6,0.6 1.1,2.8 -0.1,1 -0.9,2 -0.3,0.3 -3.4,1.4 -2.9,0 -3.2,-1.3 -0.6,-0.6 -0.9,-2.1 -0.7,-0.5 -0.7,0.4 -0.1,0.8 1.1,2.8 0.7,0.6 3.6,1.4 4.4,0 3.7,-1.4 0.6,-0.5 1.3,-3.1 0,-2 -0.9,-2.4 -0.7,-1.1 -2.6,-1.6 -6.1,-1.4 -1.4,-0.7 -1.2,-1 -0.8,-1.8 0,-0.8 0.8,-1.7 1.1,-0.7 2.6,-1 2.9,0 3.1,1.2 0.6,0.6 1.2,2.5 0.5,0.3 0.5,-0.2 0.4,-0.8 -1.3,-3.2 -0.7,-0.6 -3.6,-1.4zM455.9,1738.6l-0.4,0.5 0,15.7 1.3,4.4 0.7,0.8 2.4,1.2 4.2,0 2.5,-1.4 1.8,-2 0.8,-0.6 0.3,0.4 0,3 0.6,0.6 0.5,-0.1 0.4,-0.5 -0.1,-21.8 -0.8,-0.4 -0.6,0.7 -0.1,15 -3,3.6 -1.2,1 -1.8,1 -2.8,0 -1.8,-1 -0.6,-0.5 -1.2,-4.1 0,-15 -0.6,-0.7zM501.8,1726.3l-0.6,0.3 -0.8,1 -0.5,1.2 1.1,1.6 1,0.6 0.5,-0.3 1,-1.1 0.4,-1.2 -1.1,-1.6z"><title>using</title></path>
<path fill="#2a2a2a" d="M759.4,1738.6l-2.3,1.4 -2.5,2.7 -0.8,1.4 -1,3.5 0,4.5 1.2,3.9 0.4,0.7 2.6,3 2.4,1.4 4.7,0.1 2.6,-1.5 0.7,-0.7 0.4,-0.2 0.3,0.4 0,1.4 0.4,0.5 0.5,0.1 0.6,-0.6 0,-21.5 -0.6,-0.7 -0.5,0.2 -0.4,0.5 0,1.5 -0.4,0.4 -1.2,-1.2 -2.5,-1.4zM760.6,1740.0l2.6,0 2.3,1.2 2.2,2.5 0.4,0.7 0,10.9 -1.3,1.8 -1.4,1.5 -2.2,1.1 -2.7,0 -2.7,-1.5 -2.1,-2.5 -1.3,-4.4 0,-3 1.3,-4.3 2.4,-2.7zM730.2,1738.6l-0.4,0.5 0.2,21.7 0.7,0.4 0.7,-0.6 0.1,-15 3.6,-4.3 2.5,-1.3 2.6,0 1.9,1 0.6,0.6 1.1,3.8 0,15.2 0.7,0.6 0.5,-0.1 0.4,-0.5 0,-15.9 -1.2,-4 -0.8,-1 -2.4,-1.3 -4.2,0 -2.8,1.7 -2.3,2.3 -0.3,-0.3 0,-3 -0.7,-0.7zM711.4,1738.5l-2.9,1.7 -2.9,3.3 -1.2,4.4 0,4 1.3,4.6 2.9,3.3 2.6,1.5 4.4,0 2.6,-1.5 2.9,-3.4 1.4,-4.6 0,-3.7 -1.5,-4.8 -2.6,-3.1 -2.9,-1.7zM712.1,1740.0l2.6,0 2.1,1.1 2.7,2.9 1.5,4.8 0,2.2 -1.3,4.3 -2.5,3 -2.4,1.4 -2.8,0 -2.3,-1.3 -2.6,-3 -1.3,-4.3 0,-2.4 1.3,-4.5 2.5,-2.9zM696.1,1738.5l-0.6,0.7 0,21.5 0.3,0.5 0.6,0.1 0.6,-0.6 0,-21.5 -0.4,-0.5zM678.0,1738.5l-3.3,1.3 -1,0.7 -1.2,3.2 0.1,1.1 0.8,1.7 0.7,1.2 2.5,1.5 6,1.3 2.1,1.2 0.7,0.6 1.1,2.8 -0.1,1 -0.9,2 -0.4,0.3 -3.4,1.4 -3,0 -3,-1.1 -0.7,-0.6 -1.2,-2.6 -0.4,-0.2 -0.8,0.4 -0.1,0.6 1.2,3.1 0.7,0.5 3.6,1.4 4.5,0 3.6,-1.4 0.6,-0.5 1.3,-3.1 0,-2 -0.9,-2.4 -0.6,-1.1 -2.7,-1.6 -6.1,-1.4 -1.6,-0.9 -1.1,-1 -0.6,-1.4 -0.2,-0.8 0.8,-1.8 0.6,-0.6 3.2,-1.2 2.8,0 3.2,1.2 0.7,0.6 0.9,2.2 0.7,0.6 0.7,-0.4 0.2,-0.6 -1.3,-3.2 -0.7,-0.6 -3.5,-1.4zM664.1,1738.5l-0.6,0.7 0,21.5 0.3,0.5 0.6,0.1 0.6,-0.6 0,-21.5 -0.4,-0.5zM641.2,1738.5l-0.6,0.7 0.1,1.1 7.5,20.5 0.9,0.5 0.6,-0.5 0.7,-1.4 6.8,-19.1 0.2,-1.1 -0.4,-0.5 -0.5,-0.2 -0.9,1 -6.2,17.6 -0.6,0.2 -2.1,-5.2 -4.3,-12.6 -0.7,-0.8zM624.6,1738.5l-3,1.8 -2.6,3.1 -1.4,4.7 0,3.7 1.4,4.7 2.8,3.3 2.7,1.5 4.3,0 2.8,-1.5 2.8,-3.3 1.3,-4.6 0,-4 -1.3,-4.5 -2.9,-3.3 -2.7,-1.6zM625.4,1740.0l2.6,0 2.5,1.3 2.3,2.8 1.4,4.6 0,2.4 -1.4,4.5 -2.4,2.8 -2.3,1.3 -2.7,0 -2.6,-1.4 -2.3,-2.7 -1.4,-4.6 0,-2.2 1.4,-4.7 2.1,-2.5zM613.4,1738.5l-4.4,0.2 -2.5,1.5 -2.1,2.2 -0.6,-0.3 -0.1,-3.2 -0.7,-0.4 -0.6,0.7 0,21.5 0.6,0.6 0.5,-0.1 0.3,-0.5 0,-12.2 1.2,-4 2.6,-3.1 2.5,-1.3 3.5,-0.2 0.4,-0.7zM588.0,1738.5l-4.2,0 -1.7,0.9 -2.1,1.7 -0.4,-0.4 -0.1,-1.8 -0.8,-0.4 -0.6,0.7 0,32.1 0.6,0.6 0.5,-0.1 0.4,-0.5 0.1,-12.2 0.4,-0.2 1.1,1 2.5,1.4 4.4,0 2.6,-1.5 2.7,-3 1.4,-4.6 0,-4.5 -1.1,-3.9 -1.9,-2.5 -1.3,-1.4zM584.6,1740.0l2.6,0 2.3,1.2 2.5,2.8 1.4,4.3 0,3 -1.4,4.4 -2.3,2.6 -2.3,1.4 -2.9,0 -2.3,-1.3 -1.4,-1.3 -1.2,-1.8 0,-10.9 0.4,-0.7 2.1,-2.4zM779.0,1728.0l-0.6,0.6 0,32 0.3,0.5 0.5,0.1 0.6,-0.6 0,-32 -0.3,-0.5zM696.1,1726.3l-1.1,0.9 -0.8,1 -0.1,0.6 1.5,1.9 0.8,0.3 1.2,-1.2 0.6,-1.2 -1.2,-1.9zM664.1,1726.3l-0.5,0.3 -1,1.2 -0.4,1 1.3,1.8 0.9,0.4 1.3,-1.2 0.7,-1.2 -0.9,-1.4 -0.7,-0.6z"><title>provisional</title></path>
<path fill="#2a2a2a" d="M898.1,1756.7l-0.6,0.3 -1.1,1.2 -0.2,0.9 1,1.5 1.1,0.6 1.2,-1 0.7,-1 0,-0.5 -1.4,-1.7zM877.6,1738.6l-1.8,1.1 -1.3,1.1 -2,2.5 -1.3,4.5 0,4 1.2,4.4 2.8,3.4 2.4,1.5 4.7,0.1 1.9,-1 1.8,-1.4 0.3,0.4 0,1.4 0.3,0.5 0.6,0.1 0.6,-0.6 0,-21.5 -0.6,-0.7 -0.6,0.2 -0.3,0.5 0,1.5 -0.4,0.4 -1.3,-1.2 -2.4,-1.4zM878.9,1740.0l2.5,0 1.9,1 1.3,1.2 1.7,2.2 0,10.8 -0.9,1.4 -1.9,2 -2,1.1 -2.7,0 -2.3,-1.3 -2.3,-2.6 -1.6,-4.7 0,-2.4 1.4,-4.6 2.4,-2.8zM838.8,1738.6l-2.6,1.6 -2.6,3 -1.3,4.5 0,4.3 1.1,4 0.4,0.7 2.6,3 2.6,1.5 4.4,0 2.2,-1.2 1.2,-1 0.5,0.3 0.1,1.5 0.8,0.4 0.6,-0.6 0,-21.5 -0.6,-0.7 -0.6,0.2 -0.3,0.5 0,1.3 -0.5,0.4 -0.9,-0.8 -2.6,-1.6zM839.9,1740.0l2.6,0 1.9,1 1,0.8 1.9,2.5 0,11 -0.4,0.8 -2.3,2.5 -2.1,1.1 -2.6,0 -2.5,-1.4 -2.4,-2.9 -1.2,-4.2 0,-2.8 1.2,-4.2 2.6,-3zM859.3,1728.0l-0.7,0.6 0,9.4 -0.4,0.4 -2.7,0 -0.5,0.4 -0.1,0.5 0.6,0.7 2.7,0 0.4,0.4 0,14.7 1.2,3.9 0.5,0.7 2.6,1.5 2.9,0 0.6,-0.6 -0.4,-0.8 -2.6,-0.2 -1.4,-0.8 -0.7,-0.7 -1.1,-3.9 0,-13.8 0.4,-0.4 3.9,0 0.5,-0.4 0.2,-0.5 -0.7,-0.7 -3.9,0 -0.4,-0.4 0,-9.4 -0.4,-0.5zM824.4,1728.0l-0.5,0.1 -0.4,0.5 0,12 -0.3,0.4 -1.3,-1.2 -2.5,-1.4 -4.5,0.2 -2.3,1.4 -1.2,1.2 -1.6,2 -1.4,4.6 0,4 1.1,4.2 3,3.7 2.7,1.5 4.3,0 2.7,-1.5 1,-1 0.3,0.4 0.1,1.7 0.8,0.4 0.6,-0.6 0,-32zM816.0,1740.0l2.6,0 2.3,1.2 2.1,2.4 0.5,0.8 0,10.8 -1.5,2.1 -1.2,1.3 -2.2,1.1 -2.6,0 -2.6,-1.5 -2.4,-3 -1.1,-4.1 0,-2.4 1.3,-4.5 2.4,-2.9z"><title>data.</title></path>
<path fill="#2a2a2a" d="M1958.4,1728.0l-3.7,1.6 -2.5,3 -0.1,4.1 0.9,2.4 1.7,2.3 2.3,1.4 7.3,3 2.8,1.6 1.1,1.4 1.2,3.2 0,3.2 -0.8,1.4 -1.6,1.7 -3.6,1.4 -4,0 -3.4,-1.4 -2,-2.3 -1,-0.8 -0.8,0.4 -0.1,0.6 2.3,3.1 1.3,0.8 3,1.1 5.6,0 3.9,-1.6 2.5,-3 0.3,-0.5 0,-5 -1.4,-3.3 -1.6,-1.8 -2.6,-1.6 -7.2,-2.8 -2.2,-1.4 -1.2,-1.2 -1.1,-2.6 -0.1,-2.7 2.1,-2.7 3.5,-1.6 4.5,0 3.5,1.6 2.4,2.7 0.7,0.3 0.5,-0.4 0.2,-0.5 -2.2,-2.9 -0.7,-0.8 -3.7,-1.4zM1943.9,1728.0l-0.7,0.6 0,32 0.4,0.5 0.5,0.1 0.6,-0.6 0,-32 -0.4,-0.5zM1923.9,1728.0l-1.6,0.7 -1.8,1.5 -2,2.5 -1.2,2.6 -1.3,4.7 0,9.1 1.2,4.5 1.3,2.8 2.6,3.2 2.8,1.6 5.4,0 2.7,-1.5 2.7,-3.3 1.4,-3.2 -0.1,-0.8 -0.5,-0.3 -0.8,0.2 -1.6,3.5 -2.5,2.8 -2,1.1 -3.9,0 -2.2,-1.3 -2.8,-3.2 -0.8,-2.1 -1.3,-4.3 -0.1,-8 1.4,-4.7 1.1,-2.7 2.3,-2.7 2.3,-1.3 4.1,0 2,1.2 2.5,2.8 1.5,3.3 0.8,0.3 0.5,-0.4 0.1,-0.5 -1.4,-3.4 -2,-2.5 -1.4,-1.2 -1.8,-1zM1901.7,1728.0l-0.6,0.4 -9.8,31 -0.1,1.2 0.4,0.5 0.5,0.1 0.9,-1 2.4,-8.4 0.7,-1.1 11.3,-0.1 0.7,0.6 2.7,9 0.6,0.9 0.6,0.1 0.6,-0.6 -0.3,-1.5 -9.5,-30.3 -0.4,-0.6zM1901.8,1732.3l0.5,0.5 4.9,15.8 -0.5,0.5 -9.6,0 -0.5,-0.4 4.6,-15.3z"><title>ACIS</title></path>
<path fill="#2a2a2a" d="M2036.2,1738.5l-2.8,1.7 -2.6,3.1 -1.4,4.6 0,4 1.2,4.2 0.3,0.7 2.4,2.9 2.7,1.6 4.3,0 2.4,-1.4 2.7,-3.2 0.3,-0.5 -0.1,-0.5 -0.6,-0.4 -0.8,0.2 -2.5,3 -1.9,1.2 -3.2,0 -1.9,-1.2 -2.4,-2.7 -1.4,-4.6 0,-1.5 0.5,-0.5 13.6,0 0.7,-0.7 0,-3.3 -1.3,-3.1 -1.1,-1.6 -0.9,-0.7 -2.2,-1.3zM2031.4,1746.7l0.6,-2.3 0.8,-1.1 1.8,-2 2.3,-1.3 2.5,0 2,1.1 1.4,1.5 1.4,3.2 0,1.3 -0.5,0.5 -11.9,0 -0.4,-0.4zM2053.3,1728.0l-0.6,0.6 0,32 0.6,0.6 0.5,-0.1 0.4,-0.5 0,-1.4 0.3,-0.4 1.8,1.4 1.9,1 4.1,0 2.6,-1.5 2.5,-3 0.4,-0.7 1.1,-4.2 0,-4 -1.4,-4.6 -2.8,-3.4 -2.4,-1.4 -4.1,0 -2.8,1.7 -0.7,0.7 -0.4,-0.1 -0.1,-12.1 -0.4,-0.5zM2059.0,1740.0l2.8,0.1 1.9,1.1 2.6,3.2 1.1,4.3 0,2.4 -1.2,4.3 -2.7,3.2 -2,1.1 -2.6,0 -1,-0.5 -2,-1.5 -1.7,-2.4 0,-10.9 1.3,-2 1.3,-1.2zM1999.2,1728.1l-0.4,0.5 0.2,2.1 5.9,30 0.9,0.5 0.8,-0.8 4.8,-25.6 0.4,-0.5 0.4,0.5 4.8,25.6 0.6,0.7 0.7,0 0.5,-0.7 5.8,-29.7 0.2,-1.5 -0.1,-0.9 -0.8,-0.3 -0.7,0.7 -4.9,25.6 -0.4,0.5 -0.3,-0.5 -4.9,-25.6 -0.8,-0.7 -0.9,0.4 -5,25.9 -0.3,0.5 -0.4,-0.5 -4.9,-25.6 -0.5,-0.6z"><title>Web</title></path>
<path fill="#2a2a2a" d="M2243.2,1738.5l-3.3,1.3 -1,0.7 -1.2,2.9 0,1 0.6,1.7 1,1.6 2.7,1.6 5.7,1.2 2.1,1.2 0.7,0.8 0.9,2.2 0.1,0.8 -1,2.4 -0.6,0.6 -3.1,1.3 -2.9,0 -3.2,-1.3 -0.8,-0.8 -0.7,-1.9 -0.7,-0.5 -0.7,0.4 -0.1,0.8 1.2,2.9 0.6,0.5 3.5,1.4 4.5,0 4,-1.6 0.8,-1.4 0.7,-2 0,-2 -1.5,-3.5 -2.7,-1.6 -6,-1.4 -1.8,-1 -1,-1 -0.6,-2.1 0.5,-1.4 0.6,-0.9 3.4,-1.3 2.8,0 3.2,1.2 0.5,0.5 0.9,2.1 0.9,0.8 0.7,-0.4 0.1,-0.6 -1.2,-3 -0.6,-0.6 -3.7,-1.6zM2221.8,1738.5l-2.8,1.7 -2.7,3.2 -1.4,4.7 0,3.7 1.4,4.7 2.9,3.3 2.6,1.5 4.2,0 2.5,-1.4 1.2,-1.1 1.7,-2.3 0,-0.8 -0.5,-0.4 -0.7,0.2 -2.7,3 -2.2,1.3 -2.8,0 -2.2,-1.3 -2.5,-2.8 -1.4,-4.6 0,-1.4 0.5,-0.5 14,0 0.6,-0.7 0,-3.6 -1.3,-3.1 -1,-1.3 -1.3,-1 -1.9,-1zM2216.9,1747.0l0.8,-2.7 2.3,-2.9 2.7,-1.4 2.5,0 2.5,1.3 1,1.1 1.3,3.3 0,1.4 -0.5,0.5 -12.1,0zM2199.2,1738.5l-2.7,1.6 -2.8,3.2 -1.4,4.6 0,4 1.4,4.6 2.7,3.3 2.8,1.5 4.2,0 2.3,-1.2 1,-0.9 2.2,-3 -0.1,-0.5 -0.5,-0.4 -0.9,0.2 -2.7,3.2 -2,1.1 -2.8,0 -2.6,-1.5 -2.4,-3 -1.1,-4.1 0,-2.4 1,-3.9 0.6,-1.1 2.1,-2.4 2.4,-1.3 2.6,0 2.3,1.2 2.2,2.6 1,0.8 0.8,-0.4 0.1,-0.6 -2.1,-2.8 -1,-1 -2.5,-1.4zM2184.0,1738.5l-0.6,0.7 0,21.5 0.4,0.5 0.5,0.1 0.6,-0.6 0,-21.5 -0.4,-0.5zM2161.4,1738.5l-0.5,0.4 -0.1,0.8 7.4,20.8 0.5,0.7 0.5,0.1 0.5,-0.2 0.5,-0.9 7.1,-20 0.1,-1 -0.4,-0.5 -0.5,-0.2 -0.6,0.6 -6.2,17.4 -0.4,0.7 -0.4,0 -0.4,-0.5 -6,-17.2 -0.6,-0.8zM2157.9,1738.5l-4.5,0.2 -2.4,1.5 -2.2,2.3 -0.4,-0.3 -0.1,-3.3 -0.8,-0.4 -0.6,0.7 0,21.5 0.6,0.6 0.5,-0.1 0.4,-0.5 0,-11.9 1.3,-4.4 2.5,-3 2.5,-1.3 3.5,-0.2 0.3,-0.7zM2129.9,1738.5l-3,1.8 -2.5,3 -1.4,4.4 0,4.5 1.3,4.2 2.9,3.4 2.6,1.5 4.4,0 2.8,-1.8 2.4,-2.8 0.3,-0.5 -0.2,-0.5 -0.5,-0.4 -0.8,0.2 -2.8,3.2 -1.7,1 -3.4,0 -2.1,-1.3 -2.5,-3 -1.2,-4 0,-1.7 0.5,-0.5 14,0 0.7,-0.7 0,-3.3 -1.4,-3.3 -1.6,-1.8 -2.7,-1.6zM2125.0,1746.6l0.5,-1.9 1.5,-2.1 1.4,-1.4 2.3,-1.2 2.6,0 2.2,1.2 1.4,1.6 1.3,3 0,1.3 -0.5,0.5 -12.3,0 -0.4,-0.4zM2104.3,1728.0l-3.6,1.4 -2.7,3 -0.2,0.6 0,3.6 1.2,3.1 1.9,2 2.9,1.6 6.7,2.7 2.4,1.3 1.4,1.7 1,2.4 0.1,3.9 -2.2,2.9 -3.8,1.5 -4.1,0 -3.9,-1.6 -2,-2.5 -0.6,-0.4 -0.6,0.1 -0.4,0.8 1.6,2.2 1.5,1.5 3.6,1.4 5.7,0 3.8,-1.5 2.8,-3.3 0,-5.8 -1.1,-2.6 -1.8,-2 -2.5,-1.6 -7.4,-2.8 -2.2,-1.4 -1.3,-1.4 -1.2,-3 0,-2 0.4,-0.7 1.8,-2.1 3.5,-1.6 4.7,0 3.5,1.6 2,2.3 0.8,0.7 0.8,-0.4 0.1,-0.6 -2.6,-3.4 -3.9,-1.6zM2184.0,1726.3l-0.5,0.3 -1,1.2 -0.3,1 1.2,1.8 0.9,0.4 0.5,-0.3 1.1,-1.3 0.3,-1.1 -1.4,-1.7z"><title>Services</title></path>
<path fill="#222" d="M2157.4,351.3l-4,1.4 -2.6,3.7 -0.6,1.4 -1,5.1 0,4.1 1.3,6.2 2.4,3.6 1.3,1 3.4,1 2.8,0 4.2,-1.5 2.4,-3.4 0.5,-1 1.1,-5.5 0,-4.9 -1.2,-5.7 -2.4,-3.6 -1.2,-0.9 -3.2,-1zM2157.8,353.5l2.4,0 2.7,0.9 0.7,0.8 1.6,2.5 1.2,5.2 0,4.3 -1.2,5.1 -1.3,2.2 -0.9,1 -3,1 -2.1,0 -2.8,-0.8 -0.6,-0.5 -1.9,-2.9 -1.1,-5.5 0,-3.5 1,-5.3 1.5,-2.5 0.9,-1zM2132.8,351.3l-3.9,1.4 -2.5,3.3 -0.5,1 -1.3,6 0,3.9 1.3,6 2.5,4 1,0.8 3.6,1.1 2.8,0 4.2,-1.5 2.6,-3.6 0.5,-1.5 1,-5.2 0,-4.1 -1.2,-6 -2.3,-3.5 -0.7,-0.7 -1,-0.5 -2.4,-0.8zM2133.1,353.5l3,0.2 1.9,0.6 1,0.7 1.8,2.8 1.1,5.5 0,3.5 -1.1,5.5 -1.7,2.5 -0.7,0.7 -2.9,1 -2.3,0 -2.6,-0.8 -0.8,-0.8 -1.7,-2.5 -1.2,-5.7 0,-3.3 1.1,-5.5 1.6,-2.6 0.9,-0.9zM2107.0,351.3l-3.9,1.4 -0.6,0.7 -1.1,2.4 0,2.9 1,2.1 0.8,1 1.6,0.7 0.2,0.4 -3.5,3.4 -1,1.9 -0.4,1.1 0,3.6 1.3,2.8 2.2,2 3.6,1.1 5.3,0 4.3,-1.5 1.4,-1.5 1.4,-2.9 -0.1,-4.1 -1.4,-2.6 -3.3,-3.3 0.4,-0.5 1.3,-0.6 0.7,-0.9 1.2,-2.5 0,-2.4 -1.3,-2.7 -0.5,-0.6 -3.8,-1.4zM2103.4,367.5l2,-2 4,-1.3 1,0 3.5,1.1 2.3,2.1 1,2 0,3.4 -0.7,1.5 -0.9,1 -3.5,1.2 -4.6,0 -2.7,-0.8 -1.4,-1.2 -1,-2 0,-2.8zM2103.6,356.4l0.5,-1.2 0.9,-0.9 2.4,-0.8 4.8,0 2.4,0.8 0.8,0.6 0.7,1.6 0,1.4 -0.5,1.3 -0.8,1 -2.3,1 -2,0.5 -1.1,0 -2.9,-0.8 -1.5,-0.7 -0.8,-0.8 -0.4,-1z"><title>800</title></path>
<path fill="#222" d="M2113.1,455.7l-0.9,0.8 -11.8,16.4 -0.2,1.1 0.4,0.5 0.6,0.2 10.7,0 0.5,0.6 0,6.7 0.4,0.7 0.3,0.3 0.8,0 0.5,-0.4 0.2,-0.6 0,-6.7 0.5,-0.6 4.5,0 0.8,-0.3 0.2,-0.4 0,-0.7 -0.4,-0.6 -0.6,-0.2 -4.5,0 -0.5,-0.5 0,-15.3 -0.4,-0.7 -0.3,-0.3zM2112.0,460.9l0.4,0.4 0,10.6 -0.5,0.5 -7.7,0 -0.3,-0.5 1,-1.6 6.5,-8.9zM2157.4,455.5l-4,1.4 -2.6,3.7 -0.6,1.4 -1,5.2 0,4.1 1.3,6.1 2.4,3.6 1.3,1 3.4,1 2.8,0 4.2,-1.5 2.4,-3.3 0.5,-1 1.1,-5.6 0,-4.8 -1.2,-5.8 -2.4,-3.6 -1.2,-0.9 -3.2,-1zM2157.8,457.8l2.4,0 2.7,0.8 0.7,0.8 1.6,2.5 1.2,5.3 0,4.2 -1.2,5.1 -1.3,2.3 -0.9,1 -3,1 -2.1,0 -2.8,-0.9 -0.6,-0.5 -1.9,-2.9 -1.1,-5.5 0,-3.5 1,-5.2 1.5,-2.5 0.9,-1zM2132.8,455.5l-3.9,1.4 -2.5,3.4 -0.5,1 -1.3,6 0,3.9 1.3,6 2.5,4 1,0.7 3.6,1.1 2.8,0 4.2,-1.5 2.6,-3.6 0.5,-1.5 1,-5.1 0,-4.1 -1.2,-6 -2.3,-3.6 -0.7,-0.7 -1,-0.5 -2.4,-0.8zM2133.1,457.8l3,0.1 1.9,0.6 1,0.8 1.8,2.7 1.1,5.5 0,3.5 -1.1,5.5 -1.7,2.5 -0.7,0.8 -2.9,1 -2.3,0 -2.6,-0.9 -0.8,-0.7 -1.7,-2.6 -1.2,-5.7 0,-3.3 1.1,-5.4 1.6,-2.7 0.9,-0.9z"><title>400</title></path>
<path fill="#222" d="M2157.4,559.8l-4,1.4 -2.6,3.7 -0.6,1.4 -1,5.1 0,4.1 1.3,6.1 2.4,3.7 1.3,1 3.4,1 2.8,0 4.2,-1.5 2.4,-3.4 0.5,-1 1.1,-5.5 0,-4.9 -1.2,-5.7 -2.4,-3.7 -1.2,-0.8 -3.2,-1zM2157.8,562.0l2.4,0 2.7,0.9 0.7,0.7 1.6,2.6 1.2,5.2 0,4.2 -1.2,5.2 -1.3,2.2 -0.9,1 -3,1 -2.1,0 -2.8,-0.8 -0.6,-0.6 -1.9,-2.8 -1.1,-5.5 0,-3.5 1,-5.3 1.5,-2.5 0.9,-1zM2132.8,559.8l-3.9,1.4 -2.5,3.3 -0.5,1 -1.3,6 0,3.9 1.3,6 2.5,4 1,0.8 3.6,1.1 2.8,0 4.2,-1.5 2.6,-3.6 0.5,-1.6 1,-5.1 0,-4.1 -1.2,-6 -2.3,-3.5 -0.7,-0.7 -1,-0.6 -2.4,-0.7zM2133.1,562.0l3,0.2 1.9,0.6 1,0.7 1.8,2.8 1.1,5.5 0,3.5 -1.1,5.5 -1.7,2.5 -0.7,0.7 -2.9,1 -2.3,0 -2.6,-0.8 -0.8,-0.8 -1.7,-2.5 -1.2,-5.7 0,-3.3 1.1,-5.5 1.6,-2.6 0.9,-0.9zM2104.2,561.1l-1.4,1.4 -1.4,2.9 0,1.4 0.2,0.6 0.5,0.4 0.8,0 0.5,-0.4 0.4,-1.9 1,-1.8 1,-0.9 1.8,-0.9 4.5,0 1.9,0.9 1,1 1,1.9 0.1,1.8 -0.9,1.9 -2.3,3.7 -12.5,12.3 -0.2,1 0.4,0.5 0.6,0.3 17.3,0 0.6,-0.3 0.4,-0.5 0,-0.7 -0.4,-0.5 -0.6,-0.3 -13.5,0 -0.4,-0.2 0.2,-0.5 10.2,-10.3 1.9,-2.7 1.5,-3.1 0,-2.6 -1.4,-2.8 -1.8,-1.8 -2.2,-1.1 -5.8,-0.1z"><title>200</title></path>
<path fill="#222" d="M2110.6,664.1l-3.7,3.4 -2.6,1.4 -0.4,0.5 0,0.8 0.4,0.5 0.9,0.2 2.5,-1.1 1.7,-1.5 0.5,0.4 0,21.6 0.4,0.8 0.4,0.2 0.7,0 0.5,-0.4 0.3,-0.6 0,-25.2 -0.5,-0.9zM2157.3,664.0l-3.9,1.4 -2.5,3.4 -0.5,1 -1.2,6 0,3.8 1.2,6 2.5,4 1,0.8 3.7,1.1 2.7,0 4.3,-1.5 2.5,-3.5 0.6,-1.6 1,-5.1 0,-4.2 -1.3,-6 -2.2,-3.4 -0.8,-0.8 -1,-0.5 -2.3,-0.7zM2157.7,666.3l3,0.1 1.9,0.6 1,0.8 1.6,2.5 1.2,5.7 0,3.5 -1.2,5.8 -2.3,3 -2.8,1 -2.3,0 -2.6,-0.9 -0.9,-0.8 -1.6,-2.4 -1.3,-5.8 0,-3.2 1.2,-5.6 1.6,-2.6 0.9,-0.8zM2127.9,664.1l-0.5,0.3 -0.5,1.5 -0.1,2.6 -0.9,6.3 0,1 0.3,0.6 0.5,0.4 0.7,0 1.9,-1.4 2.8,-0.9 3.3,0 3.2,1 2.1,2 1.1,3.2 0,2.4 -1.1,3.1 -1.8,1.7 -3.5,1.3 -3.3,0 -3.3,-1.1 -0.9,-0.9 -1,-2 -0.7,-0.8 -0.8,0 -0.5,0.4 -0.1,1.3 1.1,2.2 1.7,1.6 4.2,1.5 4,0 3.6,-1.1 3.3,-3 1.4,-3.9 0,-3.1 -1.4,-3.9 -3.3,-3 -3.6,-1.1 -4,0 -2.7,0.9 -0.5,-0.4 0,-1.1 0.6,-5 0.5,-0.5 10.9,0 0.7,-0.4 0.3,-0.4 0,-0.7 -0.4,-0.5 -0.6,-0.3z"><title>150</title></path>
<path fill="#222" d="M2110.6,768.4l-3.7,3.5 -2.6,1.4 -0.4,0.5 0,0.7 0.4,0.5 0.9,0.3 2.5,-1.1 1.7,-1.6 0.5,0.4 0,21.6 0.4,0.8 0.4,0.2 0.7,0 0.5,-0.3 0.3,-0.7 0,-25.2 -0.5,-0.9zM2152.4,768.4l-0.5,0.4 -0.3,1 -1.2,10 0.3,1 0.5,0.4 0.9,0 1.5,-1.3 3.1,-1 3.4,0 2.7,0.9 1.6,1.2 1.2,1.5 0.8,2.8 0,1.9 -1.2,3.4 -1.6,1.7 -3.5,1.2 -3.4,0 -3.1,-1 -1,-0.9 -1,-2 -0.9,-0.8 -0.8,0 -0.5,0.4 0,1.4 1.2,2.2 1.5,1.5 3.7,1.3 4.5,0.2 3.6,-1.2 1.9,-1.4 1.5,-1.7 1.4,-4 0,-2.6 -1.4,-4 -2.7,-2.7 -4.3,-1.6 -4,0 -2.7,0.9 -0.4,-0.2 -0.1,-0.7 0.2,-0.7 0.4,-4.5 0.4,-0.8 11,-0.1 0.7,-0.3 0.3,-0.4 0,-0.8 -0.4,-0.5 -0.6,-0.2zM2131.3,768.4l-2.5,1.2 -1.5,1.6 -1.4,2.8 0,1.4 0.4,0.8 0.4,0.2 0.7,0 0.4,-0.2 0.4,-0.8 0.1,-1.2 1,-1.9 1,-0.9 1.9,-0.9 4.5,0 1.9,0.9 1,1 1,1.9 0.1,1.9 -0.9,1.8 -2.5,3.8 -12.4,12.2 -0.1,1 0.4,0.5 0.6,0.3 17.5,-0.2 0.6,-0.6 0,-0.7 -0.3,-0.5 -0.7,-0.3 -13.3,0 -0.4,-0.2 0.1,-0.5 9.9,-9.8 2.2,-3.2 1.5,-3.2 -0.1,-2.8 -1.2,-2.5 -1.8,-1.8 -2.7,-1.2z"><title>125</title></path>
<path fill="#222" d="M2110.6,872.6l-3.7,3.6 -2.6,1.3 -0.4,0.5 0,0.8 0.4,0.5 0.9,0.2 2.5,-1.1 1.7,-1.5 0.5,0.4 0,21.6 0.4,0.7 0.4,0.3 0.7,0 0.5,-0.4 0.3,-0.6 0,-25.3 -0.5,-0.8zM2157.3,872.5l-3.9,1.4 -2.5,3.4 -0.5,1 -1.2,6 0,3.9 1.2,6 2.5,4 1,0.7 3.7,1.1 2.7,0 4.3,-1.5 2.5,-3.5 0.6,-1.6 1,-5.1 0,-4.1 -1.3,-6 -2.2,-3.6 -0.8,-0.7 -1,-0.5 -2.3,-0.8zM2157.7,874.8l3,0.1 1.9,0.6 1,0.8 1.6,2.5 1.2,5.7 0,3.5 -1.2,5.8 -2.3,3 -2.8,1 -2.3,0 -2.6,-0.9 -0.9,-0.7 -1.6,-2.6 -1.3,-5.7 0,-3.3 1.2,-5.4 1.6,-2.7 0.9,-0.9zM2132.8,872.5l-4,1.4 -2.6,3.7 -1.5,6.6 0,4.1 1.2,6.1 2.4,3.6 1.1,0.9 3.7,1.1 2.7,0 4.3,-1.5 2.3,-3.3 0.5,-1 1.2,-5.6 0,-4.8 -1.3,-5.8 -2.4,-3.6 -1.2,-0.9 -3.1,-1zM2133.2,874.8l2.5,0 2.4,0.7 1.1,1 1.6,2.7 1,5 0,4.2 -1,4.9 -1.7,2.9 -0.7,0.6 -3,1 -2.6,-0.2 -2.4,-0.8 -0.7,-0.8 -1.6,-2.5 -1.2,-5.5 0,-3.5 1.2,-5.5 1.3,-2.2 0.9,-1z"><title>100</title></path>
<path fill="#222" d="M2127.9,976.9l-0.5,0.4 -0.4,1 -1.1,10 0.2,1 0.5,0.3 0.9,0 1.5,-1.2 3.1,-1 3.4,0 2.7,0.9 1.7,1.2 1.1,1.5 0.9,2.8 0,1.8 -1.3,3.6 -1.6,1.6 -3.5,1.2 -3.4,0 -3.1,-1 -1,-0.8 -1,-2 -0.9,-0.9 -0.7,0 -0.5,0.3 -0.1,1.2 1.2,2.5 1.5,1.5 3.7,1.4 4.6,0.1 3.6,-1.1 3.2,-2.9 1.5,-4.3 0,-2.6 -1.5,-4.2 -3,-2.8 -3.8,-1.2 -4,0 -2.8,0.8 -0.4,-0.2 -0.1,-0.6 0.3,-0.8 0.3,-4.5 0.4,-0.7 11,-0.2 0.7,-0.4 0.3,-0.3 0,-0.8 -0.4,-0.5 -0.6,-0.2zM2118.9,976.9l-17.7,-0.1 -0.6,0.2 -0.4,0.5 0,0.8 0.4,0.5 0.6,0.2 14.7,0 0.3,0.3 -0.3,1.3 -10.8,22 0,0.9 0.7,0.7 0.7,0 0.7,-0.7 12.3,-25.2 0,-0.8z"><title>75</title></path>
<path fill="#222" d="M2132.8,1081.0l-3.9,1.4 -2.5,3.4 -0.5,1 -1.3,6 0,3.8 1.3,6 2.5,4 1,0.8 3.6,1.1 2.8,0 4.2,-1.5 2.6,-3.6 0.5,-1.5 1,-5.1 0,-4.2 -1.2,-6 -2.3,-3.5 -0.7,-0.7 -1,-0.5 -2.4,-0.8zM2133.1,1083.3l3,0.1 1.9,0.6 1,0.8 1.8,2.7 1.1,5.5 0,3.5 -1.1,5.5 -1.7,2.5 -0.7,0.8 -2.9,1 -2.3,0 -2.6,-0.9 -0.8,-0.8 -1.7,-2.5 -1.2,-5.7 0,-3.3 1.1,-5.5 1.6,-2.6 0.9,-0.9zM2103.4,1081.1l-0.5,0.4 -0.5,1.5 -0.5,6 -0.5,2.9 0,1 0.2,0.6 0.5,0.4 0.8,0 1.9,-1.4 2.7,-0.9 3.4,0 3.1,1 2.1,2 1.3,3.5 0,1.7 -1.3,3.5 -2.1,2 -3.1,1 -3.4,0 -3.3,-1.2 -0.8,-0.8 -1,-2 -0.8,-0.8 -0.7,0 -0.5,0.4 -0.2,1.2 1.2,2.3 1.6,1.6 4.2,1.5 4,0 3.7,-1.1 3.2,-3 1.5,-4.1 0,-2.7 -1.5,-4.1 -3,-2.9 -3.9,-1.2 -4,0 -2.2,0.7 -0.8,0 -0.2,-0.7 0.6,-5.6 0.5,-0.5 10.9,0 0.8,-0.4 0.2,-0.4 0,-0.7 -0.4,-0.5 -0.6,-0.3z"><title>50</title></path>
<path fill="#222" d="M2127.9,1185.4l-0.5,0.4 -0.4,1 -1.1,10 0.2,1 0.5,0.3 0.9,0 1.5,-1.2 3.1,-1 3.4,0 2.7,0.9 1.7,1.2 1.1,1.5 0.9,2.8 0,1.8 -1.3,3.5 -1.6,1.7 -3.5,1.2 -3.4,0 -3.1,-1 -1,-0.9 -1,-2 -0.9,-0.8 -0.7,0 -0.5,0.3 -0.1,1.2 1.2,2.5 1.5,1.5 3.7,1.3 4.6,0.2 3.6,-1.2 3.2,-2.8 1.5,-4.3 0,-2.6 -1.5,-4.3 -3,-2.7 -3.8,-1.3 -4,0 -2.8,0.9 -0.4,-0.2 -0.1,-0.7 0.3,-0.7 0.3,-4.5 0.4,-0.8 11,-0.1 0.7,-0.4 0.3,-0.3 0,-0.8 -0.4,-0.5 -0.6,-0.2zM2104.2,1186.6l-1.4,1.5 -1.4,2.9 0,1.4 0.2,0.6 0.5,0.4 0.8,0 0.5,-0.4 0.4,-1.9 1,-1.8 1,-0.9 1.8,-0.9 4.5,0 1.9,0.9 1,1 1,1.9 0.1,1.8 -0.9,1.9 -2.3,3.6 -12.5,12.4 -0.2,1 0.4,0.5 0.6,0.3 17.3,0 0.6,-0.3 0.4,-0.5 0,-0.7 -0.4,-0.5 -0.6,-0.3 -13.5,0 -0.4,-0.2 0.2,-0.5 10.2,-10.3 1.9,-2.7 1.5,-3.2 0,-2.5 -1.4,-2.8 -1.8,-1.8 -2.2,-1.1 -5.8,-0.1z"><title>25</title></path>
<path fill="#222" d="M2103.4,1289.6l-0.5,0.4 -0.5,1.5 -0.5,6 -0.5,2.9 0,1 0.2,0.6 0.5,0.4 0.8,0 1.9,-1.4 2.7,-0.9 3.4,0 3.1,1 2.1,2 1.3,3.5 0,1.7 -1.3,3.5 -2.1,2 -3.1,1 -3.4,0 -3.3,-1.2 -0.8,-0.8 -1,-2 -0.8,-0.8 -0.7,0 -0.5,0.4 -0.2,1.2 1.2,2.3 1.6,1.6 4.2,1.5 4,0 3.7,-1.1 3.2,-3 1.5,-4.1 0,-2.7 -1.5,-4.1 -3,-2.9 -3.9,-1.2 -4,0 -2.2,0.7 -0.8,0 -0.2,-0.7 0.6,-5.6 0.5,-0.5 10.9,0 0.8,-0.4 0.2,-0.4 0,-0.7 -0.4,-0.5 -0.6,-0.3z"><title>5</title></path>
<path fill="#222" d="M2104.2,1395.1l-1.4,1.5 -1.4,2.9 0,1.4 0.2,0.6 0.5,0.4 0.8,0 0.5,-0.4 0.4,-1.9 1,-1.8 1,-0.9 1.8,-0.9 4.5,0 1.9,0.9 1,1 1,1.9 0.1,1.8 -0.9,1.9 -2.3,3.6 -12.5,12.4 -0.2,1 0.4,0.5 0.6,0.3 17.3,0 0.6,-0.3 0.4,-0.5 0,-0.7 -0.4,-0.5 -0.6,-0.3 -13.5,0 -0.4,-0.2 0.2,-0.5 10.2,-10.3 1.9,-2.7 1.5,-3.2 0,-2.5 -1.4,-2.8 -1.8,-1.8 -2.2,-1.1 -5.8,-0.1z"><title>2</title></path>
</g>
</svg>
<div class="sr">Percent of Normal Precipitation (%) 6/1/2025 - 6/30/2025. Generated 7/2/2025 using provisional data. ACIS Web Services. 800 400 200 150 125 100 75 50 25 5 2</div>
</body></html>
